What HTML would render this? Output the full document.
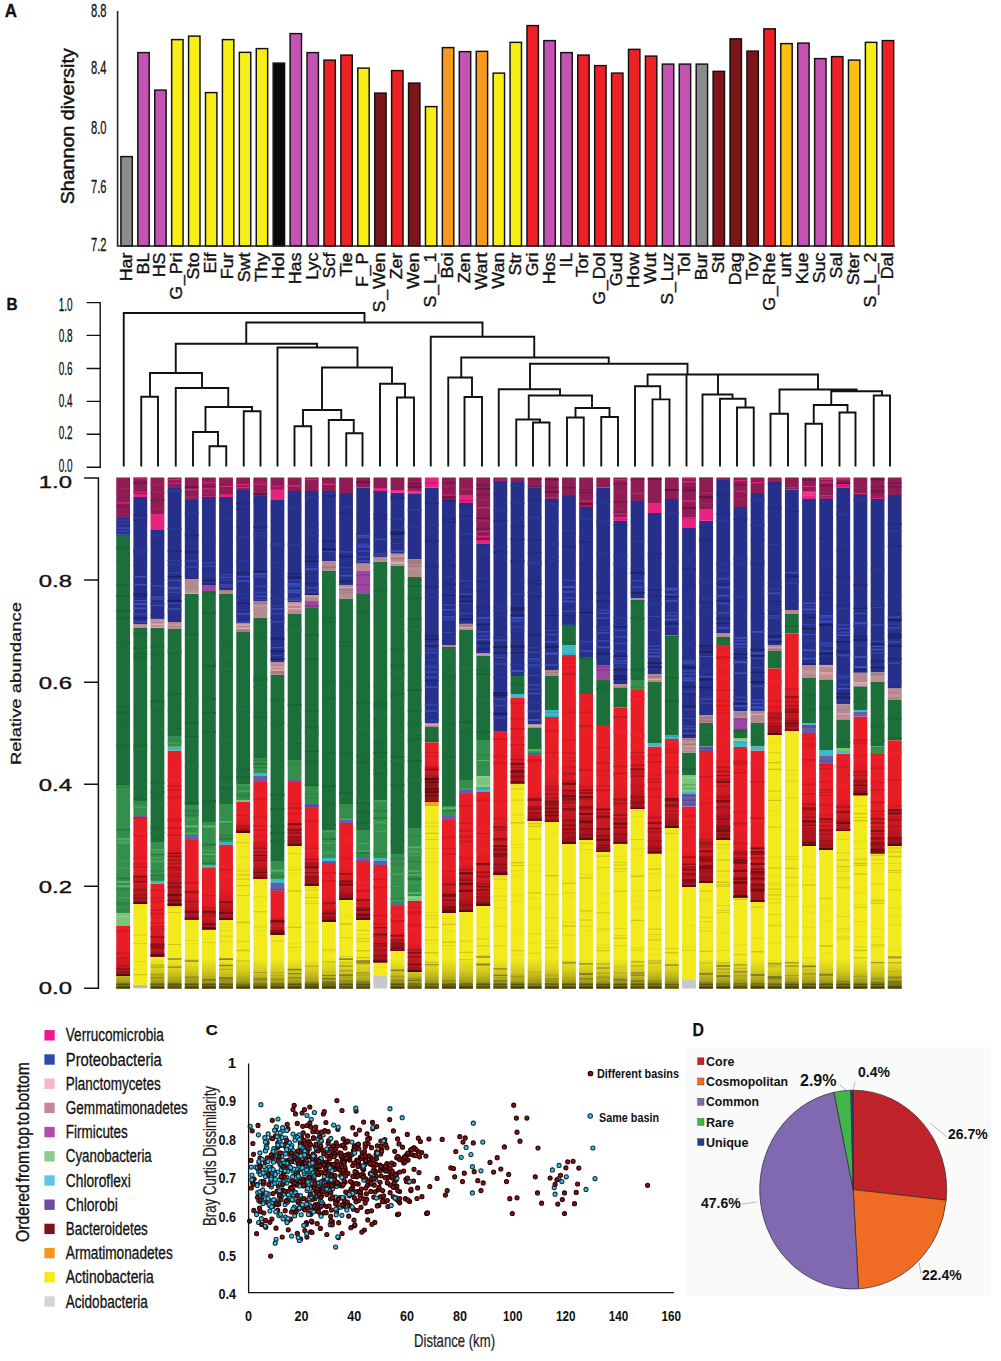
<!DOCTYPE html>
<html><head><meta charset="utf-8"><style>
html,body{margin:0;padding:0;background:#fff;width:1001px;height:1361px;overflow:hidden}
svg{display:block;font-family:"Liberation Sans", sans-serif}
</style></head><body>
<svg width="1001" height="1361" viewBox="0 0 1001 1361">
<rect width="1001" height="1361" fill="#fff"/>
<rect x="120.90" y="156.60" width="11.4" height="89.40" fill="#8c8c8c" stroke="#111" stroke-width="1.45"/>
<rect x="137.82" y="52.60" width="11.4" height="193.40" fill="#c453b4" stroke="#111" stroke-width="1.45"/>
<rect x="154.74" y="90.10" width="11.4" height="155.90" fill="#c453b4" stroke="#111" stroke-width="1.45"/>
<rect x="171.66" y="39.60" width="11.4" height="206.40" fill="#f7ee15" stroke="#111" stroke-width="1.45"/>
<rect x="188.58" y="36.10" width="11.4" height="209.90" fill="#f7ee15" stroke="#111" stroke-width="1.45"/>
<rect x="205.50" y="92.60" width="11.4" height="153.40" fill="#f7ee15" stroke="#111" stroke-width="1.45"/>
<rect x="222.42" y="39.60" width="11.4" height="206.40" fill="#f7ee15" stroke="#111" stroke-width="1.45"/>
<rect x="239.34" y="52.35" width="11.4" height="193.65" fill="#f7ee15" stroke="#111" stroke-width="1.45"/>
<rect x="256.26" y="48.60" width="11.4" height="197.40" fill="#f7ee15" stroke="#111" stroke-width="1.45"/>
<rect x="273.18" y="63.10" width="11.4" height="182.90" fill="#0a0a0a" stroke="#111" stroke-width="1.45"/>
<rect x="290.10" y="33.60" width="11.4" height="212.40" fill="#c453b4" stroke="#111" stroke-width="1.45"/>
<rect x="307.02" y="52.60" width="11.4" height="193.40" fill="#c453b4" stroke="#111" stroke-width="1.45"/>
<rect x="323.94" y="60.10" width="11.4" height="185.90" fill="#ee2226" stroke="#111" stroke-width="1.45"/>
<rect x="340.86" y="55.10" width="11.4" height="190.90" fill="#ee2226" stroke="#111" stroke-width="1.45"/>
<rect x="357.78" y="68.10" width="11.4" height="177.90" fill="#f7ee15" stroke="#111" stroke-width="1.45"/>
<rect x="374.70" y="93.10" width="11.4" height="152.90" fill="#7d1519" stroke="#111" stroke-width="1.45"/>
<rect x="391.62" y="70.60" width="11.4" height="175.40" fill="#ee2226" stroke="#111" stroke-width="1.45"/>
<rect x="408.54" y="83.10" width="11.4" height="162.90" fill="#7d1519" stroke="#111" stroke-width="1.45"/>
<rect x="425.46" y="106.60" width="11.4" height="139.40" fill="#f7ee15" stroke="#111" stroke-width="1.45"/>
<rect x="442.38" y="47.60" width="11.4" height="198.40" fill="#f7991e" stroke="#111" stroke-width="1.45"/>
<rect x="459.30" y="51.60" width="11.4" height="194.40" fill="#c453b4" stroke="#111" stroke-width="1.45"/>
<rect x="476.22" y="51.35" width="11.4" height="194.65" fill="#f7991e" stroke="#111" stroke-width="1.45"/>
<rect x="493.14" y="73.10" width="11.4" height="172.90" fill="#f7ee15" stroke="#111" stroke-width="1.45"/>
<rect x="510.06" y="42.35" width="11.4" height="203.65" fill="#f7ee15" stroke="#111" stroke-width="1.45"/>
<rect x="526.98" y="25.60" width="11.4" height="220.40" fill="#ee2226" stroke="#111" stroke-width="1.45"/>
<rect x="543.90" y="40.60" width="11.4" height="205.40" fill="#c453b4" stroke="#111" stroke-width="1.45"/>
<rect x="560.82" y="52.60" width="11.4" height="193.40" fill="#c453b4" stroke="#111" stroke-width="1.45"/>
<rect x="577.74" y="55.10" width="11.4" height="190.90" fill="#ee2226" stroke="#111" stroke-width="1.45"/>
<rect x="594.66" y="65.60" width="11.4" height="180.40" fill="#ee2226" stroke="#111" stroke-width="1.45"/>
<rect x="611.58" y="73.10" width="11.4" height="172.90" fill="#ee2226" stroke="#111" stroke-width="1.45"/>
<rect x="628.50" y="49.35" width="11.4" height="196.65" fill="#ee2226" stroke="#111" stroke-width="1.45"/>
<rect x="645.42" y="56.10" width="11.4" height="189.90" fill="#ee2226" stroke="#111" stroke-width="1.45"/>
<rect x="662.34" y="64.10" width="11.4" height="181.90" fill="#c453b4" stroke="#111" stroke-width="1.45"/>
<rect x="679.26" y="64.10" width="11.4" height="181.90" fill="#c453b4" stroke="#111" stroke-width="1.45"/>
<rect x="696.18" y="64.10" width="11.4" height="181.90" fill="#8c8c8c" stroke="#111" stroke-width="1.45"/>
<rect x="713.10" y="71.35" width="11.4" height="174.65" fill="#7d1519" stroke="#111" stroke-width="1.45"/>
<rect x="730.02" y="38.85" width="11.4" height="207.15" fill="#7d1519" stroke="#111" stroke-width="1.45"/>
<rect x="746.94" y="51.10" width="11.4" height="194.90" fill="#7d1519" stroke="#111" stroke-width="1.45"/>
<rect x="763.86" y="28.85" width="11.4" height="217.15" fill="#ee2226" stroke="#111" stroke-width="1.45"/>
<rect x="780.78" y="43.60" width="11.4" height="202.40" fill="#fdbf12" stroke="#111" stroke-width="1.45"/>
<rect x="797.70" y="43.10" width="11.4" height="202.90" fill="#c453b4" stroke="#111" stroke-width="1.45"/>
<rect x="814.62" y="58.60" width="11.4" height="187.40" fill="#c453b4" stroke="#111" stroke-width="1.45"/>
<rect x="831.54" y="56.60" width="11.4" height="189.40" fill="#ee2226" stroke="#111" stroke-width="1.45"/>
<rect x="848.46" y="60.10" width="11.4" height="185.90" fill="#fdbf12" stroke="#111" stroke-width="1.45"/>
<rect x="865.38" y="42.35" width="11.4" height="203.65" fill="#f7ee15" stroke="#111" stroke-width="1.45"/>
<rect x="882.30" y="40.60" width="11.4" height="205.40" fill="#ee2226" stroke="#111" stroke-width="1.45"/>
<path d="M117.6 11 V246 H895" fill="none" stroke="#222" stroke-width="1.6"/>
<text x="106.5" y="16.9" text-anchor="end" font-size="18.5" textLength="15.5" lengthAdjust="spacingAndGlyphs" fill="#111" stroke="#111" stroke-width="0.3">8.8</text>
<text x="106.5" y="73.5" text-anchor="end" font-size="18.5" textLength="15.5" lengthAdjust="spacingAndGlyphs" fill="#111" stroke="#111" stroke-width="0.3">8.4</text>
<text x="106.5" y="134.3" text-anchor="end" font-size="18.5" textLength="15.5" lengthAdjust="spacingAndGlyphs" fill="#111" stroke="#111" stroke-width="0.3">8.0</text>
<text x="106.5" y="193.2" text-anchor="end" font-size="18.5" textLength="15.5" lengthAdjust="spacingAndGlyphs" fill="#111" stroke="#111" stroke-width="0.3">7.6</text>
<text x="106.5" y="251.0" text-anchor="end" font-size="18.5" textLength="15.5" lengthAdjust="spacingAndGlyphs" fill="#111" stroke="#111" stroke-width="0.3">7.2</text>
<text transform="translate(74.4,204.3) rotate(-90)" font-size="18.5" textLength="156" lengthAdjust="spacingAndGlyphs" fill="#111" stroke="#111" stroke-width="0.45">Shannon  diversity</text>
<text x="4.8" y="16.8" font-size="18" font-weight="bold" stroke="#111" stroke-width="0.3" textLength="12.2" lengthAdjust="spacingAndGlyphs" fill="#111">A</text>
<text transform="translate(131.60,252.5) rotate(-90) scale(1.12,1)" text-anchor="end" font-size="16" fill="#111" stroke="#111" stroke-width="0.35">Har</text>
<text transform="translate(148.52,252.5) rotate(-90) scale(1.12,1)" text-anchor="end" font-size="16" fill="#111" stroke="#111" stroke-width="0.35">BL</text>
<text transform="translate(165.44,252.5) rotate(-90) scale(1.12,1)" text-anchor="end" font-size="16" fill="#111" stroke="#111" stroke-width="0.35">HS</text>
<text transform="translate(182.36,252.5) rotate(-90) scale(1.12,1)" text-anchor="end" font-size="16" fill="#111" stroke="#111" stroke-width="0.35">G<tspan dx="0.7">_</tspan><tspan dx="0.7">Pri</tspan></text>
<text transform="translate(199.28,252.5) rotate(-90) scale(1.12,1)" text-anchor="end" font-size="16" fill="#111" stroke="#111" stroke-width="0.35">Sto</text>
<text transform="translate(216.20,252.5) rotate(-90) scale(1.12,1)" text-anchor="end" font-size="16" fill="#111" stroke="#111" stroke-width="0.35">Eif</text>
<text transform="translate(233.12,252.5) rotate(-90) scale(1.12,1)" text-anchor="end" font-size="16" fill="#111" stroke="#111" stroke-width="0.35">Fur</text>
<text transform="translate(250.04,252.5) rotate(-90) scale(1.12,1)" text-anchor="end" font-size="16" fill="#111" stroke="#111" stroke-width="0.35">Swt</text>
<text transform="translate(266.96,252.5) rotate(-90) scale(1.12,1)" text-anchor="end" font-size="16" fill="#111" stroke="#111" stroke-width="0.35">Thy</text>
<text transform="translate(283.88,252.5) rotate(-90) scale(1.12,1)" text-anchor="end" font-size="16" fill="#111" stroke="#111" stroke-width="0.35">Hol</text>
<text transform="translate(300.80,252.5) rotate(-90) scale(1.12,1)" text-anchor="end" font-size="16" fill="#111" stroke="#111" stroke-width="0.35">Has</text>
<text transform="translate(317.72,252.5) rotate(-90) scale(1.12,1)" text-anchor="end" font-size="16" fill="#111" stroke="#111" stroke-width="0.35">Lyc</text>
<text transform="translate(334.64,252.5) rotate(-90) scale(1.12,1)" text-anchor="end" font-size="16" fill="#111" stroke="#111" stroke-width="0.35">Scf</text>
<text transform="translate(351.56,252.5) rotate(-90) scale(1.12,1)" text-anchor="end" font-size="16" fill="#111" stroke="#111" stroke-width="0.35">Tie</text>
<text transform="translate(368.48,252.5) rotate(-90) scale(1.12,1)" text-anchor="end" font-size="16" fill="#111" stroke="#111" stroke-width="0.35">F<tspan dx="0.7">_</tspan><tspan dx="0.7">P</tspan></text>
<text transform="translate(385.40,252.5) rotate(-90) scale(1.12,1)" text-anchor="end" font-size="16" fill="#111" stroke="#111" stroke-width="0.35">S<tspan dx="0.7">_</tspan><tspan dx="0.7">Wen</tspan></text>
<text transform="translate(402.32,252.5) rotate(-90) scale(1.12,1)" text-anchor="end" font-size="16" fill="#111" stroke="#111" stroke-width="0.35">Zer</text>
<text transform="translate(419.24,252.5) rotate(-90) scale(1.12,1)" text-anchor="end" font-size="16" fill="#111" stroke="#111" stroke-width="0.35">Wen</text>
<text transform="translate(436.16,252.5) rotate(-90) scale(1.12,1)" text-anchor="end" font-size="16" fill="#111" stroke="#111" stroke-width="0.35">S<tspan dx="0.7">_</tspan><tspan dx="0.7">L<tspan dx="0.7">_</tspan><tspan dx="0.7">1</tspan></tspan></text>
<text transform="translate(453.08,252.5) rotate(-90) scale(1.12,1)" text-anchor="end" font-size="16" fill="#111" stroke="#111" stroke-width="0.35">Boi</text>
<text transform="translate(470.00,252.5) rotate(-90) scale(1.12,1)" text-anchor="end" font-size="16" fill="#111" stroke="#111" stroke-width="0.35">Zen</text>
<text transform="translate(486.92,252.5) rotate(-90) scale(1.12,1)" text-anchor="end" font-size="16" fill="#111" stroke="#111" stroke-width="0.35">Wart</text>
<text transform="translate(503.84,252.5) rotate(-90) scale(1.12,1)" text-anchor="end" font-size="16" fill="#111" stroke="#111" stroke-width="0.35">Wan</text>
<text transform="translate(520.76,252.5) rotate(-90) scale(1.12,1)" text-anchor="end" font-size="16" fill="#111" stroke="#111" stroke-width="0.35">Str</text>
<text transform="translate(537.68,252.5) rotate(-90) scale(1.12,1)" text-anchor="end" font-size="16" fill="#111" stroke="#111" stroke-width="0.35">Gri</text>
<text transform="translate(554.60,252.5) rotate(-90) scale(1.12,1)" text-anchor="end" font-size="16" fill="#111" stroke="#111" stroke-width="0.35">Hos</text>
<text transform="translate(571.52,252.5) rotate(-90) scale(1.12,1)" text-anchor="end" font-size="16" fill="#111" stroke="#111" stroke-width="0.35">IL</text>
<text transform="translate(588.44,252.5) rotate(-90) scale(1.12,1)" text-anchor="end" font-size="16" fill="#111" stroke="#111" stroke-width="0.35">Tor</text>
<text transform="translate(605.36,252.5) rotate(-90) scale(1.12,1)" text-anchor="end" font-size="16" fill="#111" stroke="#111" stroke-width="0.35">G<tspan dx="0.7">_</tspan><tspan dx="0.7">Dol</tspan></text>
<text transform="translate(622.28,252.5) rotate(-90) scale(1.12,1)" text-anchor="end" font-size="16" fill="#111" stroke="#111" stroke-width="0.35">Gud</text>
<text transform="translate(639.20,252.5) rotate(-90) scale(1.12,1)" text-anchor="end" font-size="16" fill="#111" stroke="#111" stroke-width="0.35">How</text>
<text transform="translate(656.12,252.5) rotate(-90) scale(1.12,1)" text-anchor="end" font-size="16" fill="#111" stroke="#111" stroke-width="0.35">Wut</text>
<text transform="translate(673.04,252.5) rotate(-90) scale(1.12,1)" text-anchor="end" font-size="16" fill="#111" stroke="#111" stroke-width="0.35">S<tspan dx="0.7">_</tspan><tspan dx="0.7">Luz</tspan></text>
<text transform="translate(689.96,252.5) rotate(-90) scale(1.12,1)" text-anchor="end" font-size="16" fill="#111" stroke="#111" stroke-width="0.35">Tol</text>
<text transform="translate(706.88,252.5) rotate(-90) scale(1.12,1)" text-anchor="end" font-size="16" fill="#111" stroke="#111" stroke-width="0.35">Bur</text>
<text transform="translate(723.80,252.5) rotate(-90) scale(1.12,1)" text-anchor="end" font-size="16" fill="#111" stroke="#111" stroke-width="0.35">Stl</text>
<text transform="translate(740.72,252.5) rotate(-90) scale(1.12,1)" text-anchor="end" font-size="16" fill="#111" stroke="#111" stroke-width="0.35">Dag</text>
<text transform="translate(757.64,252.5) rotate(-90) scale(1.12,1)" text-anchor="end" font-size="16" fill="#111" stroke="#111" stroke-width="0.35">Toy</text>
<text transform="translate(774.56,252.5) rotate(-90) scale(1.12,1)" text-anchor="end" font-size="16" fill="#111" stroke="#111" stroke-width="0.35">G<tspan dx="0.7">_</tspan><tspan dx="0.7">Rhe</tspan></text>
<text transform="translate(791.48,252.5) rotate(-90) scale(1.12,1)" text-anchor="end" font-size="16" fill="#111" stroke="#111" stroke-width="0.35">unt</text>
<text transform="translate(808.40,252.5) rotate(-90) scale(1.12,1)" text-anchor="end" font-size="16" fill="#111" stroke="#111" stroke-width="0.35">Kue</text>
<text transform="translate(825.32,252.5) rotate(-90) scale(1.12,1)" text-anchor="end" font-size="16" fill="#111" stroke="#111" stroke-width="0.35">Suc</text>
<text transform="translate(842.24,252.5) rotate(-90) scale(1.12,1)" text-anchor="end" font-size="16" fill="#111" stroke="#111" stroke-width="0.35">Sal</text>
<text transform="translate(859.16,252.5) rotate(-90) scale(1.12,1)" text-anchor="end" font-size="16" fill="#111" stroke="#111" stroke-width="0.35">Ster</text>
<text transform="translate(876.08,252.5) rotate(-90) scale(1.12,1)" text-anchor="end" font-size="16" fill="#111" stroke="#111" stroke-width="0.35">S<tspan dx="0.7">_</tspan><tspan dx="0.7">L<tspan dx="0.7">_</tspan><tspan dx="0.7">2</tspan></tspan></text>
<text transform="translate(893.00,252.5) rotate(-90) scale(1.12,1)" text-anchor="end" font-size="16" fill="#111" stroke="#111" stroke-width="0.35">Dal</text>
<text x="6.6" y="309.6" font-size="15.8" font-weight="bold" stroke="#111" stroke-width="0.3" textLength="11.1" lengthAdjust="spacingAndGlyphs" fill="#111">B</text>
<path d="M86.6 302.6 H100.2 V467.3 H86.6 M86.6 335.4 H100.2 M86.6 368.5 H100.2 M86.6 401.4 H100.2 M86.6 434.2 H100.2" fill="none" stroke="#111" stroke-width="1.4"/>
<text x="72.6" y="310.6" text-anchor="end" font-size="18" textLength="13.8" lengthAdjust="spacingAndGlyphs" fill="#111" stroke="#111" stroke-width="0.3">1.0</text>
<text x="72.6" y="342.40000000000003" text-anchor="end" font-size="18" textLength="13.8" lengthAdjust="spacingAndGlyphs" fill="#111" stroke="#111" stroke-width="0.3">0.8</text>
<text x="72.6" y="374.8" text-anchor="end" font-size="18" textLength="13.8" lengthAdjust="spacingAndGlyphs" fill="#111" stroke="#111" stroke-width="0.3">0.6</text>
<text x="72.6" y="407.3" text-anchor="end" font-size="18" textLength="13.8" lengthAdjust="spacingAndGlyphs" fill="#111" stroke="#111" stroke-width="0.3">0.4</text>
<text x="72.6" y="439.40000000000003" text-anchor="end" font-size="18" textLength="13.8" lengthAdjust="spacingAndGlyphs" fill="#111" stroke="#111" stroke-width="0.3">0.2</text>
<text x="72.6" y="471.5" text-anchor="end" font-size="18" textLength="13.8" lengthAdjust="spacingAndGlyphs" fill="#111" stroke="#111" stroke-width="0.3">0.0</text>
<path d="M123.75 466.5 V313 H364.5 V322.5 M246.25 343.75 V322.5 H482.5 V336.75 M175.75 373 V343.75 H317 V347.5 M150 396.75 V373 H202 V388 M141.25 466.5 V396.75 H158 V466.5 M175.75 466.5 V388 H228.25 V407 M205.5 432 V407 H252 V411.25 M193 466.5 V432 H218 V446.25 M209.5 466.5 V446.25 H226.25 V466.5 M243.75 466.5 V411.25 H260.5 V466.5 M277.5 466.5 V347.5 H357.5 V367.5 M322 410 V367.5 H392 V383.75 M303 426.25 V410 H341.25 V420 M294.5 466.5 V426.25 H311.25 V466.5 M328.75 466.5 V420 H353.75 V433.25 M346.25 466.5 V433.25 H362.5 V466.5 M380 466.5 V383.75 H405 V397.5 M397 466.5 V397.5 H414 V466.5 M430.75 466.5 V336.75 H534.25 V357.5 M461.25 377.5 V357.5 H608.75 V363.75 M448.25 466.5 V377.5 H472 V397 M464.5 466.5 V397 H482 V466.5 M530 389.25 V363.75 H687.5 V374.5 M498.75 466.5 V389.25 H560 V395.5 M528.75 419.5 V395.5 H592 V408 M516.25 466.5 V419.5 H540 V422.5 M533 466.5 V422.5 H549.5 V466.5 M575.5 417.5 V408 H609.5 V417 M567 466.5 V417.5 H583.75 V466.5 M601.25 466.5 V417 H618 V466.5 M686.5 374.5 V466.5 M647.6 386.2 V374.5 H818 V389.5 M718 374.5 V394.5 M635 466.5 V386.2 H660.2 V399.4 M652.5 466.5 V399.4 H669.5 V466.5 M702.5 466.5 V394.5 H732.5 V398.75 M720 466.5 V398.75 H745.5 V407.5 M737 466.5 V407.5 H753.75 V466.5 M779.5 413.75 V389.5 H856.6 V391.25 M770.5 466.5 V413.75 H788 V466.5 M831.25 405 V391.25 H882 V395.5 M813.75 423.75 V405 H847.5 V412.5 M805.5 466.5 V423.75 H822 V466.5 M839.5 466.5 V412.5 H855.5 V466.5 M873.75 466.5 V395.5 H890 V466.5" fill="none" stroke="#111" stroke-width="1.9" stroke-linejoin="miter"/>
<path d="M116.25 477.50h13.80v40.50h-13.80zM133.40 477.50h13.80v16.50h-13.80zM150.54 477.50h13.80v36.50h-13.80zM167.69 477.50h13.80v10.50h-13.80zM184.83 477.50h13.80v22.50h-13.80zM201.98 477.50h13.80v19.50h-13.80zM219.13 477.50h13.80v16.50h-13.80zM236.27 477.50h13.80v12.50h-13.80zM253.42 477.50h13.80v18.50h-13.80zM270.56 477.50h13.80v12.50h-13.80zM287.71 477.50h13.80v13.50h-13.80zM304.86 477.50h13.80v13.50h-13.80zM322.00 477.50h13.80v13.50h-13.80zM339.15 477.50h13.80v15.50h-13.80zM356.29 477.50h13.80v10.00h-13.80zM373.44 477.50h13.80v10.50h-13.80zM390.59 477.50h13.80v12.50h-13.80zM407.73 477.50h13.80v13.50h-13.80zM442.02 477.50h13.80v21.50h-13.80zM459.17 477.50h13.80v17.50h-13.80zM476.32 477.50h13.80v62.50h-13.80zM493.46 477.50h13.80v4.50h-13.80zM510.61 477.50h13.80v4.50h-13.80zM527.75 477.50h13.80v10.00h-13.80zM544.90 477.50h13.80v21.50h-13.80zM562.05 477.50h13.80v17.50h-13.80zM579.19 477.50h13.80v29.50h-13.80zM596.34 477.50h13.80v10.00h-13.80zM613.48 477.50h13.80v39.50h-13.80zM630.63 477.50h13.80v23.50h-13.80zM647.78 477.50h13.80v25.50h-13.80zM664.92 477.50h13.80v21.50h-13.80zM682.07 477.50h13.80v39.50h-13.80zM699.21 477.50h13.80v31.50h-13.80zM716.36 477.50h13.80v2.50h-13.80zM733.51 477.50h13.80v29.50h-13.80zM750.65 477.50h13.80v15.50h-13.80zM767.80 477.50h13.80v4.50h-13.80zM784.94 477.50h13.80v12.00h-13.80zM802.09 477.50h13.80v13.50h-13.80zM819.24 477.50h13.80v21.50h-13.80zM836.38 477.50h13.80v10.00h-13.80zM853.53 477.50h13.80v17.50h-13.80zM870.67 477.50h13.80v21.50h-13.80zM887.82 477.50h13.80v17.50h-13.80z" fill="#8e1d55"/>
<path d="M116.25 518.00h13.80v17.00h-13.80zM133.40 497.00h13.80v127.00h-13.80zM150.54 530.00h13.80v89.00h-13.80zM167.69 488.00h13.80v134.00h-13.80zM184.83 500.00h13.80v79.00h-13.80zM201.98 497.00h13.80v88.00h-13.80zM219.13 497.00h13.80v93.00h-13.80zM236.27 490.00h13.80v133.00h-13.80zM253.42 496.00h13.80v105.00h-13.80zM270.56 500.00h13.80v162.00h-13.80zM287.71 491.00h13.80v111.00h-13.80zM304.86 491.00h13.80v104.00h-13.80zM322.00 491.00h13.80v70.50h-13.80zM339.15 493.00h13.80v92.00h-13.80zM356.29 487.50h13.80v76.00h-13.80zM373.44 491.00h13.80v66.60h-13.80zM390.59 493.00h13.80v60.70h-13.80zM407.73 494.00h13.80v65.60h-13.80zM424.88 487.50h13.80v235.50h-13.80zM442.02 499.00h13.80v146.00h-13.80zM459.17 503.00h13.80v121.00h-13.80zM476.32 544.00h13.80v109.00h-13.80zM493.46 482.00h13.80v249.00h-13.80zM510.61 482.00h13.80v194.00h-13.80zM527.75 487.50h13.80v236.50h-13.80zM544.90 499.00h13.80v171.00h-13.80zM562.05 495.00h13.80v131.00h-13.80zM579.19 507.00h13.80v150.00h-13.80zM596.34 487.50h13.80v177.50h-13.80zM613.48 521.00h13.80v163.00h-13.80zM630.63 501.00h13.80v97.50h-13.80zM647.78 513.00h13.80v161.00h-13.80zM664.92 499.00h13.80v136.50h-13.80zM682.07 528.00h13.80v210.00h-13.80zM699.21 521.00h13.80v194.00h-13.80zM716.36 480.00h13.80v153.50h-13.80zM733.51 507.00h13.80v204.00h-13.80zM750.65 493.00h13.80v218.00h-13.80zM767.80 482.00h13.80v163.00h-13.80zM784.94 489.50h13.80v120.50h-13.80zM802.09 499.00h13.80v166.00h-13.80zM819.24 499.00h13.80v166.00h-13.80zM836.38 487.50h13.80v216.80h-13.80zM853.53 495.00h13.80v177.50h-13.80zM870.67 499.00h13.80v173.50h-13.80zM887.82 495.00h13.80v193.00h-13.80z" fill="#262f8a"/>
<path d="M116.25 535.00h13.80v250.00h-13.80zM133.40 628.00h13.80v173.00h-13.80zM150.54 628.00h13.80v214.00h-13.80zM167.69 629.00h13.80v107.00h-13.80zM184.83 594.00h13.80v211.00h-13.80zM201.98 591.00h13.80v231.00h-13.80zM219.13 594.00h13.80v210.00h-13.80zM236.27 632.00h13.80v152.00h-13.80zM253.42 618.00h13.80v140.00h-13.80zM270.56 675.00h13.80v186.00h-13.80zM287.71 614.00h13.80v146.00h-13.80zM304.86 608.00h13.80v178.00h-13.80zM322.00 570.50h13.80v259.50h-13.80zM339.15 598.50h13.80v205.50h-13.80zM356.29 594.00h13.80v236.00h-13.80zM373.44 561.50h13.80v238.50h-13.80zM390.59 565.40h13.80v288.60h-13.80zM407.73 577.00h13.80v251.00h-13.80zM424.88 727.00h13.80v15.60h-13.80zM442.02 647.00h13.80v159.00h-13.80zM459.17 630.00h13.80v150.00h-13.80zM476.32 656.00h13.80v84.00h-13.80zM510.61 676.00h13.80v18.00h-13.80zM527.75 728.00h13.80v21.00h-13.80zM544.90 676.00h13.80v34.00h-13.80zM562.05 626.00h13.80v19.00h-13.80zM579.19 657.00h13.80v37.00h-13.80zM596.34 680.00h13.80v45.00h-13.80zM613.48 688.00h13.80v19.50h-13.80zM630.63 600.00h13.80v80.00h-13.80zM647.78 682.00h13.80v61.00h-13.80zM664.92 635.50h13.80v99.50h-13.80zM682.07 752.60h13.80v22.40h-13.80zM699.21 723.00h13.80v23.50h-13.80zM716.36 637.00h13.80v8.00h-13.80zM733.51 729.00h13.80v9.00h-13.80zM750.65 723.00h13.80v23.50h-13.80zM767.80 651.00h13.80v17.60h-13.80zM784.94 614.00h13.80v19.50h-13.80zM802.09 678.00h13.80v45.00h-13.80zM819.24 680.00h13.80v70.00h-13.80zM836.38 720.00h13.80v28.00h-13.80zM853.53 686.30h13.80v23.70h-13.80zM870.67 682.00h13.80v64.50h-13.80zM887.82 700.00h13.80v40.60h-13.80z" fill="#1c6f3a"/>
<path d="M116.25 785.00h13.80v128.00h-13.80zM133.40 801.00h13.80v14.00h-13.80zM150.54 842.00h13.80v39.00h-13.80zM167.69 736.00h13.80v11.00h-13.80zM184.83 805.00h13.80v31.00h-13.80zM201.98 822.00h13.80v43.00h-13.80zM219.13 804.00h13.80v38.00h-13.80zM236.27 784.00h13.80v16.00h-13.80zM253.42 758.00h13.80v15.00h-13.80zM270.56 861.00h13.80v18.00h-13.80zM287.71 760.00h13.80v20.00h-13.80zM304.86 786.00h13.80v18.00h-13.80zM322.00 830.00h13.80v28.00h-13.80zM339.15 804.00h13.80v16.00h-13.80zM356.29 830.00h13.80v28.00h-13.80zM373.44 800.00h13.80v58.00h-13.80zM390.59 854.00h13.80v49.00h-13.80zM407.73 828.00h13.80v68.00h-13.80zM442.02 806.00h13.80v10.00h-13.80zM459.17 780.00h13.80v10.00h-13.80zM476.32 740.00h13.80v36.00h-13.80zM527.75 749.00h13.80v4.00h-13.80zM630.63 680.00h13.80v10.00h-13.80zM870.67 746.50h13.80v7.50h-13.80z" fill="#358f4c"/>
<path d="M116.25 913.00h13.80v13.00h-13.80zM236.27 800.00h13.80v2.00h-13.80zM407.73 896.00h13.80v5.00h-13.80zM476.32 776.00h13.80v11.00h-13.80zM682.07 775.00h13.80v17.00h-13.80zM733.51 738.00h13.80v3.00h-13.80zM836.38 748.00h13.80v3.00h-13.80z" fill="#7cc47c"/>
<path d="M116.25 926.00h13.80v50.00h-13.80zM133.40 817.00h13.80v87.00h-13.80zM150.54 883.50h13.80v73.30h-13.80zM167.69 750.50h13.80v155.50h-13.80zM184.83 840.00h13.80v79.80h-13.80zM201.98 868.00h13.80v61.50h-13.80zM219.13 844.50h13.80v75.50h-13.80zM236.27 802.00h13.80v31.00h-13.80zM253.42 782.00h13.80v97.00h-13.80zM270.56 890.60h13.80v44.40h-13.80zM287.71 782.00h13.80v64.00h-13.80zM304.86 808.00h13.80v78.00h-13.80zM322.00 864.00h13.80v58.00h-13.80zM339.15 823.00h13.80v77.00h-13.80zM356.29 862.00h13.80v58.00h-13.80zM373.44 865.00h13.80v97.60h-13.80zM390.59 906.00h13.80v45.00h-13.80zM407.73 901.00h13.80v71.00h-13.80zM424.88 742.60h13.80v37.40h-13.80zM442.02 820.00h13.80v93.00h-13.80zM459.17 794.00h13.80v118.00h-13.80zM476.32 792.00h13.80v114.00h-13.80zM493.46 731.00h13.80v144.00h-13.80zM510.61 698.00h13.80v85.50h-13.80zM527.75 756.00h13.80v65.00h-13.80zM544.90 717.00h13.80v105.00h-13.80zM562.05 655.00h13.80v189.00h-13.80zM579.19 694.00h13.80v146.00h-13.80zM596.34 725.00h13.80v127.00h-13.80zM613.48 707.50h13.80v136.50h-13.80zM630.63 690.00h13.80v119.00h-13.80zM647.78 746.50h13.80v107.10h-13.80zM664.92 739.00h13.80v89.00h-13.80zM682.07 806.50h13.80v80.50h-13.80zM699.21 752.00h13.80v131.00h-13.80zM716.36 645.00h13.80v195.00h-13.80zM733.51 747.00h13.80v151.00h-13.80zM750.65 750.40h13.80v151.60h-13.80zM767.80 668.60h13.80v66.40h-13.80zM784.94 633.50h13.80v97.50h-13.80zM802.09 733.00h13.80v113.00h-13.80zM819.24 764.00h13.80v86.00h-13.80zM836.38 753.70h13.80v77.30h-13.80zM853.53 716.60h13.80v78.70h-13.80zM870.67 754.00h13.80v99.60h-13.80zM887.82 740.60h13.80v105.40h-13.80z" fill="#e91d25"/>
<path d="M116.25 976.00h13.80v12.50h-13.80zM133.40 904.00h13.80v81.00h-13.80zM150.54 956.80h13.80v31.70h-13.80zM167.69 906.00h13.80v82.50h-13.80zM184.83 919.80h13.80v68.70h-13.80zM201.98 929.50h13.80v59.00h-13.80zM219.13 920.00h13.80v68.50h-13.80zM236.27 833.00h13.80v155.50h-13.80zM253.42 879.00h13.80v109.50h-13.80zM270.56 935.00h13.80v53.50h-13.80zM287.71 846.00h13.80v142.50h-13.80zM304.86 886.00h13.80v102.50h-13.80zM322.00 922.00h13.80v66.50h-13.80zM339.15 900.00h13.80v88.50h-13.80zM356.29 920.00h13.80v68.50h-13.80zM373.44 962.60h13.80v13.40h-13.80zM390.59 951.00h13.80v37.50h-13.80zM407.73 972.00h13.80v16.50h-13.80zM424.88 806.00h13.80v182.50h-13.80zM442.02 913.00h13.80v75.50h-13.80zM459.17 912.00h13.80v76.50h-13.80zM476.32 906.00h13.80v82.50h-13.80zM493.46 875.00h13.80v113.50h-13.80zM510.61 783.50h13.80v205.00h-13.80zM527.75 821.00h13.80v167.50h-13.80zM544.90 822.00h13.80v166.50h-13.80zM562.05 844.00h13.80v144.50h-13.80zM579.19 840.00h13.80v148.50h-13.80zM596.34 852.00h13.80v136.50h-13.80zM613.48 844.00h13.80v144.50h-13.80zM630.63 809.00h13.80v179.50h-13.80zM647.78 853.60h13.80v134.90h-13.80zM664.92 828.00h13.80v160.50h-13.80zM682.07 887.00h13.80v93.00h-13.80zM699.21 883.00h13.80v105.50h-13.80zM716.36 840.00h13.80v148.50h-13.80zM733.51 898.00h13.80v90.50h-13.80zM750.65 902.00h13.80v86.50h-13.80zM767.80 735.00h13.80v253.50h-13.80zM784.94 731.00h13.80v257.50h-13.80zM802.09 846.00h13.80v142.50h-13.80zM819.24 850.00h13.80v138.50h-13.80zM836.38 831.00h13.80v157.50h-13.80zM853.53 795.30h13.80v193.20h-13.80zM870.67 853.60h13.80v134.90h-13.80zM887.82 846.00h13.80v142.50h-13.80z" fill="#f3ea1e"/>
<path d="M133.40 494.00h13.80v3.00h-13.80zM150.54 514.00h13.80v16.00h-13.80zM219.13 494.00h13.80v3.00h-13.80zM270.56 490.00h13.80v10.00h-13.80zM373.44 488.00h13.80v3.00h-13.80zM390.59 490.00h13.80v3.00h-13.80zM407.73 491.00h13.80v3.00h-13.80zM424.88 477.50h13.80v10.00h-13.80zM459.17 495.00h13.80v8.00h-13.80zM476.32 540.00h13.80v4.00h-13.80zM613.48 517.00h13.80v4.00h-13.80zM647.78 503.00h13.80v10.00h-13.80zM682.07 517.00h13.80v11.00h-13.80zM699.21 509.00h13.80v12.00h-13.80zM802.09 491.00h13.80v8.00h-13.80z" fill="#e8237f"/>
<path d="M133.40 624.00h13.80v4.00h-13.80zM150.54 619.00h13.80v9.00h-13.80zM167.69 622.00h13.80v7.00h-13.80zM184.83 579.00h13.80v15.00h-13.80zM219.13 590.00h13.80v4.00h-13.80zM236.27 623.00h13.80v9.00h-13.80zM253.42 601.00h13.80v17.00h-13.80zM270.56 662.00h13.80v13.00h-13.80zM287.71 602.00h13.80v12.00h-13.80zM304.86 595.00h13.80v6.00h-13.80zM322.00 561.50h13.80v9.00h-13.80zM339.15 585.00h13.80v13.50h-13.80zM356.29 563.50h13.80v7.00h-13.80zM373.44 557.60h13.80v3.90h-13.80zM390.59 553.70h13.80v11.70h-13.80zM407.73 559.60h13.80v17.40h-13.80zM424.88 723.00h13.80v4.00h-13.80zM442.02 645.00h13.80v2.00h-13.80zM459.17 624.00h13.80v6.00h-13.80zM476.32 653.00h13.80v3.00h-13.80zM527.75 724.00h13.80v4.00h-13.80zM544.90 670.00h13.80v6.00h-13.80zM613.48 684.00h13.80v4.00h-13.80zM630.63 598.50h13.80v1.50h-13.80zM647.78 674.00h13.80v8.00h-13.80zM682.07 738.00h13.80v14.60h-13.80zM699.21 715.00h13.80v8.00h-13.80zM716.36 633.50h13.80v3.50h-13.80zM733.51 711.00h13.80v7.00h-13.80zM750.65 711.00h13.80v12.00h-13.80zM767.80 645.00h13.80v6.00h-13.80zM784.94 610.00h13.80v4.00h-13.80zM802.09 665.00h13.80v13.00h-13.80zM819.24 665.00h13.80v15.00h-13.80zM836.38 704.30h13.80v15.70h-13.80zM853.53 672.50h13.80v13.80h-13.80zM870.67 672.50h13.80v9.50h-13.80zM887.82 688.00h13.80v12.00h-13.80z" fill="#b28a8e"/>
<path d="M133.40 815.00h13.80v2.00h-13.80zM184.83 836.00h13.80v4.00h-13.80zM253.42 776.00h13.80v6.00h-13.80zM270.56 883.00h13.80v7.60h-13.80zM287.71 780.00h13.80v2.00h-13.80zM304.86 804.00h13.80v4.00h-13.80zM322.00 861.00h13.80v3.00h-13.80zM339.15 820.00h13.80v3.00h-13.80zM356.29 858.00h13.80v4.00h-13.80zM373.44 861.00h13.80v4.00h-13.80zM390.59 903.00h13.80v3.00h-13.80zM442.02 816.00h13.80v4.00h-13.80zM459.17 790.00h13.80v4.00h-13.80zM527.75 753.00h13.80v3.00h-13.80zM682.07 794.00h13.80v12.50h-13.80zM699.21 746.50h13.80v5.50h-13.80zM802.09 725.00h13.80v8.00h-13.80zM819.24 756.00h13.80v8.00h-13.80zM853.53 712.00h13.80v4.60h-13.80z" fill="#6b5aa8"/>
<path d="M133.40 985.00h13.80v3.50h-13.80zM373.44 976.00h13.80v12.50h-13.80zM682.07 980.00h13.80v8.50h-13.80z" fill="#c8c8c8"/>
<path d="M150.54 881.00h13.80v2.50h-13.80zM167.69 747.00h13.80v3.50h-13.80zM201.98 865.00h13.80v3.00h-13.80zM219.13 842.00h13.80v2.50h-13.80zM253.42 773.00h13.80v3.00h-13.80zM270.56 879.00h13.80v4.00h-13.80zM322.00 858.00h13.80v3.00h-13.80zM373.44 858.00h13.80v3.00h-13.80zM476.32 787.00h13.80v5.00h-13.80zM510.61 694.00h13.80v4.00h-13.80zM544.90 710.00h13.80v7.00h-13.80zM562.05 645.00h13.80v10.00h-13.80zM647.78 743.00h13.80v3.50h-13.80zM664.92 735.00h13.80v4.00h-13.80zM682.07 792.00h13.80v2.00h-13.80zM733.51 741.00h13.80v6.00h-13.80zM750.65 746.50h13.80v3.90h-13.80zM802.09 723.00h13.80v2.00h-13.80zM819.24 750.00h13.80v6.00h-13.80zM836.38 751.00h13.80v2.70h-13.80zM853.53 710.00h13.80v2.00h-13.80z" fill="#3fb8c8"/>
<path d="M201.98 585.00h13.80v6.00h-13.80zM304.86 601.00h13.80v7.00h-13.80zM356.29 570.50h13.80v23.50h-13.80zM596.34 665.00h13.80v15.00h-13.80zM733.51 718.00h13.80v11.00h-13.80z" fill="#9b47a0"/>
<path d="M424.88 780.00h13.80v22.00h-13.80z" fill="#8d1518"/>
<path d="M424.88 802.00h13.80v4.00h-13.80z" fill="#f5a020"/>
<path d="M116.25 487.70h13.80v0.93h-13.80zM150.54 483.79h13.80v1.69h-13.80zM150.54 491.74h13.80v1.18h-13.80zM150.54 508.12h13.80v1.12h-13.80zM201.98 490.63h13.80v0.83h-13.80zM201.98 493.10h13.80v1.21h-13.80zM219.13 478.13h13.80v1.21h-13.80zM253.42 481.06h13.80v1.61h-13.80zM407.73 489.22h13.80v1.72h-13.80zM442.02 485.52h13.80v1.05h-13.80zM459.17 488.14h13.80v2.04h-13.80zM476.32 499.29h13.80v1.13h-13.80zM476.32 519.65h13.80v1.92h-13.80zM493.46 479.18h13.80v1.99h-13.80zM544.90 492.89h13.80v0.96h-13.80zM579.19 505.85h13.80v1.15h-13.80zM613.48 491.77h13.80v0.83h-13.80zM613.48 508.39h13.80v1.45h-13.80zM664.92 485.58h13.80v0.96h-13.80zM699.21 492.07h13.80v1.89h-13.80zM699.21 503.09h13.80v0.82h-13.80zM733.51 498.43h13.80v1.11h-13.80zM767.80 479.58h13.80v1.16h-13.80zM870.67 495.97h13.80v1.33h-13.80z" fill="#a8205e"/>
<path d="M116.25 502.20h13.80v1.42h-13.80zM133.40 477.59h13.80v1.13h-13.80zM133.40 491.38h13.80v1.34h-13.80zM167.69 479.06h13.80v1.31h-13.80zM167.69 482.64h13.80v1.23h-13.80zM184.83 489.00h13.80v1.34h-13.80zM184.83 496.64h13.80v0.90h-13.80zM201.98 482.33h13.80v0.81h-13.80zM201.98 488.23h13.80v1.35h-13.80zM201.98 495.88h13.80v0.92h-13.80zM219.13 485.88h13.80v1.17h-13.80zM236.27 483.89h13.80v1.29h-13.80zM236.27 486.82h13.80v1.45h-13.80zM253.42 483.81h13.80v0.98h-13.80zM270.56 485.81h13.80v0.98h-13.80zM270.56 489.15h13.80v0.85h-13.80zM287.71 485.32h13.80v1.31h-13.80zM304.86 478.90h13.80v1.27h-13.80zM322.00 483.62h13.80v1.41h-13.80zM442.02 494.51h13.80v1.04h-13.80zM476.32 507.07h13.80v1.26h-13.80zM476.32 531.04h13.80v1.03h-13.80zM476.32 535.73h13.80v1.45h-13.80zM544.90 497.20h13.80v1.12h-13.80zM579.19 500.45h13.80v1.07h-13.80zM613.48 479.26h13.80v1.20h-13.80zM613.48 513.37h13.80v0.88h-13.80zM630.63 492.77h13.80v1.03h-13.80zM682.07 477.63h13.80v1.23h-13.80zM682.07 481.11h13.80v1.27h-13.80zM682.07 500.26h13.80v1.43h-13.80zM733.51 480.06h13.80v0.98h-13.80zM733.51 490.87h13.80v0.96h-13.80zM750.65 482.08h13.80v1.11h-13.80zM784.94 486.97h13.80v0.88h-13.80zM802.09 486.09h13.80v0.87h-13.80zM819.24 478.56h13.80v1.48h-13.80zM819.24 481.47h13.80v1.28h-13.80zM819.24 494.98h13.80v1.20h-13.80zM819.24 497.13h13.80v1.21h-13.80zM836.38 478.15h13.80v1.29h-13.80zM836.38 484.02h13.80v1.39h-13.80zM836.38 486.10h13.80v1.40h-13.80zM853.53 493.03h13.80v1.04h-13.80zM870.67 497.88h13.80v1.12h-13.80z" fill="#e0237c"/>
<path d="M116.25 505.62h13.80v1.89h-13.80zM133.40 481.80h13.80v2.12h-13.80zM150.54 499.49h13.80v1.77h-13.80zM201.98 486.02h13.80v1.05h-13.80zM442.02 482.02h13.80v1.70h-13.80zM476.32 484.13h13.80v1.90h-13.80zM476.32 493.99h13.80v1.71h-13.80zM476.32 527.67h13.80v2.08h-13.80zM476.32 538.78h13.80v1.22h-13.80zM493.46 481.07h13.80v0.89h-13.80zM527.75 478.05h13.80v1.61h-13.80zM544.90 486.40h13.80v1.82h-13.80zM579.19 489.30h13.80v1.38h-13.80zM579.19 492.04h13.80v1.45h-13.80zM613.48 482.95h13.80v1.91h-13.80zM613.48 501.43h13.80v1.50h-13.80zM613.48 511.50h13.80v1.27h-13.80zM630.63 478.85h13.80v1.34h-13.80zM682.07 487.37h13.80v1.11h-13.80zM699.21 477.76h13.80v1.15h-13.80zM870.67 486.12h13.80v1.22h-13.80zM870.67 489.68h13.80v1.12h-13.80zM887.82 482.29h13.80v2.04h-13.80z" fill="#7e1848"/>
<path d="M116.25 519.42h13.80v1.24h-13.80zM116.25 522.74h13.80v0.95h-13.80zM116.25 527.12h13.80v1.99h-13.80zM116.25 530.19h13.80v2.17h-13.80zM133.40 613.31h13.80v1.83h-13.80zM150.54 598.58h13.80v1.37h-13.80zM150.54 617.80h13.80v0.92h-13.80zM184.83 560.26h13.80v1.75h-13.80zM184.83 565.80h13.80v1.92h-13.80zM201.98 562.07h13.80v1.62h-13.80zM201.98 575.43h13.80v1.14h-13.80zM219.13 574.06h13.80v1.11h-13.80zM219.13 579.57h13.80v1.06h-13.80zM253.42 575.93h13.80v1.76h-13.80zM253.42 585.73h13.80v1.41h-13.80zM253.42 591.82h13.80v1.75h-13.80zM253.42 598.97h13.80v1.21h-13.80zM270.56 605.51h13.80v0.84h-13.80zM270.56 612.94h13.80v1.42h-13.80zM270.56 621.08h13.80v1.69h-13.80zM270.56 654.98h13.80v0.93h-13.80zM287.71 585.46h13.80v1.69h-13.80zM287.71 597.85h13.80v1.98h-13.80zM304.86 586.72h13.80v2.03h-13.80zM304.86 591.42h13.80v1.27h-13.80zM339.15 550.96h13.80v1.84h-13.80zM339.15 567.03h13.80v0.86h-13.80zM356.29 543.59h13.80v1.71h-13.80zM356.29 550.34h13.80v1.55h-13.80zM356.29 555.98h13.80v2.07h-13.80zM356.29 562.64h13.80v0.86h-13.80zM373.44 552.97h13.80v1.03h-13.80zM390.59 536.77h13.80v0.85h-13.80zM390.59 543.13h13.80v0.82h-13.80zM424.88 642.91h13.80v0.99h-13.80zM424.88 648.59h13.80v1.29h-13.80zM424.88 651.49h13.80v1.98h-13.80zM424.88 659.81h13.80v0.95h-13.80zM424.88 670.92h13.80v2.10h-13.80zM424.88 676.37h13.80v2.20h-13.80zM424.88 703.38h13.80v2.02h-13.80zM424.88 709.78h13.80v2.16h-13.80zM424.88 720.27h13.80v0.96h-13.80zM442.02 616.00h13.80v2.18h-13.80zM442.02 618.81h13.80v1.65h-13.80zM442.02 631.81h13.80v1.18h-13.80zM459.17 580.29h13.80v1.29h-13.80zM459.17 592.91h13.80v1.85h-13.80zM459.17 603.10h13.80v0.85h-13.80zM459.17 612.80h13.80v1.16h-13.80zM476.32 620.76h13.80v1.00h-13.80zM476.32 635.36h13.80v1.65h-13.80zM493.46 654.76h13.80v1.09h-13.80zM493.46 698.15h13.80v1.93h-13.80zM493.46 704.66h13.80v1.75h-13.80zM510.61 619.89h13.80v2.15h-13.80zM510.61 626.26h13.80v1.21h-13.80zM527.75 647.21h13.80v1.16h-13.80zM527.75 651.59h13.80v1.75h-13.80zM527.75 658.01h13.80v2.05h-13.80zM527.75 660.69h13.80v1.02h-13.80zM527.75 663.91h13.80v1.55h-13.80zM527.75 666.32h13.80v1.05h-13.80zM527.75 674.71h13.80v1.19h-13.80zM527.75 710.38h13.80v1.78h-13.80zM544.90 664.04h13.80v1.95h-13.80zM562.05 610.21h13.80v1.47h-13.80zM562.05 624.18h13.80v1.82h-13.80zM579.19 640.71h13.80v1.90h-13.80zM579.19 650.00h13.80v2.16h-13.80zM596.34 609.61h13.80v1.38h-13.80zM596.34 629.48h13.80v0.95h-13.80zM596.34 640.12h13.80v1.26h-13.80zM613.48 629.64h13.80v1.54h-13.80zM613.48 650.55h13.80v1.50h-13.80zM613.48 657.19h13.80v1.30h-13.80zM613.48 660.10h13.80v2.20h-13.80zM613.48 665.85h13.80v1.01h-13.80zM630.63 586.22h13.80v2.06h-13.80zM647.78 615.85h13.80v1.07h-13.80zM664.92 589.87h13.80v1.07h-13.80zM664.92 612.10h13.80v1.51h-13.80zM682.07 659.99h13.80v2.18h-13.80zM682.07 661.97h13.80v2.16h-13.80zM682.07 669.88h13.80v1.94h-13.80zM682.07 676.93h13.80v2.04h-13.80zM682.07 709.10h13.80v0.95h-13.80zM682.07 718.03h13.80v0.90h-13.80zM682.07 725.48h13.80v1.89h-13.80zM699.21 702.55h13.80v1.15h-13.80zM716.36 577.51h13.80v2.16h-13.80zM716.36 612.06h13.80v2.10h-13.80zM733.51 639.77h13.80v1.62h-13.80zM733.51 696.40h13.80v1.52h-13.80zM733.51 700.71h13.80v1.52h-13.80zM750.65 667.35h13.80v0.94h-13.80zM750.65 685.20h13.80v1.87h-13.80zM750.65 709.66h13.80v1.21h-13.80zM767.80 588.80h13.80v1.05h-13.80zM767.80 615.05h13.80v1.49h-13.80zM767.80 617.27h13.80v1.48h-13.80zM784.94 582.70h13.80v1.05h-13.80zM802.09 612.20h13.80v1.60h-13.80zM802.09 623.82h13.80v1.45h-13.80zM802.09 640.64h13.80v1.09h-13.80zM819.24 617.00h13.80v1.72h-13.80zM819.24 642.36h13.80v1.65h-13.80zM819.24 644.60h13.80v1.80h-13.80zM836.38 623.93h13.80v1.89h-13.80zM836.38 654.32h13.80v2.19h-13.80zM836.38 675.52h13.80v1.41h-13.80zM836.38 683.67h13.80v1.65h-13.80zM853.53 642.80h13.80v0.84h-13.80zM853.53 645.36h13.80v0.83h-13.80zM870.67 606.89h13.80v0.88h-13.80zM870.67 640.69h13.80v1.19h-13.80zM870.67 652.22h13.80v1.56h-13.80zM887.82 616.22h13.80v2.07h-13.80zM887.82 623.62h13.80v0.93h-13.80zM887.82 626.98h13.80v1.66h-13.80zM887.82 662.26h13.80v1.84h-13.80z" fill="#3444aa"/>
<path d="M116.25 534.09h13.80v0.91h-13.80zM133.40 576.10h13.80v1.35h-13.80zM133.40 584.03h13.80v1.25h-13.80zM133.40 600.10h13.80v1.25h-13.80zM133.40 603.08h13.80v1.92h-13.80zM133.40 607.49h13.80v1.82h-13.80zM133.40 621.36h13.80v1.11h-13.80zM150.54 585.56h13.80v1.00h-13.80zM150.54 596.62h13.80v1.33h-13.80zM150.54 604.70h13.80v1.37h-13.80zM167.69 572.50h13.80v0.82h-13.80zM167.69 579.75h13.80v1.45h-13.80zM167.69 586.86h13.80v1.83h-13.80zM167.69 589.20h13.80v0.90h-13.80zM167.69 591.76h13.80v0.99h-13.80zM167.69 602.80h13.80v0.89h-13.80zM167.69 608.22h13.80v1.65h-13.80zM201.98 565.69h13.80v1.10h-13.80zM219.13 576.86h13.80v1.24h-13.80zM219.13 584.21h13.80v1.33h-13.80zM219.13 586.13h13.80v1.48h-13.80zM236.27 576.11h13.80v1.16h-13.80zM236.27 580.20h13.80v1.52h-13.80zM236.27 613.06h13.80v1.61h-13.80zM236.27 621.59h13.80v1.14h-13.80zM253.42 573.37h13.80v1.90h-13.80zM253.42 595.77h13.80v1.35h-13.80zM270.56 608.18h13.80v1.66h-13.80zM270.56 646.91h13.80v1.29h-13.80zM287.71 579.70h13.80v0.90h-13.80zM287.71 582.98h13.80v2.17h-13.80zM287.71 589.48h13.80v1.74h-13.80zM287.71 591.57h13.80v1.78h-13.80zM287.71 599.76h13.80v1.16h-13.80zM304.86 568.23h13.80v1.99h-13.80zM322.00 551.29h13.80v1.07h-13.80zM339.15 574.73h13.80v1.83h-13.80zM356.29 534.91h13.80v1.74h-13.80zM356.29 537.27h13.80v1.07h-13.80zM356.29 545.53h13.80v2.08h-13.80zM356.29 560.27h13.80v1.37h-13.80zM373.44 538.77h13.80v0.90h-13.80zM373.44 554.87h13.80v0.87h-13.80zM390.59 550.13h13.80v1.82h-13.80zM424.88 666.27h13.80v1.24h-13.80zM424.88 686.45h13.80v1.59h-13.80zM442.02 604.40h13.80v1.19h-13.80zM442.02 609.01h13.80v1.49h-13.80zM459.17 622.99h13.80v0.92h-13.80zM476.32 617.22h13.80v1.90h-13.80zM476.32 631.21h13.80v1.28h-13.80zM476.32 638.77h13.80v1.37h-13.80zM493.46 639.48h13.80v1.23h-13.80zM493.46 656.97h13.80v0.93h-13.80zM493.46 663.40h13.80v1.17h-13.80zM493.46 717.22h13.80v0.98h-13.80zM510.61 617.01h13.80v2.15h-13.80zM510.61 670.10h13.80v2.00h-13.80zM527.75 684.46h13.80v1.13h-13.80zM527.75 688.74h13.80v0.83h-13.80zM527.75 692.81h13.80v1.39h-13.80zM527.75 718.92h13.80v2.03h-13.80zM544.90 629.96h13.80v0.85h-13.80zM544.90 634.10h13.80v1.15h-13.80zM544.90 640.92h13.80v1.66h-13.80zM544.90 652.59h13.80v2.10h-13.80zM562.05 579.75h13.80v1.06h-13.80zM562.05 585.89h13.80v2.07h-13.80zM562.05 591.35h13.80v1.44h-13.80zM562.05 597.30h13.80v1.26h-13.80zM562.05 600.43h13.80v1.95h-13.80zM596.34 612.38h13.80v1.60h-13.80zM596.34 617.47h13.80v1.19h-13.80zM596.34 632.29h13.80v1.17h-13.80zM596.34 646.48h13.80v2.01h-13.80zM613.48 636.23h13.80v1.16h-13.80zM613.48 642.83h13.80v0.85h-13.80zM613.48 662.65h13.80v1.08h-13.80zM630.63 580.05h13.80v1.27h-13.80zM647.78 629.82h13.80v0.80h-13.80zM647.78 645.54h13.80v0.93h-13.80zM647.78 648.76h13.80v1.50h-13.80zM647.78 651.89h13.80v1.30h-13.80zM647.78 655.34h13.80v2.07h-13.80zM664.92 587.76h13.80v1.99h-13.80zM664.92 593.85h13.80v1.47h-13.80zM664.92 600.03h13.80v1.75h-13.80zM664.92 615.18h13.80v1.27h-13.80zM664.92 618.59h13.80v2.02h-13.80zM664.92 626.39h13.80v0.88h-13.80zM682.07 673.44h13.80v1.36h-13.80zM682.07 679.15h13.80v1.99h-13.80zM682.07 690.70h13.80v0.83h-13.80zM682.07 728.37h13.80v1.15h-13.80zM682.07 732.72h13.80v1.28h-13.80zM699.21 655.96h13.80v1.15h-13.80zM699.21 676.01h13.80v1.39h-13.80zM699.21 698.44h13.80v1.36h-13.80zM716.36 586.71h13.80v1.44h-13.80zM716.36 594.63h13.80v1.80h-13.80zM716.36 603.10h13.80v1.22h-13.80zM716.36 627.13h13.80v1.65h-13.80zM733.51 636.99h13.80v1.76h-13.80zM733.51 643.62h13.80v1.49h-13.80zM733.51 646.44h13.80v1.03h-13.80zM733.51 661.12h13.80v2.03h-13.80zM733.51 672.41h13.80v1.50h-13.80zM733.51 704.91h13.80v2.16h-13.80zM750.65 631.07h13.80v1.76h-13.80zM750.65 652.57h13.80v1.84h-13.80zM750.65 657.63h13.80v1.10h-13.80zM750.65 699.34h13.80v1.18h-13.80zM750.65 702.43h13.80v1.91h-13.80zM750.65 706.33h13.80v2.20h-13.80zM767.80 592.43h13.80v1.75h-13.80zM767.80 639.15h13.80v1.06h-13.80zM784.94 571.99h13.80v1.20h-13.80zM802.09 602.62h13.80v1.57h-13.80zM802.09 606.25h13.80v0.84h-13.80zM802.09 608.56h13.80v2.01h-13.80zM802.09 634.08h13.80v0.82h-13.80zM802.09 649.29h13.80v1.94h-13.80zM802.09 657.80h13.80v1.71h-13.80zM819.24 614.95h13.80v1.85h-13.80zM819.24 620.42h13.80v2.06h-13.80zM819.24 650.41h13.80v1.09h-13.80zM836.38 628.08h13.80v1.25h-13.80zM836.38 631.63h13.80v1.10h-13.80zM836.38 634.37h13.80v1.75h-13.80zM836.38 677.66h13.80v0.84h-13.80zM836.38 688.12h13.80v1.26h-13.80zM853.53 612.70h13.80v1.36h-13.80zM853.53 622.16h13.80v1.99h-13.80zM853.53 656.08h13.80v1.90h-13.80zM853.53 665.92h13.80v2.06h-13.80zM870.67 624.39h13.80v1.22h-13.80zM870.67 645.54h13.80v1.37h-13.80zM870.67 648.74h13.80v1.56h-13.80zM887.82 641.14h13.80v1.33h-13.80z" fill="#3e4eb8"/>
<path d="M116.25 535.24h13.80v1.14h-13.80zM116.25 584.33h13.80v1.48h-13.80zM116.25 595.15h13.80v1.81h-13.80zM116.25 609.78h13.80v2.16h-13.80zM116.25 617.65h13.80v1.62h-13.80zM116.25 711.40h13.80v1.91h-13.80zM133.40 653.77h13.80v1.31h-13.80zM133.40 744.73h13.80v1.51h-13.80zM133.40 798.84h13.80v0.93h-13.80zM150.54 646.09h13.80v1.18h-13.80zM150.54 653.44h13.80v1.10h-13.80zM150.54 700.43h13.80v1.72h-13.80zM184.83 722.29h13.80v1.29h-13.80zM184.83 735.82h13.80v1.26h-13.80zM184.83 801.93h13.80v2.04h-13.80zM201.98 592.48h13.80v1.25h-13.80zM201.98 612.07h13.80v1.74h-13.80zM201.98 664.87h13.80v2.08h-13.80zM201.98 712.03h13.80v1.87h-13.80zM201.98 801.39h13.80v1.12h-13.80zM219.13 776.57h13.80v1.41h-13.80zM219.13 786.95h13.80v1.57h-13.80zM236.27 768.48h13.80v1.84h-13.80zM236.27 776.00h13.80v1.98h-13.80zM253.42 678.94h13.80v1.76h-13.80zM253.42 716.62h13.80v1.16h-13.80zM270.56 698.87h13.80v1.50h-13.80zM270.56 808.09h13.80v1.77h-13.80zM270.56 831.92h13.80v2.08h-13.80zM287.71 704.02h13.80v1.65h-13.80zM304.86 658.51h13.80v0.94h-13.80zM304.86 750.39h13.80v1.60h-13.80zM304.86 761.24h13.80v0.83h-13.80zM304.86 784.43h13.80v1.57h-13.80zM322.00 620.71h13.80v1.14h-13.80zM322.00 785.03h13.80v2.12h-13.80zM322.00 803.14h13.80v1.13h-13.80zM339.15 640.97h13.80v1.31h-13.80zM339.15 644.85h13.80v1.36h-13.80zM339.15 791.99h13.80v1.86h-13.80zM339.15 803.04h13.80v0.96h-13.80zM356.29 611.54h13.80v0.92h-13.80zM356.29 701.75h13.80v1.80h-13.80zM356.29 761.56h13.80v1.75h-13.80zM356.29 803.06h13.80v0.98h-13.80zM356.29 811.85h13.80v1.50h-13.80zM356.29 822.72h13.80v1.48h-13.80zM373.44 705.20h13.80v1.40h-13.80zM373.44 743.15h13.80v1.19h-13.80zM373.44 751.59h13.80v2.09h-13.80zM390.59 664.49h13.80v1.94h-13.80zM390.59 756.21h13.80v1.40h-13.80zM407.73 579.61h13.80v1.21h-13.80zM407.73 585.26h13.80v1.49h-13.80zM407.73 597.55h13.80v1.66h-13.80zM407.73 618.19h13.80v1.67h-13.80zM407.73 689.04h13.80v2.07h-13.80zM407.73 710.26h13.80v1.56h-13.80zM407.73 738.56h13.80v1.65h-13.80zM407.73 760.08h13.80v1.91h-13.80zM424.88 739.74h13.80v1.50h-13.80zM442.02 693.88h13.80v1.10h-13.80zM459.17 721.12h13.80v2.01h-13.80zM476.32 673.19h13.80v1.73h-13.80zM510.61 683.99h13.80v1.38h-13.80zM579.19 657.41h13.80v2.04h-13.80zM596.34 684.95h13.80v1.04h-13.80zM630.63 668.57h13.80v2.15h-13.80zM664.92 676.96h13.80v1.45h-13.80zM664.92 700.21h13.80v2.10h-13.80zM682.07 768.10h13.80v2.03h-13.80zM733.51 730.51h13.80v1.47h-13.80zM784.94 625.37h13.80v1.46h-13.80zM819.24 707.14h13.80v1.45h-13.80zM887.82 737.26h13.80v2.15h-13.80z" fill="#196634"/>
<path d="M116.25 547.34h13.80v2.19h-13.80zM116.25 560.00h13.80v0.90h-13.80zM116.25 641.95h13.80v1.50h-13.80zM116.25 706.86h13.80v0.90h-13.80zM116.25 721.27h13.80v0.96h-13.80zM116.25 744.63h13.80v2.07h-13.80zM116.25 783.94h13.80v1.06h-13.80zM133.40 633.02h13.80v1.71h-13.80zM133.40 647.12h13.80v1.67h-13.80zM133.40 656.71h13.80v1.39h-13.80zM150.54 782.53h13.80v1.13h-13.80zM150.54 791.07h13.80v1.87h-13.80zM150.54 797.77h13.80v0.95h-13.80zM150.54 827.43h13.80v1.75h-13.80zM167.69 651.38h13.80v1.91h-13.80zM167.69 693.35h13.80v1.51h-13.80zM167.69 727.49h13.80v1.58h-13.80zM184.83 633.65h13.80v1.47h-13.80zM201.98 697.90h13.80v2.09h-13.80zM201.98 731.03h13.80v1.89h-13.80zM201.98 799.53h13.80v2.12h-13.80zM219.13 643.22h13.80v0.84h-13.80zM219.13 646.44h13.80v0.83h-13.80zM219.13 766.43h13.80v0.86h-13.80zM253.42 637.27h13.80v1.01h-13.80zM253.42 676.91h13.80v1.23h-13.80zM270.56 722.62h13.80v1.02h-13.80zM270.56 793.82h13.80v2.16h-13.80zM270.56 825.46h13.80v1.83h-13.80zM270.56 839.96h13.80v2.19h-13.80zM287.71 743.09h13.80v1.31h-13.80zM304.86 634.26h13.80v1.86h-13.80zM304.86 710.58h13.80v1.19h-13.80zM304.86 726.56h13.80v1.18h-13.80zM322.00 616.99h13.80v1.73h-13.80zM322.00 680.74h13.80v1.27h-13.80zM322.00 697.75h13.80v1.34h-13.80zM322.00 752.15h13.80v1.13h-13.80zM322.00 824.25h13.80v1.70h-13.80zM339.15 684.66h13.80v1.29h-13.80zM339.15 702.98h13.80v0.81h-13.80zM339.15 751.52h13.80v1.77h-13.80zM356.29 755.57h13.80v1.65h-13.80zM373.44 590.63h13.80v1.01h-13.80zM373.44 686.02h13.80v1.10h-13.80zM373.44 702.35h13.80v1.09h-13.80zM373.44 718.96h13.80v1.30h-13.80zM373.44 773.01h13.80v1.55h-13.80zM390.59 648.52h13.80v1.71h-13.80zM390.59 693.31h13.80v1.61h-13.80zM390.59 784.12h13.80v1.39h-13.80zM390.59 840.50h13.80v0.91h-13.80zM407.73 722.87h13.80v1.69h-13.80zM407.73 734.95h13.80v1.30h-13.80zM442.02 674.99h13.80v1.85h-13.80zM442.02 678.09h13.80v1.19h-13.80zM442.02 723.11h13.80v1.14h-13.80zM442.02 755.99h13.80v1.74h-13.80zM459.17 709.93h13.80v0.97h-13.80zM459.17 730.39h13.80v2.17h-13.80zM476.32 668.91h13.80v1.73h-13.80zM476.32 711.46h13.80v1.50h-13.80zM476.32 731.03h13.80v1.78h-13.80zM562.05 641.69h13.80v1.59h-13.80zM579.19 669.99h13.80v1.00h-13.80zM579.19 678.97h13.80v0.96h-13.80zM596.34 687.82h13.80v1.82h-13.80zM630.63 600.84h13.80v0.99h-13.80zM630.63 617.32h13.80v1.96h-13.80zM647.78 740.42h13.80v1.06h-13.80zM664.92 636.18h13.80v1.37h-13.80zM750.65 741.81h13.80v1.18h-13.80zM802.09 694.37h13.80v2.02h-13.80zM802.09 708.96h13.80v1.63h-13.80zM819.24 681.97h13.80v0.97h-13.80zM836.38 741.38h13.80v2.07h-13.80zM853.53 700.69h13.80v1.90h-13.80zM870.67 682.77h13.80v0.90h-13.80zM870.67 725.41h13.80v1.99h-13.80zM887.82 718.17h13.80v1.92h-13.80z" fill="#1a6a36"/>
<path d="M116.25 786.58h13.80v1.00h-13.80zM116.25 828.70h13.80v2.09h-13.80zM116.25 877.41h13.80v1.91h-13.80zM150.54 854.13h13.80v1.18h-13.80zM150.54 870.47h13.80v1.04h-13.80zM150.54 874.43h13.80v1.97h-13.80zM150.54 878.18h13.80v1.37h-13.80zM184.83 809.45h13.80v1.94h-13.80zM184.83 814.72h13.80v1.36h-13.80zM201.98 843.55h13.80v2.20h-13.80zM201.98 862.44h13.80v1.75h-13.80zM219.13 837.64h13.80v2.08h-13.80zM236.27 795.66h13.80v1.14h-13.80zM253.42 762.89h13.80v2.14h-13.80zM253.42 766.91h13.80v1.09h-13.80zM322.00 837.96h13.80v1.92h-13.80zM356.29 852.11h13.80v1.62h-13.80zM373.44 810.37h13.80v1.21h-13.80zM373.44 816.91h13.80v1.88h-13.80zM407.73 861.19h13.80v1.18h-13.80zM407.73 878.12h13.80v1.69h-13.80z" fill="#2a7a40"/>
<path d="M116.25 838.25h13.80v1.39h-13.80zM116.25 842.62h13.80v0.82h-13.80zM116.25 880.90h13.80v1.92h-13.80zM116.25 885.16h13.80v2.16h-13.80zM150.54 849.18h13.80v1.03h-13.80zM150.54 860.70h13.80v0.97h-13.80zM167.69 746.15h13.80v0.85h-13.80zM184.83 825.24h13.80v2.18h-13.80zM184.83 832.78h13.80v0.85h-13.80zM201.98 825.52h13.80v2.07h-13.80zM201.98 853.65h13.80v1.42h-13.80zM219.13 820.93h13.80v1.64h-13.80zM270.56 869.63h13.80v1.99h-13.80zM339.15 818.65h13.80v1.17h-13.80zM407.73 846.58h13.80v1.65h-13.80zM407.73 870.39h13.80v1.46h-13.80zM407.73 874.29h13.80v1.10h-13.80zM407.73 892.37h13.80v1.61h-13.80zM442.02 807.33h13.80v1.81h-13.80zM476.32 759.91h13.80v1.20h-13.80zM527.75 749.24h13.80v1.99h-13.80z" fill="#5ab466"/>
<path d="M116.25 840.40h13.80v1.89h-13.80zM116.25 860.75h13.80v1.11h-13.80zM116.25 867.42h13.80v1.24h-13.80zM116.25 897.19h13.80v0.96h-13.80zM133.40 806.32h13.80v1.63h-13.80zM150.54 851.61h13.80v1.06h-13.80zM150.54 856.98h13.80v1.75h-13.80zM167.69 742.53h13.80v1.34h-13.80zM184.83 818.49h13.80v1.67h-13.80zM201.98 849.79h13.80v1.60h-13.80zM201.98 858.30h13.80v1.04h-13.80zM236.27 784.48h13.80v0.95h-13.80zM236.27 790.48h13.80v1.40h-13.80zM322.00 830.65h13.80v1.63h-13.80zM322.00 842.15h13.80v1.80h-13.80zM322.00 851.72h13.80v2.13h-13.80zM356.29 842.95h13.80v1.34h-13.80zM356.29 849.91h13.80v2.13h-13.80zM373.44 800.10h13.80v1.32h-13.80zM373.44 821.37h13.80v2.03h-13.80zM373.44 831.06h13.80v0.91h-13.80zM390.59 873.25h13.80v2.08h-13.80zM390.59 885.69h13.80v1.15h-13.80zM390.59 899.84h13.80v1.20h-13.80zM407.73 849.97h13.80v1.71h-13.80zM407.73 852.11h13.80v1.17h-13.80zM407.73 854.74h13.80v1.43h-13.80zM407.73 882.17h13.80v1.45h-13.80zM459.17 788.31h13.80v1.56h-13.80z" fill="#45a058"/>
<path d="M116.25 888.32h13.80v1.76h-13.80zM116.25 901.67h13.80v2.10h-13.80zM116.25 903.83h13.80v1.75h-13.80zM116.25 909.47h13.80v1.64h-13.80zM133.40 802.26h13.80v1.05h-13.80zM167.69 740.28h13.80v0.96h-13.80zM184.83 811.38h13.80v1.79h-13.80zM219.13 834.35h13.80v2.06h-13.80zM236.27 793.61h13.80v1.93h-13.80zM253.42 759.34h13.80v2.10h-13.80zM270.56 875.29h13.80v2.00h-13.80zM287.71 763.71h13.80v1.11h-13.80zM304.86 793.17h13.80v1.42h-13.80zM304.86 797.63h13.80v0.89h-13.80zM339.15 805.98h13.80v1.07h-13.80zM356.29 855.39h13.80v1.50h-13.80zM373.44 853.22h13.80v1.17h-13.80zM390.59 858.17h13.80v1.93h-13.80zM390.59 863.21h13.80v1.56h-13.80zM390.59 897.88h13.80v1.25h-13.80zM407.73 835.02h13.80v1.14h-13.80zM442.02 809.79h13.80v2.03h-13.80zM476.32 754.15h13.80v1.25h-13.80zM630.63 686.87h13.80v1.22h-13.80z" fill="#2f8446"/>
<path d="M116.25 916.26h13.80v1.07h-13.80zM407.73 896.84h13.80v1.58h-13.80zM476.32 776.27h13.80v1.59h-13.80zM476.32 785.30h13.80v1.19h-13.80zM682.07 776.77h13.80v1.79h-13.80zM733.51 739.48h13.80v1.52h-13.80z" fill="#90d090"/>
<path d="M116.25 930.24h13.80v1.19h-13.80zM116.25 952.57h13.80v1.67h-13.80zM133.40 817.28h13.80v1.09h-13.80zM133.40 865.95h13.80v1.82h-13.80zM150.54 909.29h13.80v1.35h-13.80zM150.54 925.98h13.80v1.18h-13.80zM167.69 785.33h13.80v1.69h-13.80zM167.69 789.16h13.80v1.61h-13.80zM167.69 827.02h13.80v2.10h-13.80zM167.69 834.17h13.80v1.89h-13.80zM184.83 881.73h13.80v2.08h-13.80zM201.98 895.17h13.80v1.20h-13.80zM219.13 869.54h13.80v0.88h-13.80zM236.27 815.13h13.80v0.85h-13.80zM253.42 798.31h13.80v1.05h-13.80zM253.42 824.99h13.80v1.45h-13.80zM287.71 803.01h13.80v1.35h-13.80zM287.71 807.21h13.80v1.81h-13.80zM287.71 813.03h13.80v0.96h-13.80zM322.00 880.23h13.80v1.19h-13.80zM356.29 889.66h13.80v2.06h-13.80zM373.44 879.07h13.80v0.94h-13.80zM373.44 914.69h13.80v1.50h-13.80zM390.59 920.28h13.80v1.57h-13.80zM407.73 906.70h13.80v1.15h-13.80zM407.73 912.82h13.80v1.35h-13.80zM424.88 751.89h13.80v0.91h-13.80zM442.02 853.36h13.80v1.51h-13.80zM459.17 804.75h13.80v1.74h-13.80zM459.17 822.68h13.80v1.44h-13.80zM459.17 829.61h13.80v2.07h-13.80zM459.17 835.72h13.80v2.14h-13.80zM459.17 840.85h13.80v1.29h-13.80zM459.17 858.98h13.80v1.12h-13.80zM476.32 799.53h13.80v1.29h-13.80zM476.32 832.88h13.80v1.24h-13.80zM493.46 738.13h13.80v1.82h-13.80zM493.46 762.59h13.80v1.28h-13.80zM510.61 718.12h13.80v1.01h-13.80zM510.61 728.06h13.80v1.64h-13.80zM510.61 743.93h13.80v1.46h-13.80zM527.75 760.86h13.80v1.23h-13.80zM544.90 751.75h13.80v0.90h-13.80zM562.05 658.28h13.80v1.07h-13.80zM562.05 673.33h13.80v2.03h-13.80zM579.19 711.69h13.80v1.00h-13.80zM579.19 725.23h13.80v2.01h-13.80zM579.19 769.07h13.80v1.96h-13.80zM596.34 746.98h13.80v1.00h-13.80zM596.34 762.33h13.80v1.35h-13.80zM596.34 769.80h13.80v1.55h-13.80zM596.34 785.31h13.80v0.94h-13.80zM596.34 789.19h13.80v2.14h-13.80zM613.48 715.88h13.80v1.96h-13.80zM613.48 765.38h13.80v1.77h-13.80zM613.48 772.53h13.80v2.14h-13.80zM630.63 751.92h13.80v1.25h-13.80zM647.78 761.05h13.80v1.75h-13.80zM647.78 781.21h13.80v1.83h-13.80zM647.78 796.37h13.80v0.91h-13.80zM664.92 771.92h13.80v1.57h-13.80zM682.07 815.60h13.80v0.96h-13.80zM682.07 827.04h13.80v0.83h-13.80zM699.21 776.10h13.80v1.44h-13.80zM699.21 802.66h13.80v0.93h-13.80zM716.36 656.26h13.80v1.77h-13.80zM716.36 700.58h13.80v0.98h-13.80zM716.36 712.79h13.80v0.98h-13.80zM733.51 760.52h13.80v1.98h-13.80zM733.51 763.25h13.80v1.48h-13.80zM733.51 771.92h13.80v1.43h-13.80zM733.51 822.60h13.80v2.20h-13.80zM750.65 781.05h13.80v1.82h-13.80zM750.65 817.08h13.80v1.99h-13.80zM767.80 706.41h13.80v1.28h-13.80zM784.94 688.31h13.80v1.34h-13.80zM802.09 745.88h13.80v0.90h-13.80zM802.09 758.90h13.80v1.54h-13.80zM802.09 793.05h13.80v1.39h-13.80zM819.24 768.01h13.80v1.29h-13.80zM819.24 781.17h13.80v1.14h-13.80zM819.24 788.91h13.80v1.53h-13.80zM819.24 791.73h13.80v0.96h-13.80zM836.38 765.89h13.80v1.33h-13.80zM853.53 739.42h13.80v2.09h-13.80zM870.67 754.19h13.80v0.85h-13.80zM870.67 767.39h13.80v1.47h-13.80zM870.67 801.46h13.80v1.96h-13.80zM870.67 810.03h13.80v2.15h-13.80zM887.82 779.01h13.80v1.42h-13.80z" fill="#c81a20"/>
<path d="M116.25 957.47h13.80v1.18h-13.80zM133.40 888.43h13.80v2.86h-13.80zM167.69 862.39h13.80v2.16h-13.80zM167.69 875.27h13.80v1.93h-13.80zM184.83 900.54h13.80v2.07h-13.80zM201.98 907.48h13.80v1.21h-13.80zM219.13 907.60h13.80v2.54h-13.80zM253.42 850.82h13.80v2.75h-13.80zM253.42 856.79h13.80v2.11h-13.80zM253.42 873.79h13.80v2.70h-13.80zM270.56 923.54h13.80v1.08h-13.80zM304.86 858.53h13.80v1.77h-13.80zM304.86 878.43h13.80v2.80h-13.80zM304.86 882.67h13.80v2.37h-13.80zM322.00 916.14h13.80v2.39h-13.80zM339.15 895.05h13.80v1.89h-13.80zM373.44 949.20h13.80v1.46h-13.80zM373.44 954.86h13.80v2.31h-13.80zM407.73 948.67h13.80v2.55h-13.80zM424.88 777.84h13.80v2.14h-13.80zM459.17 868.53h13.80v2.38h-13.80zM459.17 876.39h13.80v2.71h-13.80zM459.17 903.73h13.80v2.64h-13.80zM476.32 882.46h13.80v2.79h-13.80zM476.32 892.93h13.80v1.16h-13.80zM510.61 759.03h13.80v1.16h-13.80zM510.61 766.86h13.80v1.15h-13.80zM544.90 788.57h13.80v2.29h-13.80zM544.90 797.11h13.80v1.76h-13.80zM562.05 772.55h13.80v2.28h-13.80zM562.05 832.55h13.80v1.35h-13.80zM579.19 798.83h13.80v1.31h-13.80zM579.19 818.10h13.80v1.25h-13.80zM579.19 833.86h13.80v1.44h-13.80zM613.48 802.22h13.80v2.16h-13.80zM613.48 818.25h13.80v1.92h-13.80zM613.48 833.32h13.80v1.58h-13.80zM630.63 764.15h13.80v2.04h-13.80zM630.63 795.60h13.80v2.41h-13.80zM647.78 816.74h13.80v1.55h-13.80zM647.78 830.88h13.80v1.93h-13.80zM647.78 847.21h13.80v2.39h-13.80zM664.92 800.58h13.80v2.57h-13.80zM664.92 806.53h13.80v1.44h-13.80zM664.92 821.45h13.80v1.04h-13.80zM699.21 845.48h13.80v2.03h-13.80zM716.36 778.50h13.80v2.39h-13.80zM716.36 795.46h13.80v2.86h-13.80zM716.36 806.08h13.80v2.74h-13.80zM716.36 833.65h13.80v1.80h-13.80zM733.51 853.46h13.80v2.16h-13.80zM750.65 856.99h13.80v2.47h-13.80zM750.65 891.32h13.80v1.20h-13.80zM767.80 712.28h13.80v2.75h-13.80zM767.80 714.15h13.80v1.48h-13.80zM767.80 728.40h13.80v1.43h-13.80zM767.80 730.81h13.80v1.31h-13.80zM784.94 701.06h13.80v1.56h-13.80zM784.94 704.69h13.80v1.85h-13.80zM784.94 719.67h13.80v1.25h-13.80zM802.09 803.11h13.80v2.16h-13.80zM802.09 813.39h13.80v1.44h-13.80zM802.09 822.14h13.80v1.17h-13.80zM819.24 820.73h13.80v2.12h-13.80zM819.24 833.37h13.80v1.62h-13.80zM819.24 840.35h13.80v1.91h-13.80zM836.38 805.41h13.80v2.67h-13.80zM836.38 820.03h13.80v1.48h-13.80zM853.53 770.95h13.80v1.84h-13.80zM853.53 790.47h13.80v2.38h-13.80zM853.53 792.56h13.80v2.74h-13.80zM870.67 833.14h13.80v1.07h-13.80zM870.67 844.18h13.80v2.69h-13.80zM887.82 839.20h13.80v1.99h-13.80zM887.82 841.87h13.80v2.54h-13.80z" fill="#c41820"/>
<path d="M116.25 965.45h13.80v1.08h-13.80zM116.25 967.95h13.80v1.77h-13.80zM167.69 859.43h13.80v1.50h-13.80zM167.69 866.65h13.80v1.87h-13.80zM167.69 881.70h13.80v2.47h-13.80zM167.69 885.83h13.80v2.38h-13.80zM184.83 890.85h13.80v2.28h-13.80zM201.98 912.63h13.80v1.45h-13.80zM236.27 829.34h13.80v2.46h-13.80zM253.42 847.51h13.80v1.43h-13.80zM270.56 921.68h13.80v1.34h-13.80zM287.71 831.89h13.80v2.15h-13.80zM287.71 836.34h13.80v2.28h-13.80zM287.71 839.40h13.80v1.90h-13.80zM304.86 862.27h13.80v1.75h-13.80zM304.86 864.28h13.80v1.37h-13.80zM304.86 876.27h13.80v2.13h-13.80zM322.00 902.26h13.80v2.02h-13.80zM322.00 918.78h13.80v2.70h-13.80zM356.29 906.91h13.80v1.74h-13.80zM356.29 917.09h13.80v1.55h-13.80zM373.44 945.58h13.80v1.13h-13.80zM373.44 959.27h13.80v1.66h-13.80zM390.59 939.27h13.80v1.92h-13.80zM390.59 944.54h13.80v2.58h-13.80zM442.02 883.39h13.80v2.03h-13.80zM442.02 899.37h13.80v1.60h-13.80zM476.32 871.31h13.80v2.28h-13.80zM476.32 875.50h13.80v2.07h-13.80zM476.32 888.88h13.80v1.78h-13.80zM476.32 901.99h13.80v2.50h-13.80zM493.46 826.01h13.80v2.15h-13.80zM493.46 829.60h13.80v1.18h-13.80zM493.46 855.87h13.80v1.51h-13.80zM510.61 775.36h13.80v2.45h-13.80zM527.75 806.15h13.80v1.61h-13.80zM527.75 807.96h13.80v2.17h-13.80zM562.05 792.39h13.80v1.39h-13.80zM562.05 801.67h13.80v1.88h-13.80zM562.05 819.56h13.80v2.04h-13.80zM596.34 812.57h13.80v1.48h-13.80zM596.34 834.69h13.80v2.31h-13.80zM596.34 845.07h13.80v1.13h-13.80zM596.34 846.96h13.80v2.03h-13.80zM613.48 798.60h13.80v1.93h-13.80zM613.48 814.25h13.80v1.86h-13.80zM613.48 826.56h13.80v1.46h-13.80zM630.63 801.88h13.80v1.88h-13.80zM682.07 866.40h13.80v2.12h-13.80zM682.07 872.81h13.80v2.71h-13.80zM682.07 881.79h13.80v1.38h-13.80zM682.07 886.19h13.80v0.81h-13.80zM699.21 841.42h13.80v2.40h-13.80zM699.21 855.70h13.80v2.62h-13.80zM716.36 766.60h13.80v1.06h-13.80zM716.36 770.87h13.80v1.56h-13.80zM716.36 801.70h13.80v1.18h-13.80zM716.36 815.99h13.80v1.26h-13.80zM716.36 825.05h13.80v1.62h-13.80zM716.36 826.90h13.80v2.05h-13.80zM716.36 837.63h13.80v1.05h-13.80zM733.51 851.30h13.80v2.79h-13.80zM750.65 873.76h13.80v1.93h-13.80zM767.80 716.61h13.80v2.78h-13.80zM767.80 725.48h13.80v2.04h-13.80zM784.94 724.91h13.80v1.25h-13.80zM802.09 816.53h13.80v1.59h-13.80zM819.24 829.03h13.80v2.41h-13.80zM853.53 779.63h13.80v1.87h-13.80zM853.53 781.70h13.80v1.65h-13.80zM870.67 817.77h13.80v2.45h-13.80zM870.67 841.71h13.80v2.79h-13.80zM887.82 836.95h13.80v2.26h-13.80z" fill="#b0161e"/>
<path d="M116.25 971.50h13.80v1.06h-13.80zM150.54 946.83h13.80v1.45h-13.80zM167.69 852.71h13.80v1.20h-13.80zM167.69 893.99h13.80v2.29h-13.80zM167.69 899.53h13.80v1.69h-13.80zM167.69 903.13h13.80v1.56h-13.80zM201.98 910.62h13.80v2.21h-13.80zM201.98 923.13h13.80v1.83h-13.80zM201.98 927.39h13.80v2.11h-13.80zM219.13 911.71h13.80v1.94h-13.80zM236.27 831.36h13.80v1.45h-13.80zM253.42 854.83h13.80v1.18h-13.80zM270.56 919.78h13.80v2.57h-13.80zM270.56 931.84h13.80v2.18h-13.80zM287.71 823.22h13.80v1.96h-13.80zM304.86 866.19h13.80v2.42h-13.80zM339.15 873.16h13.80v1.34h-13.80zM339.15 880.46h13.80v1.70h-13.80zM339.15 883.23h13.80v2.60h-13.80zM356.29 908.85h13.80v2.14h-13.80zM356.29 913.62h13.80v2.65h-13.80zM373.44 933.64h13.80v1.97h-13.80zM373.44 943.22h13.80v1.12h-13.80zM407.73 952.01h13.80v1.39h-13.80zM407.73 956.50h13.80v1.07h-13.80zM407.73 963.86h13.80v1.09h-13.80zM442.02 893.78h13.80v2.45h-13.80zM442.02 895.64h13.80v1.06h-13.80zM442.02 906.53h13.80v1.76h-13.80zM442.02 909.08h13.80v1.74h-13.80zM459.17 871.98h13.80v2.83h-13.80zM459.17 882.62h13.80v2.53h-13.80zM459.17 889.44h13.80v2.53h-13.80zM476.32 863.11h13.80v2.22h-13.80zM476.32 885.89h13.80v1.43h-13.80zM493.46 845.37h13.80v1.98h-13.80zM493.46 853.19h13.80v2.32h-13.80zM493.46 873.91h13.80v1.09h-13.80zM510.61 762.96h13.80v1.93h-13.80zM510.61 770.37h13.80v1.75h-13.80zM510.61 772.24h13.80v1.07h-13.80zM544.90 814.77h13.80v1.41h-13.80zM544.90 820.71h13.80v1.15h-13.80zM562.05 782.22h13.80v2.77h-13.80zM562.05 794.70h13.80v2.75h-13.80zM562.05 828.66h13.80v1.12h-13.80zM562.05 841.56h13.80v2.16h-13.80zM579.19 796.03h13.80v2.20h-13.80zM579.19 812.91h13.80v2.06h-13.80zM579.19 820.58h13.80v2.60h-13.80zM596.34 808.61h13.80v1.85h-13.80zM596.34 815.50h13.80v2.37h-13.80zM596.34 838.44h13.80v2.50h-13.80zM613.48 822.60h13.80v2.19h-13.80zM647.78 822.21h13.80v1.58h-13.80zM664.92 798.11h13.80v2.82h-13.80zM682.07 868.88h13.80v1.63h-13.80zM699.21 850.38h13.80v1.89h-13.80zM699.21 858.61h13.80v1.65h-13.80zM699.21 860.69h13.80v1.11h-13.80zM699.21 866.82h13.80v2.58h-13.80zM716.36 780.94h13.80v2.07h-13.80zM716.36 799.81h13.80v2.20h-13.80zM716.36 829.49h13.80v2.19h-13.80zM733.51 859.16h13.80v2.49h-13.80zM733.51 862.10h13.80v1.63h-13.80zM733.51 869.72h13.80v2.40h-13.80zM733.51 881.35h13.80v2.76h-13.80zM733.51 894.96h13.80v2.72h-13.80zM750.65 847.46h13.80v1.70h-13.80zM750.65 851.11h13.80v1.88h-13.80zM750.65 862.81h13.80v2.29h-13.80zM750.65 871.02h13.80v2.55h-13.80zM750.65 877.31h13.80v2.76h-13.80zM750.65 888.54h13.80v2.80h-13.80zM784.94 696.27h13.80v1.45h-13.80zM784.94 708.77h13.80v1.09h-13.80zM802.09 819.91h13.80v2.86h-13.80zM802.09 841.72h13.80v1.41h-13.80zM802.09 844.74h13.80v1.26h-13.80zM819.24 818.28h13.80v1.53h-13.80zM836.38 811.23h13.80v1.64h-13.80zM836.38 822.09h13.80v1.93h-13.80zM853.53 784.60h13.80v1.45h-13.80zM870.67 830.06h13.80v1.72h-13.80zM870.67 848.60h13.80v2.85h-13.80zM887.82 809.13h13.80v2.01h-13.80zM887.82 812.31h13.80v2.14h-13.80z" fill="#801014"/>
<path d="M116.25 974.00h13.80v2.00h-13.80zM133.40 902.00h13.80v2.00h-13.80zM150.54 954.80h13.80v2.00h-13.80zM167.69 904.00h13.80v2.00h-13.80zM184.83 917.80h13.80v2.00h-13.80zM201.98 927.50h13.80v2.00h-13.80zM219.13 918.00h13.80v2.00h-13.80zM236.27 831.00h13.80v2.00h-13.80zM253.42 877.00h13.80v2.00h-13.80zM270.56 933.00h13.80v2.00h-13.80zM287.71 844.00h13.80v2.00h-13.80zM304.86 884.00h13.80v2.00h-13.80zM322.00 920.00h13.80v2.00h-13.80zM339.15 898.00h13.80v2.00h-13.80zM356.29 918.00h13.80v2.00h-13.80zM373.44 960.60h13.80v2.00h-13.80zM390.59 949.00h13.80v2.00h-13.80zM407.73 970.00h13.80v2.00h-13.80zM424.88 778.00h13.80v2.00h-13.80zM442.02 911.00h13.80v2.00h-13.80zM459.17 910.00h13.80v2.00h-13.80zM476.32 904.00h13.80v2.00h-13.80zM493.46 873.00h13.80v2.00h-13.80zM510.61 781.50h13.80v2.00h-13.80zM527.75 819.00h13.80v2.00h-13.80zM544.90 820.00h13.80v2.00h-13.80zM562.05 842.00h13.80v2.00h-13.80zM579.19 838.00h13.80v2.00h-13.80zM596.34 850.00h13.80v2.00h-13.80zM613.48 842.00h13.80v2.00h-13.80zM630.63 807.00h13.80v2.00h-13.80zM647.78 851.60h13.80v2.00h-13.80zM664.92 826.00h13.80v2.00h-13.80zM682.07 885.00h13.80v2.00h-13.80zM699.21 881.00h13.80v2.00h-13.80zM716.36 838.00h13.80v2.00h-13.80zM733.51 896.00h13.80v2.00h-13.80zM750.65 900.00h13.80v2.00h-13.80zM767.80 733.00h13.80v2.00h-13.80zM784.94 729.00h13.80v2.00h-13.80zM802.09 844.00h13.80v2.00h-13.80zM819.24 848.00h13.80v2.00h-13.80zM836.38 829.00h13.80v2.00h-13.80zM853.53 793.30h13.80v2.00h-13.80zM870.67 851.60h13.80v2.00h-13.80zM887.82 844.00h13.80v2.00h-13.80z" fill="#5a0a0e"/>
<path d="M116.25 983.50h13.80v1.40h-13.80zM150.54 983.50h13.80v1.40h-13.80zM167.69 983.50h13.80v1.40h-13.80zM184.83 983.50h13.80v1.40h-13.80zM201.98 983.50h13.80v1.40h-13.80zM219.13 983.50h13.80v1.40h-13.80zM236.27 983.50h13.80v1.40h-13.80zM253.42 983.50h13.80v1.40h-13.80zM270.56 983.50h13.80v1.40h-13.80zM287.71 983.50h13.80v1.40h-13.80zM304.86 983.50h13.80v1.40h-13.80zM322.00 983.50h13.80v1.40h-13.80zM339.15 983.50h13.80v1.40h-13.80zM356.29 983.50h13.80v1.40h-13.80zM390.59 983.50h13.80v1.40h-13.80zM407.73 983.50h13.80v1.40h-13.80zM424.88 983.50h13.80v1.40h-13.80zM442.02 983.50h13.80v1.40h-13.80zM459.17 983.50h13.80v1.40h-13.80zM476.32 983.50h13.80v1.40h-13.80zM493.46 983.50h13.80v1.40h-13.80zM510.61 983.50h13.80v1.40h-13.80zM527.75 983.50h13.80v1.40h-13.80zM544.90 983.50h13.80v1.40h-13.80zM562.05 983.50h13.80v1.40h-13.80zM579.19 983.50h13.80v1.40h-13.80zM596.34 983.50h13.80v1.40h-13.80zM613.48 983.50h13.80v1.40h-13.80zM630.63 983.50h13.80v1.40h-13.80zM647.78 983.50h13.80v1.40h-13.80zM664.92 983.50h13.80v1.40h-13.80zM699.21 983.50h13.80v1.40h-13.80zM716.36 983.50h13.80v1.40h-13.80zM733.51 983.50h13.80v1.40h-13.80zM750.65 983.50h13.80v1.40h-13.80zM767.80 983.50h13.80v1.40h-13.80zM784.94 983.50h13.80v1.40h-13.80zM802.09 983.50h13.80v1.40h-13.80zM819.24 983.50h13.80v1.40h-13.80zM836.38 983.50h13.80v1.40h-13.80zM853.53 983.50h13.80v1.40h-13.80zM870.67 983.50h13.80v1.40h-13.80zM887.82 983.50h13.80v1.40h-13.80z" fill="#5c5610"/>
<path d="M116.25 986.50h13.80v2.00h-13.80zM150.54 986.50h13.80v2.00h-13.80zM167.69 986.50h13.80v2.00h-13.80zM184.83 986.50h13.80v2.00h-13.80zM201.98 986.50h13.80v2.00h-13.80zM219.13 986.50h13.80v2.00h-13.80zM236.27 986.50h13.80v2.00h-13.80zM253.42 986.50h13.80v2.00h-13.80zM270.56 986.50h13.80v2.00h-13.80zM287.71 986.50h13.80v2.00h-13.80zM304.86 986.50h13.80v2.00h-13.80zM322.00 986.50h13.80v2.00h-13.80zM339.15 986.50h13.80v2.00h-13.80zM356.29 986.50h13.80v2.00h-13.80zM390.59 986.50h13.80v2.00h-13.80zM407.73 986.50h13.80v2.00h-13.80zM424.88 986.50h13.80v2.00h-13.80zM442.02 986.50h13.80v2.00h-13.80zM459.17 986.50h13.80v2.00h-13.80zM476.32 986.50h13.80v2.00h-13.80zM493.46 986.50h13.80v2.00h-13.80zM510.61 986.50h13.80v2.00h-13.80zM527.75 986.50h13.80v2.00h-13.80zM544.90 986.50h13.80v2.00h-13.80zM562.05 986.50h13.80v2.00h-13.80zM579.19 986.50h13.80v2.00h-13.80zM596.34 986.50h13.80v2.00h-13.80zM613.48 986.50h13.80v2.00h-13.80zM630.63 986.50h13.80v2.00h-13.80zM647.78 986.50h13.80v2.00h-13.80zM664.92 986.50h13.80v2.00h-13.80zM699.21 986.50h13.80v2.00h-13.80zM716.36 986.50h13.80v2.00h-13.80zM733.51 986.50h13.80v2.00h-13.80zM750.65 986.50h13.80v2.00h-13.80zM767.80 986.50h13.80v2.00h-13.80zM784.94 986.50h13.80v2.00h-13.80zM802.09 986.50h13.80v2.00h-13.80zM819.24 986.50h13.80v2.00h-13.80zM836.38 986.50h13.80v2.00h-13.80zM853.53 986.50h13.80v2.00h-13.80zM870.67 986.50h13.80v2.00h-13.80zM887.82 986.50h13.80v2.00h-13.80z" fill="#34300a"/>
<path d="M133.40 507.63h13.80v0.86h-13.80zM133.40 517.37h13.80v1.09h-13.80zM150.54 535.23h13.80v1.50h-13.80zM167.69 489.94h13.80v2.09h-13.80zM167.69 559.94h13.80v1.66h-13.80zM167.69 563.41h13.80v2.06h-13.80zM184.83 512.61h13.80v1.56h-13.80zM201.98 537.44h13.80v1.07h-13.80zM236.27 536.45h13.80v1.66h-13.80zM236.27 559.72h13.80v1.81h-13.80zM253.42 532.30h13.80v1.69h-13.80zM253.42 534.96h13.80v1.76h-13.80zM270.56 508.17h13.80v0.89h-13.80zM270.56 543.12h13.80v1.98h-13.80zM270.56 545.29h13.80v1.41h-13.80zM270.56 561.91h13.80v1.36h-13.80zM287.71 506.85h13.80v1.12h-13.80zM287.71 543.59h13.80v1.88h-13.80zM304.86 496.03h13.80v1.77h-13.80zM304.86 522.96h13.80v0.90h-13.80zM304.86 529.04h13.80v1.48h-13.80zM304.86 535.29h13.80v1.03h-13.80zM322.00 492.38h13.80v1.30h-13.80zM322.00 509.83h13.80v0.89h-13.80zM322.00 514.13h13.80v0.85h-13.80zM339.15 506.28h13.80v1.99h-13.80zM390.59 518.59h13.80v1.58h-13.80zM390.59 528.88h13.80v1.67h-13.80zM407.73 508.88h13.80v2.16h-13.80zM407.73 526.79h13.80v0.90h-13.80zM424.88 591.73h13.80v0.86h-13.80zM442.02 575.93h13.80v1.89h-13.80zM459.17 517.79h13.80v0.94h-13.80zM459.17 533.27h13.80v1.62h-13.80zM476.32 551.29h13.80v1.51h-13.80zM476.32 576.94h13.80v1.52h-13.80zM493.46 509.45h13.80v1.31h-13.80zM493.46 606.18h13.80v1.07h-13.80zM493.46 610.62h13.80v1.50h-13.80zM493.46 614.85h13.80v0.83h-13.80zM510.61 485.35h13.80v1.50h-13.80zM510.61 593.23h13.80v2.11h-13.80zM527.75 495.54h13.80v0.93h-13.80zM527.75 516.38h13.80v2.00h-13.80zM527.75 560.78h13.80v2.04h-13.80zM544.90 502.95h13.80v1.97h-13.80zM544.90 521.25h13.80v1.18h-13.80zM544.90 543.05h13.80v1.74h-13.80zM544.90 556.46h13.80v1.56h-13.80zM562.05 495.21h13.80v1.35h-13.80zM562.05 529.57h13.80v2.07h-13.80zM562.05 549.56h13.80v1.37h-13.80zM579.19 517.83h13.80v1.76h-13.80zM579.19 535.46h13.80v0.97h-13.80zM579.19 551.55h13.80v1.03h-13.80zM596.34 520.57h13.80v0.93h-13.80zM596.34 523.15h13.80v1.45h-13.80zM596.34 552.47h13.80v1.26h-13.80zM613.48 617.13h13.80v2.18h-13.80zM630.63 540.91h13.80v1.01h-13.80zM647.78 587.25h13.80v1.06h-13.80zM647.78 604.84h13.80v1.08h-13.80zM664.92 512.32h13.80v2.05h-13.80zM682.07 615.60h13.80v2.05h-13.80zM716.36 520.37h13.80v1.11h-13.80zM716.36 564.15h13.80v1.42h-13.80zM716.36 569.87h13.80v1.33h-13.80zM733.51 563.75h13.80v1.58h-13.80zM733.51 596.31h13.80v1.08h-13.80zM767.80 543.83h13.80v1.12h-13.80zM802.09 558.45h13.80v1.10h-13.80zM836.38 607.82h13.80v1.13h-13.80zM887.82 530.22h13.80v1.56h-13.80z" fill="#2c3898"/>
<path d="M133.40 514.34h13.80v1.79h-13.80zM133.40 519.59h13.80v1.31h-13.80zM167.69 550.36h13.80v1.92h-13.80zM184.83 534.34h13.80v1.95h-13.80zM184.83 538.46h13.80v0.89h-13.80zM236.27 502.04h13.80v2.14h-13.80zM236.27 508.17h13.80v1.96h-13.80zM236.27 527.11h13.80v1.41h-13.80zM253.42 500.30h13.80v0.92h-13.80zM253.42 526.22h13.80v1.67h-13.80zM322.00 495.03h13.80v1.64h-13.80zM339.15 511.64h13.80v1.65h-13.80zM373.44 513.87h13.80v1.74h-13.80zM373.44 517.45h13.80v1.97h-13.80zM390.59 496.70h13.80v1.96h-13.80zM424.88 502.63h13.80v1.41h-13.80zM424.88 539.73h13.80v2.17h-13.80zM424.88 565.45h13.80v1.88h-13.80zM424.88 585.77h13.80v1.89h-13.80zM442.02 500.11h13.80v1.76h-13.80zM442.02 517.99h13.80v1.56h-13.80zM442.02 520.91h13.80v2.04h-13.80zM442.02 564.50h13.80v2.07h-13.80zM442.02 583.61h13.80v1.60h-13.80zM459.17 504.61h13.80v1.66h-13.80zM459.17 515.46h13.80v1.32h-13.80zM459.17 536.83h13.80v0.85h-13.80zM459.17 572.52h13.80v1.00h-13.80zM476.32 580.77h13.80v1.36h-13.80zM476.32 590.82h13.80v0.90h-13.80zM476.32 606.56h13.80v1.98h-13.80zM493.46 520.16h13.80v1.91h-13.80zM493.46 551.31h13.80v1.63h-13.80zM510.61 525.54h13.80v1.18h-13.80zM510.61 538.26h13.80v2.17h-13.80zM510.61 560.37h13.80v2.15h-13.80zM527.75 499.88h13.80v1.13h-13.80zM527.75 539.84h13.80v1.26h-13.80zM527.75 551.68h13.80v1.51h-13.80zM527.75 579.72h13.80v1.87h-13.80zM527.75 583.16h13.80v1.91h-13.80zM527.75 595.54h13.80v1.66h-13.80zM544.90 500.79h13.80v1.32h-13.80zM562.05 546.83h13.80v0.95h-13.80zM579.19 540.82h13.80v1.84h-13.80zM579.19 562.91h13.80v1.21h-13.80zM596.34 592.07h13.80v1.56h-13.80zM613.48 524.00h13.80v1.72h-13.80zM647.78 552.65h13.80v1.94h-13.80zM647.78 556.99h13.80v0.83h-13.80zM647.78 589.10h13.80v1.43h-13.80zM647.78 595.35h13.80v1.37h-13.80zM682.07 568.03h13.80v1.92h-13.80zM682.07 585.29h13.80v0.96h-13.80zM699.21 526.70h13.80v1.58h-13.80zM699.21 537.89h13.80v2.03h-13.80zM699.21 541.38h13.80v1.07h-13.80zM699.21 550.21h13.80v0.83h-13.80zM699.21 601.50h13.80v1.96h-13.80zM716.36 493.77h13.80v1.32h-13.80zM716.36 513.17h13.80v1.65h-13.80zM733.51 518.70h13.80v1.33h-13.80zM750.65 538.91h13.80v1.12h-13.80zM750.65 562.75h13.80v1.68h-13.80zM750.65 613.19h13.80v1.08h-13.80zM767.80 483.13h13.80v1.15h-13.80zM767.80 506.68h13.80v1.73h-13.80zM784.94 510.73h13.80v1.76h-13.80zM819.24 537.80h13.80v1.05h-13.80zM819.24 572.41h13.80v1.08h-13.80zM819.24 592.27h13.80v0.81h-13.80zM819.24 597.29h13.80v2.06h-13.80zM836.38 505.74h13.80v1.38h-13.80zM836.38 549.50h13.80v1.26h-13.80zM836.38 575.81h13.80v1.76h-13.80zM836.38 604.73h13.80v1.22h-13.80zM853.53 584.12h13.80v1.65h-13.80zM887.82 523.25h13.80v1.95h-13.80zM887.82 545.59h13.80v1.39h-13.80zM887.82 613.33h13.80v0.95h-13.80z" fill="#232a80"/>
<path d="M133.40 548.93h13.80v2.03h-13.80zM133.40 550.75h13.80v1.16h-13.80zM133.40 552.83h13.80v1.56h-13.80zM133.40 564.26h13.80v1.49h-13.80zM150.54 579.78h13.80v0.84h-13.80zM150.54 602.89h13.80v1.84h-13.80zM150.54 614.87h13.80v1.21h-13.80zM167.69 527.81h13.80v2.19h-13.80zM167.69 583.19h13.80v1.30h-13.80zM167.69 594.19h13.80v1.61h-13.80zM167.69 611.06h13.80v1.19h-13.80zM184.83 571.96h13.80v1.75h-13.80zM184.83 575.49h13.80v0.95h-13.80zM219.13 498.56h13.80v0.96h-13.80zM219.13 506.38h13.80v1.57h-13.80zM219.13 517.46h13.80v1.75h-13.80zM219.13 543.09h13.80v0.93h-13.80zM236.27 496.38h13.80v0.81h-13.80zM236.27 561.73h13.80v1.39h-13.80zM236.27 593.15h13.80v1.86h-13.80zM236.27 596.78h13.80v2.05h-13.80zM236.27 608.99h13.80v1.45h-13.80zM236.27 615.13h13.80v1.65h-13.80zM253.42 556.15h13.80v0.93h-13.80zM270.56 590.98h13.80v1.61h-13.80zM270.56 597.31h13.80v2.09h-13.80zM270.56 616.67h13.80v1.83h-13.80zM270.56 631.65h13.80v0.85h-13.80zM304.86 541.37h13.80v0.83h-13.80zM304.86 554.31h13.80v0.88h-13.80zM339.15 559.76h13.80v1.85h-13.80zM339.15 570.94h13.80v1.27h-13.80zM339.15 583.65h13.80v1.29h-13.80zM356.29 532.90h13.80v2.03h-13.80zM373.44 491.20h13.80v1.57h-13.80zM424.88 524.47h13.80v1.63h-13.80zM424.88 531.12h13.80v0.82h-13.80zM424.88 579.82h13.80v0.80h-13.80zM424.88 582.66h13.80v1.33h-13.80zM424.88 595.97h13.80v1.66h-13.80zM424.88 664.23h13.80v2.09h-13.80zM424.88 668.46h13.80v1.82h-13.80zM424.88 714.17h13.80v1.22h-13.80zM424.88 718.42h13.80v1.91h-13.80zM442.02 555.56h13.80v1.39h-13.80zM442.02 573.41h13.80v1.18h-13.80zM442.02 590.81h13.80v1.80h-13.80zM442.02 613.34h13.80v1.21h-13.80zM459.17 585.20h13.80v2.18h-13.80zM459.17 605.19h13.80v1.84h-13.80zM476.32 611.90h13.80v1.68h-13.80zM476.32 650.83h13.80v1.74h-13.80zM493.46 492.98h13.80v1.01h-13.80zM493.46 546.17h13.80v1.32h-13.80zM493.46 636.27h13.80v1.91h-13.80zM493.46 676.27h13.80v2.08h-13.80zM493.46 700.21h13.80v2.18h-13.80zM510.61 502.52h13.80v1.56h-13.80zM510.61 580.96h13.80v0.84h-13.80zM510.61 622.77h13.80v1.67h-13.80zM510.61 630.60h13.80v1.61h-13.80zM510.61 663.87h13.80v2.10h-13.80zM527.75 563.00h13.80v2.02h-13.80zM527.75 591.70h13.80v1.99h-13.80zM527.75 702.57h13.80v1.45h-13.80zM544.90 559.98h13.80v1.89h-13.80zM544.90 597.09h13.80v1.18h-13.80zM562.05 525.09h13.80v1.63h-13.80zM562.05 560.07h13.80v1.12h-13.80zM579.19 586.42h13.80v0.96h-13.80zM579.19 601.63h13.80v1.85h-13.80zM579.19 616.82h13.80v1.13h-13.80zM579.19 643.84h13.80v1.44h-13.80zM596.34 494.18h13.80v0.98h-13.80zM596.34 501.63h13.80v1.99h-13.80zM596.34 574.97h13.80v1.88h-13.80zM596.34 625.85h13.80v2.13h-13.80zM596.34 648.37h13.80v1.05h-13.80zM596.34 655.39h13.80v1.78h-13.80zM596.34 657.90h13.80v1.37h-13.80zM613.48 554.46h13.80v1.80h-13.80zM613.48 562.44h13.80v1.99h-13.80zM613.48 566.14h13.80v0.93h-13.80zM613.48 573.78h13.80v1.14h-13.80zM613.48 621.02h13.80v1.14h-13.80zM613.48 624.36h13.80v1.28h-13.80zM613.48 633.82h13.80v0.99h-13.80zM613.48 640.26h13.80v0.86h-13.80zM613.48 671.96h13.80v0.87h-13.80zM630.63 568.04h13.80v0.93h-13.80zM630.63 589.49h13.80v1.58h-13.80zM647.78 540.82h13.80v0.82h-13.80zM647.78 602.55h13.80v1.50h-13.80zM664.92 560.31h13.80v1.05h-13.80zM682.07 557.04h13.80v2.15h-13.80zM682.07 561.03h13.80v1.86h-13.80zM682.07 593.28h13.80v1.21h-13.80zM682.07 595.35h13.80v0.87h-13.80zM682.07 597.72h13.80v1.75h-13.80zM682.07 642.39h13.80v2.19h-13.80zM699.21 581.13h13.80v2.03h-13.80zM699.21 598.40h13.80v2.17h-13.80zM699.21 612.62h13.80v1.72h-13.80zM699.21 662.37h13.80v0.80h-13.80zM699.21 669.43h13.80v1.77h-13.80zM699.21 671.58h13.80v1.57h-13.80zM699.21 696.34h13.80v1.91h-13.80zM716.36 562.23h13.80v1.95h-13.80zM733.51 557.08h13.80v2.13h-13.80zM733.51 689.90h13.80v1.03h-13.80zM733.51 707.21h13.80v1.43h-13.80zM750.65 499.34h13.80v1.61h-13.80zM750.65 524.17h13.80v2.00h-13.80zM750.65 534.61h13.80v0.90h-13.80zM750.65 560.45h13.80v1.53h-13.80zM750.65 617.25h13.80v1.38h-13.80zM750.65 678.19h13.80v1.16h-13.80zM767.80 515.04h13.80v1.21h-13.80zM767.80 582.31h13.80v1.41h-13.80zM767.80 586.24h13.80v1.43h-13.80zM767.80 608.92h13.80v1.47h-13.80zM767.80 628.27h13.80v1.41h-13.80zM767.80 631.68h13.80v1.30h-13.80zM784.94 579.92h13.80v1.74h-13.80zM784.94 599.20h13.80v2.02h-13.80zM802.09 586.46h13.80v1.06h-13.80zM802.09 653.51h13.80v1.44h-13.80zM819.24 561.44h13.80v1.77h-13.80zM819.24 611.00h13.80v1.26h-13.80zM836.38 494.28h13.80v1.06h-13.80zM836.38 513.28h13.80v2.16h-13.80zM836.38 527.78h13.80v1.05h-13.80zM853.53 499.50h13.80v1.49h-13.80zM853.53 563.85h13.80v1.27h-13.80zM853.53 625.09h13.80v1.94h-13.80zM870.67 545.75h13.80v0.90h-13.80zM870.67 568.45h13.80v1.56h-13.80zM870.67 604.09h13.80v1.33h-13.80zM887.82 595.29h13.80v1.28h-13.80zM887.82 629.45h13.80v1.69h-13.80zM887.82 680.90h13.80v1.55h-13.80z" fill="#2a3494"/>
<path d="M133.40 593.29h13.80v1.77h-13.80zM133.40 595.85h13.80v1.00h-13.80zM133.40 617.37h13.80v1.59h-13.80zM184.83 551.52h13.80v1.07h-13.80zM270.56 637.46h13.80v2.11h-13.80zM270.56 658.13h13.80v1.96h-13.80zM287.71 572.88h13.80v1.55h-13.80zM304.86 583.46h13.80v1.07h-13.80zM304.86 593.77h13.80v1.23h-13.80zM322.00 540.59h13.80v1.42h-13.80zM339.15 555.42h13.80v2.16h-13.80zM339.15 580.58h13.80v1.61h-13.80zM390.59 531.48h13.80v2.00h-13.80zM424.88 635.15h13.80v1.31h-13.80zM424.88 645.07h13.80v1.71h-13.80zM424.88 679.72h13.80v1.26h-13.80zM459.17 596.13h13.80v1.62h-13.80zM476.32 624.03h13.80v1.25h-13.80zM476.32 642.04h13.80v1.78h-13.80zM476.32 648.55h13.80v0.87h-13.80zM510.61 614.44h13.80v2.00h-13.80zM510.61 652.01h13.80v1.20h-13.80zM544.90 614.94h13.80v1.38h-13.80zM596.34 600.61h13.80v1.19h-13.80zM596.34 652.64h13.80v2.00h-13.80zM613.48 655.23h13.80v1.76h-13.80zM613.48 668.64h13.80v2.12h-13.80zM613.48 675.15h13.80v2.11h-13.80zM630.63 571.79h13.80v1.86h-13.80zM647.78 665.93h13.80v1.98h-13.80zM664.92 595.94h13.80v1.48h-13.80zM664.92 622.58h13.80v1.94h-13.80zM682.07 685.94h13.80v1.92h-13.80zM682.07 694.06h13.80v0.89h-13.80zM682.07 705.76h13.80v1.67h-13.80zM682.07 734.89h13.80v0.84h-13.80zM699.21 645.00h13.80v1.90h-13.80zM699.21 648.55h13.80v0.95h-13.80zM699.21 686.82h13.80v1.78h-13.80zM716.36 583.50h13.80v1.12h-13.80zM716.36 600.19h13.80v1.07h-13.80zM733.51 656.97h13.80v1.49h-13.80zM733.51 702.80h13.80v1.93h-13.80zM750.65 648.81h13.80v1.87h-13.80zM767.80 601.14h13.80v0.98h-13.80zM767.80 635.22h13.80v2.06h-13.80zM784.94 575.44h13.80v1.88h-13.80zM802.09 614.47h13.80v0.81h-13.80zM802.09 616.79h13.80v1.21h-13.80zM802.09 663.54h13.80v1.46h-13.80zM819.24 658.52h13.80v1.02h-13.80zM819.24 662.42h13.80v1.33h-13.80zM836.38 641.08h13.80v1.79h-13.80zM836.38 650.72h13.80v1.81h-13.80zM836.38 693.06h13.80v1.52h-13.80zM853.53 607.76h13.80v1.14h-13.80zM853.53 638.58h13.80v2.20h-13.80zM853.53 671.49h13.80v1.01h-13.80zM870.67 660.87h13.80v1.08h-13.80zM887.82 633.74h13.80v2.06h-13.80zM887.82 658.03h13.80v1.38h-13.80z" fill="#1e246c"/>
<path d="M133.40 625.30h13.80v1.93h-13.80zM150.54 619.81h13.80v1.71h-13.80zM167.69 623.98h13.80v1.94h-13.80zM167.69 627.58h13.80v1.02h-13.80zM184.83 590.46h13.80v1.19h-13.80zM253.42 605.04h13.80v2.12h-13.80zM253.42 617.15h13.80v0.85h-13.80zM270.56 662.51h13.80v1.85h-13.80zM287.71 602.03h13.80v2.03h-13.80zM390.59 555.07h13.80v1.98h-13.80zM407.73 568.26h13.80v1.10h-13.80zM613.48 684.73h13.80v1.56h-13.80zM682.07 741.61h13.80v1.59h-13.80zM682.07 748.71h13.80v2.14h-13.80zM802.09 670.51h13.80v2.16h-13.80zM802.09 672.52h13.80v1.37h-13.80zM819.24 674.48h13.80v1.97h-13.80zM819.24 677.18h13.80v2.19h-13.80zM836.38 716.54h13.80v2.06h-13.80zM870.67 675.56h13.80v0.99h-13.80zM870.67 677.57h13.80v1.97h-13.80zM870.67 680.39h13.80v1.61h-13.80zM887.82 689.85h13.80v1.26h-13.80zM887.82 694.29h13.80v1.67h-13.80zM887.82 696.12h13.80v0.93h-13.80z" fill="#c49498"/>
<path d="M133.40 747.66h13.80v2.08h-13.80zM150.54 667.29h13.80v1.53h-13.80zM150.54 703.74h13.80v1.29h-13.80zM150.54 706.17h13.80v1.69h-13.80zM150.54 746.94h13.80v0.90h-13.80zM150.54 831.57h13.80v2.02h-13.80zM167.69 649.32h13.80v1.32h-13.80zM167.69 709.54h13.80v0.84h-13.80zM184.83 597.50h13.80v0.89h-13.80zM184.83 599.34h13.80v1.23h-13.80zM184.83 697.91h13.80v1.73h-13.80zM184.83 755.35h13.80v0.90h-13.80zM184.83 765.12h13.80v2.08h-13.80zM201.98 661.45h13.80v1.80h-13.80zM219.13 598.22h13.80v1.93h-13.80zM219.13 656.22h13.80v1.90h-13.80zM219.13 667.84h13.80v2.07h-13.80zM219.13 731.39h13.80v0.97h-13.80zM219.13 738.92h13.80v1.61h-13.80zM219.13 783.32h13.80v2.12h-13.80zM236.27 708.36h13.80v2.20h-13.80zM253.42 686.23h13.80v1.69h-13.80zM287.71 628.67h13.80v2.12h-13.80zM287.71 725.03h13.80v1.41h-13.80zM304.86 621.23h13.80v0.94h-13.80zM304.86 730.73h13.80v1.59h-13.80zM304.86 733.16h13.80v1.83h-13.80zM322.00 572.50h13.80v2.01h-13.80zM322.00 580.61h13.80v1.94h-13.80zM322.00 713.12h13.80v1.18h-13.80zM322.00 719.38h13.80v0.84h-13.80zM322.00 793.21h13.80v1.47h-13.80zM339.15 730.15h13.80v1.25h-13.80zM339.15 794.90h13.80v1.61h-13.80zM356.29 619.54h13.80v0.93h-13.80zM356.29 716.61h13.80v1.53h-13.80zM356.29 727.92h13.80v1.48h-13.80zM356.29 787.71h13.80v1.22h-13.80zM356.29 799.38h13.80v1.37h-13.80zM373.44 563.25h13.80v1.03h-13.80zM373.44 569.88h13.80v1.15h-13.80zM373.44 759.24h13.80v1.02h-13.80zM373.44 768.69h13.80v1.88h-13.80zM390.59 576.65h13.80v1.24h-13.80zM390.59 672.91h13.80v2.10h-13.80zM390.59 696.11h13.80v0.96h-13.80zM390.59 760.00h13.80v1.92h-13.80zM390.59 804.52h13.80v1.41h-13.80zM390.59 818.50h13.80v1.46h-13.80zM407.73 628.23h13.80v2.19h-13.80zM407.73 641.66h13.80v1.23h-13.80zM407.73 645.75h13.80v1.10h-13.80zM407.73 649.90h13.80v0.85h-13.80zM407.73 680.10h13.80v0.98h-13.80zM407.73 756.08h13.80v1.53h-13.80zM407.73 779.25h13.80v2.02h-13.80zM407.73 795.27h13.80v1.43h-13.80zM442.02 654.66h13.80v1.95h-13.80zM459.17 667.02h13.80v2.12h-13.80zM459.17 726.14h13.80v0.99h-13.80zM476.32 698.92h13.80v2.06h-13.80zM613.48 689.59h13.80v1.05h-13.80zM630.63 673.31h13.80v2.05h-13.80zM647.78 683.08h13.80v1.87h-13.80zM647.78 692.63h13.80v1.04h-13.80zM647.78 723.16h13.80v1.02h-13.80zM664.92 672.50h13.80v1.33h-13.80zM699.21 731.58h13.80v1.52h-13.80zM819.24 722.55h13.80v1.24h-13.80zM870.67 739.29h13.80v2.15h-13.80z" fill="#20743e"/>
<path d="M133.40 832.58h13.80v1.71h-13.80zM150.54 891.87h13.80v1.60h-13.80zM150.54 905.31h13.80v1.37h-13.80zM167.69 763.63h13.80v0.93h-13.80zM167.69 772.48h13.80v1.36h-13.80zM167.69 779.10h13.80v1.70h-13.80zM167.69 802.52h13.80v1.41h-13.80zM219.13 865.74h13.80v2.19h-13.80zM219.13 875.07h13.80v1.96h-13.80zM253.42 793.39h13.80v1.87h-13.80zM253.42 819.14h13.80v0.88h-13.80zM270.56 892.09h13.80v1.14h-13.80zM339.15 836.59h13.80v1.74h-13.80zM339.15 839.06h13.80v1.79h-13.80zM339.15 842.41h13.80v1.59h-13.80zM356.29 882.30h13.80v1.64h-13.80zM373.44 870.93h13.80v2.02h-13.80zM390.59 911.23h13.80v2.04h-13.80zM390.59 917.85h13.80v1.84h-13.80zM390.59 925.97h13.80v0.83h-13.80zM390.59 932.30h13.80v1.24h-13.80zM407.73 928.73h13.80v1.48h-13.80zM407.73 942.40h13.80v1.22h-13.80zM442.02 820.53h13.80v1.17h-13.80zM442.02 827.30h13.80v1.67h-13.80zM459.17 798.02h13.80v1.02h-13.80zM476.32 827.67h13.80v1.52h-13.80zM476.32 848.83h13.80v2.15h-13.80zM510.61 699.48h13.80v1.65h-13.80zM527.75 775.26h13.80v1.21h-13.80zM544.90 726.31h13.80v1.75h-13.80zM544.90 740.84h13.80v1.07h-13.80zM544.90 758.47h13.80v1.62h-13.80zM544.90 770.58h13.80v2.02h-13.80zM562.05 696.36h13.80v0.86h-13.80zM562.05 700.71h13.80v1.40h-13.80zM579.19 704.53h13.80v1.53h-13.80zM579.19 734.09h13.80v1.16h-13.80zM596.34 728.17h13.80v1.05h-13.80zM613.48 731.17h13.80v1.67h-13.80zM613.48 774.74h13.80v2.16h-13.80zM630.63 693.20h13.80v1.56h-13.80zM630.63 698.08h13.80v1.85h-13.80zM630.63 734.36h13.80v2.14h-13.80zM630.63 744.39h13.80v1.99h-13.80zM664.92 740.99h13.80v1.89h-13.80zM664.92 745.07h13.80v1.73h-13.80zM664.92 754.80h13.80v0.85h-13.80zM664.92 760.25h13.80v1.10h-13.80zM664.92 788.86h13.80v0.81h-13.80zM682.07 818.36h13.80v1.41h-13.80zM682.07 850.10h13.80v1.73h-13.80zM699.21 792.35h13.80v1.24h-13.80zM699.21 794.93h13.80v1.20h-13.80zM716.36 645.58h13.80v2.03h-13.80zM716.36 652.66h13.80v2.15h-13.80zM716.36 664.38h13.80v1.70h-13.80zM716.36 678.17h13.80v1.23h-13.80zM716.36 740.24h13.80v0.86h-13.80zM716.36 763.29h13.80v1.30h-13.80zM733.51 828.22h13.80v1.96h-13.80zM750.65 762.33h13.80v1.35h-13.80zM750.65 820.94h13.80v1.23h-13.80zM750.65 843.67h13.80v1.69h-13.80zM767.80 679.38h13.80v1.62h-13.80zM767.80 682.42h13.80v1.66h-13.80zM767.80 688.82h13.80v1.00h-13.80zM784.94 670.63h13.80v1.71h-13.80zM802.09 772.11h13.80v1.13h-13.80zM802.09 775.12h13.80v2.00h-13.80zM802.09 779.24h13.80v1.33h-13.80zM819.24 778.23h13.80v1.09h-13.80zM836.38 783.54h13.80v1.95h-13.80zM870.67 777.64h13.80v1.58h-13.80zM870.67 798.53h13.80v1.74h-13.80zM887.82 742.52h13.80v0.99h-13.80zM887.82 752.35h13.80v1.53h-13.80z" fill="#f42028"/>
<path d="M133.40 834.93h13.80v1.27h-13.80zM133.40 857.79h13.80v1.08h-13.80zM133.40 862.93h13.80v2.02h-13.80zM133.40 878.31h13.80v2.67h-13.80zM133.40 894.12h13.80v1.79h-13.80zM133.40 896.96h13.80v2.08h-13.80zM150.54 889.35h13.80v1.41h-13.80zM150.54 897.20h13.80v1.16h-13.80zM150.54 900.83h13.80v1.27h-13.80zM150.54 912.75h13.80v1.96h-13.80zM150.54 922.36h13.80v0.84h-13.80zM150.54 928.62h13.80v1.52h-13.80zM167.69 796.52h13.80v1.95h-13.80zM167.69 818.52h13.80v1.71h-13.80zM167.69 820.58h13.80v1.25h-13.80zM167.69 868.95h13.80v2.17h-13.80zM167.69 873.04h13.80v1.10h-13.80zM201.98 914.77h13.80v2.32h-13.80zM219.13 904.22h13.80v2.29h-13.80zM236.27 824.53h13.80v2.05h-13.80zM236.27 826.87h13.80v2.41h-13.80zM253.42 816.54h13.80v1.58h-13.80zM253.42 829.26h13.80v1.54h-13.80zM253.42 835.76h13.80v1.04h-13.80zM253.42 842.08h13.80v1.36h-13.80zM253.42 844.16h13.80v2.72h-13.80zM253.42 868.72h13.80v2.69h-13.80zM253.42 878.15h13.80v0.85h-13.80zM270.56 927.02h13.80v1.25h-13.80zM287.71 827.26h13.80v2.54h-13.80zM287.71 841.56h13.80v2.65h-13.80zM304.86 819.85h13.80v2.02h-13.80zM304.86 847.44h13.80v1.65h-13.80zM322.00 871.98h13.80v2.07h-13.80zM322.00 909.66h13.80v2.81h-13.80zM339.15 855.62h13.80v1.00h-13.80zM339.15 857.97h13.80v1.24h-13.80zM339.15 893.19h13.80v1.95h-13.80zM356.29 902.67h13.80v1.58h-13.80zM373.44 887.01h13.80v1.27h-13.80zM373.44 922.47h13.80v2.03h-13.80zM373.44 935.82h13.80v1.81h-13.80zM390.59 949.15h13.80v1.45h-13.80zM407.73 901.47h13.80v1.63h-13.80zM407.73 910.93h13.80v1.28h-13.80zM407.73 924.27h13.80v1.81h-13.80zM407.73 968.08h13.80v1.25h-13.80zM424.88 756.37h13.80v0.83h-13.80zM424.88 766.28h13.80v2.67h-13.80zM442.02 836.53h13.80v1.73h-13.80zM442.02 847.88h13.80v1.29h-13.80zM442.02 870.96h13.80v0.97h-13.80zM459.17 800.97h13.80v0.86h-13.80zM459.17 856.53h13.80v1.80h-13.80zM459.17 866.57h13.80v1.14h-13.80zM459.17 885.07h13.80v1.91h-13.80zM459.17 900.06h13.80v2.74h-13.80zM476.32 896.17h13.80v2.27h-13.80zM493.46 755.51h13.80v1.66h-13.80zM493.46 800.80h13.80v0.97h-13.80zM493.46 818.02h13.80v1.24h-13.80zM493.46 850.68h13.80v1.29h-13.80zM493.46 867.61h13.80v1.35h-13.80zM510.61 702.28h13.80v1.35h-13.80zM510.61 736.81h13.80v1.38h-13.80zM527.75 758.93h13.80v2.19h-13.80zM527.75 815.49h13.80v2.64h-13.80zM544.90 729.60h13.80v2.12h-13.80zM544.90 785.39h13.80v2.08h-13.80zM544.90 818.79h13.80v2.32h-13.80zM562.05 662.50h13.80v1.03h-13.80zM562.05 666.90h13.80v1.16h-13.80zM562.05 711.47h13.80v1.19h-13.80zM562.05 739.61h13.80v1.34h-13.80zM562.05 752.12h13.80v1.89h-13.80zM562.05 757.74h13.80v0.91h-13.80zM562.05 760.46h13.80v1.15h-13.80zM562.05 766.52h13.80v1.86h-13.80zM562.05 780.06h13.80v2.54h-13.80zM562.05 805.69h13.80v1.61h-13.80zM562.05 836.61h13.80v2.51h-13.80zM562.05 838.77h13.80v2.83h-13.80zM579.19 785.55h13.80v2.73h-13.80zM579.19 808.95h13.80v1.22h-13.80zM579.19 836.63h13.80v1.10h-13.80zM596.34 774.65h13.80v0.91h-13.80zM596.34 817.99h13.80v1.15h-13.80zM596.34 832.02h13.80v1.31h-13.80zM613.48 839.65h13.80v1.20h-13.80zM613.48 843.07h13.80v0.93h-13.80zM630.63 755.77h13.80v2.15h-13.80zM630.63 758.53h13.80v1.25h-13.80zM630.63 771.50h13.80v2.43h-13.80zM630.63 784.53h13.80v2.01h-13.80zM630.63 799.55h13.80v2.60h-13.80zM630.63 805.86h13.80v1.97h-13.80zM647.78 754.36h13.80v1.88h-13.80zM647.78 774.06h13.80v1.22h-13.80zM647.78 778.40h13.80v2.07h-13.80zM647.78 788.23h13.80v2.12h-13.80zM647.78 839.90h13.80v1.80h-13.80zM664.92 747.79h13.80v1.29h-13.80zM664.92 750.02h13.80v1.06h-13.80zM664.92 751.87h13.80v1.20h-13.80zM664.92 766.65h13.80v1.34h-13.80zM664.92 770.07h13.80v1.79h-13.80zM664.92 810.01h13.80v1.76h-13.80zM664.92 813.92h13.80v1.53h-13.80zM682.07 821.45h13.80v0.88h-13.80zM699.21 838.66h13.80v2.67h-13.80zM699.21 868.73h13.80v2.30h-13.80zM699.21 871.09h13.80v1.61h-13.80zM699.21 876.47h13.80v2.30h-13.80zM716.36 658.11h13.80v0.90h-13.80zM716.36 689.58h13.80v1.50h-13.80zM716.36 704.80h13.80v2.07h-13.80zM716.36 760.74h13.80v1.33h-13.80zM716.36 784.90h13.80v1.96h-13.80zM716.36 813.98h13.80v2.69h-13.80zM733.51 811.81h13.80v0.87h-13.80zM733.51 842.43h13.80v1.80h-13.80zM733.51 891.03h13.80v1.06h-13.80zM733.51 897.06h13.80v0.94h-13.80zM750.65 879.57h13.80v1.19h-13.80zM750.65 885.72h13.80v2.54h-13.80zM767.80 700.17h13.80v1.67h-13.80zM767.80 718.74h13.80v1.60h-13.80zM767.80 722.44h13.80v1.79h-13.80zM784.94 728.68h13.80v1.57h-13.80zM802.09 738.27h13.80v1.24h-13.80zM802.09 743.80h13.80v1.30h-13.80zM802.09 783.60h13.80v1.83h-13.80zM802.09 788.98h13.80v0.87h-13.80zM802.09 809.78h13.80v2.61h-13.80zM802.09 827.04h13.80v2.48h-13.80zM802.09 829.66h13.80v2.30h-13.80zM802.09 832.39h13.80v2.24h-13.80zM819.24 764.10h13.80v1.84h-13.80zM819.24 794.40h13.80v1.94h-13.80zM819.24 803.89h13.80v1.89h-13.80zM819.24 814.02h13.80v1.18h-13.80zM819.24 825.06h13.80v1.89h-13.80zM819.24 844.05h13.80v2.24h-13.80zM836.38 828.78h13.80v1.53h-13.80zM853.53 742.41h13.80v1.46h-13.80zM853.53 754.91h13.80v1.13h-13.80zM853.53 774.29h13.80v1.65h-13.80zM853.53 787.60h13.80v1.14h-13.80zM870.67 781.90h13.80v1.05h-13.80zM870.67 789.17h13.80v1.81h-13.80zM870.67 813.95h13.80v1.67h-13.80zM870.67 826.81h13.80v1.31h-13.80zM870.67 852.26h13.80v1.34h-13.80zM887.82 805.44h13.80v1.38h-13.80zM887.82 816.34h13.80v2.25h-13.80zM887.82 825.61h13.80v1.51h-13.80z" fill="#d81820"/>
<path d="M133.40 875.73h13.80v2.13h-13.80zM133.40 881.09h13.80v1.34h-13.80zM150.54 936.24h13.80v1.60h-13.80zM150.54 943.47h13.80v2.68h-13.80zM150.54 953.49h13.80v1.86h-13.80zM167.69 855.46h13.80v1.79h-13.80zM184.83 910.77h13.80v2.27h-13.80zM184.83 917.15h13.80v2.65h-13.80zM219.13 901.03h13.80v2.10h-13.80zM253.42 859.83h13.80v1.07h-13.80zM253.42 871.73h13.80v1.35h-13.80zM270.56 929.78h13.80v2.43h-13.80zM287.71 829.17h13.80v2.18h-13.80zM304.86 871.97h13.80v1.06h-13.80zM322.00 912.54h13.80v2.02h-13.80zM356.29 899.14h13.80v2.20h-13.80zM373.44 926.89h13.80v1.24h-13.80zM390.59 934.67h13.80v2.18h-13.80zM390.59 942.19h13.80v2.59h-13.80zM390.59 946.71h13.80v2.56h-13.80zM424.88 768.85h13.80v1.63h-13.80zM459.17 879.29h13.80v1.61h-13.80zM493.46 838.00h13.80v2.53h-13.80zM493.46 848.34h13.80v2.50h-13.80zM493.46 863.67h13.80v1.09h-13.80zM493.46 871.48h13.80v2.32h-13.80zM510.61 782.38h13.80v1.12h-13.80zM527.75 798.33h13.80v2.58h-13.80zM527.75 812.44h13.80v1.35h-13.80zM527.75 818.26h13.80v1.56h-13.80zM527.75 820.10h13.80v0.90h-13.80zM544.90 793.69h13.80v1.07h-13.80zM544.90 800.55h13.80v2.38h-13.80zM544.90 803.44h13.80v2.00h-13.80zM544.90 807.23h13.80v2.38h-13.80zM544.90 810.82h13.80v2.33h-13.80zM562.05 789.77h13.80v1.84h-13.80zM562.05 798.09h13.80v2.63h-13.80zM562.05 807.99h13.80v2.56h-13.80zM562.05 824.43h13.80v1.44h-13.80zM579.19 789.26h13.80v1.54h-13.80zM579.19 791.80h13.80v1.91h-13.80zM579.19 806.26h13.80v2.55h-13.80zM579.19 828.18h13.80v1.32h-13.80zM596.34 827.95h13.80v2.21h-13.80zM596.34 850.26h13.80v1.74h-13.80zM630.63 768.29h13.80v2.26h-13.80zM630.63 775.53h13.80v1.32h-13.80zM647.78 827.77h13.80v1.79h-13.80zM664.92 804.02h13.80v2.42h-13.80zM682.07 856.47h13.80v1.46h-13.80zM682.07 863.41h13.80v1.58h-13.80zM682.07 879.12h13.80v2.68h-13.80zM699.21 843.65h13.80v1.07h-13.80zM699.21 864.98h13.80v2.00h-13.80zM716.36 774.94h13.80v1.39h-13.80zM716.36 818.54h13.80v1.17h-13.80zM733.51 857.18h13.80v1.21h-13.80zM733.51 877.13h13.80v2.86h-13.80zM750.65 853.28h13.80v1.60h-13.80zM750.65 868.22h13.80v2.05h-13.80zM750.65 883.58h13.80v2.32h-13.80zM784.94 710.72h13.80v2.32h-13.80zM784.94 721.74h13.80v2.66h-13.80zM802.09 807.24h13.80v2.74h-13.80zM802.09 824.44h13.80v1.54h-13.80zM870.67 822.11h13.80v1.47h-13.80zM870.67 837.41h13.80v2.11h-13.80zM887.82 819.44h13.80v1.31h-13.80z" fill="#9a121a"/>
<path d="M133.40 904.81h13.80v1.05h-13.80zM133.40 969.19h13.80v0.56h-13.80zM133.40 977.45h13.80v0.60h-13.80zM184.83 924.44h13.80v0.93h-13.80zM184.83 943.16h13.80v1.24h-13.80zM219.13 923.58h13.80v1.08h-13.80zM219.13 927.23h13.80v0.85h-13.80zM236.27 856.61h13.80v1.42h-13.80zM236.27 865.06h13.80v1.04h-13.80zM236.27 868.02h13.80v1.14h-13.80zM253.42 930.20h13.80v1.07h-13.80zM287.71 866.79h13.80v0.89h-13.80zM287.71 872.72h13.80v1.22h-13.80zM287.71 922.70h13.80v0.84h-13.80zM287.71 943.08h13.80v0.82h-13.80zM287.71 949.91h13.80v0.93h-13.80zM304.86 894.18h13.80v1.33h-13.80zM304.86 900.40h13.80v1.25h-13.80zM304.86 930.43h13.80v0.94h-13.80zM339.15 915.93h13.80v0.98h-13.80zM356.29 934.27h13.80v0.73h-13.80zM373.44 967.11h13.80v0.86h-13.80zM424.88 943.18h13.80v0.81h-13.80zM442.02 930.79h13.80v1.10h-13.80zM442.02 948.92h13.80v0.83h-13.80zM476.32 926.88h13.80v1.43h-13.80zM493.46 888.04h13.80v0.70h-13.80zM510.61 784.56h13.80v0.85h-13.80zM510.61 843.87h13.80v1.47h-13.80zM510.61 876.21h13.80v0.95h-13.80zM510.61 894.55h13.80v1.27h-13.80zM510.61 901.08h13.80v0.76h-13.80zM510.61 929.73h13.80v0.86h-13.80zM527.75 864.40h13.80v1.23h-13.80zM527.75 870.24h13.80v1.50h-13.80zM527.75 906.66h13.80v1.52h-13.80zM527.75 942.84h13.80v0.98h-13.80zM544.90 832.45h13.80v0.80h-13.80zM544.90 860.17h13.80v0.76h-13.80zM544.90 901.84h13.80v0.64h-13.80zM544.90 930.25h13.80v1.00h-13.80zM544.90 953.53h13.80v0.90h-13.80zM562.05 880.83h13.80v0.75h-13.80zM562.05 896.93h13.80v0.91h-13.80zM562.05 921.12h13.80v1.53h-13.80zM579.19 874.02h13.80v1.33h-13.80zM579.19 886.76h13.80v0.57h-13.80zM579.19 912.86h13.80v0.72h-13.80zM579.19 930.15h13.80v0.81h-13.80zM596.34 879.53h13.80v1.03h-13.80zM596.34 892.82h13.80v1.39h-13.80zM596.34 903.33h13.80v0.72h-13.80zM596.34 930.84h13.80v0.71h-13.80zM596.34 937.38h13.80v0.63h-13.80zM596.34 944.16h13.80v1.41h-13.80zM613.48 855.48h13.80v0.97h-13.80zM630.63 822.22h13.80v0.96h-13.80zM630.63 847.72h13.80v1.51h-13.80zM630.63 889.98h13.80v0.93h-13.80zM630.63 896.57h13.80v0.85h-13.80zM630.63 899.83h13.80v1.54h-13.80zM630.63 907.71h13.80v1.34h-13.80zM647.78 865.21h13.80v0.88h-13.80zM647.78 872.96h13.80v1.49h-13.80zM647.78 897.36h13.80v0.86h-13.80zM647.78 936.73h13.80v1.51h-13.80zM647.78 948.59h13.80v1.47h-13.80zM647.78 953.98h13.80v1.25h-13.80zM664.92 829.74h13.80v1.14h-13.80zM664.92 848.43h13.80v1.19h-13.80zM682.07 925.31h13.80v0.97h-13.80zM682.07 946.32h13.80v1.04h-13.80zM682.07 978.64h13.80v0.95h-13.80zM699.21 899.49h13.80v1.17h-13.80zM699.21 926.80h13.80v1.48h-13.80zM716.36 852.74h13.80v0.91h-13.80zM716.36 874.72h13.80v1.06h-13.80zM716.36 900.47h13.80v0.58h-13.80zM716.36 932.46h13.80v1.40h-13.80zM733.51 902.62h13.80v0.73h-13.80zM733.51 944.32h13.80v1.20h-13.80zM767.80 796.75h13.80v1.48h-13.80zM767.80 810.08h13.80v0.65h-13.80zM767.80 855.95h13.80v1.18h-13.80zM767.80 875.53h13.80v1.28h-13.80zM767.80 890.84h13.80v1.38h-13.80zM767.80 942.82h13.80v1.16h-13.80zM784.94 769.87h13.80v1.33h-13.80zM784.94 773.73h13.80v1.43h-13.80zM784.94 830.07h13.80v0.79h-13.80zM784.94 924.48h13.80v0.84h-13.80zM784.94 926.76h13.80v0.57h-13.80zM802.09 865.33h13.80v1.39h-13.80zM802.09 867.21h13.80v0.83h-13.80zM802.09 874.23h13.80v0.73h-13.80zM802.09 905.35h13.80v1.41h-13.80zM802.09 911.45h13.80v1.36h-13.80zM802.09 936.97h13.80v1.22h-13.80zM819.24 907.55h13.80v0.75h-13.80zM819.24 910.67h13.80v0.73h-13.80zM819.24 919.47h13.80v1.29h-13.80zM836.38 834.81h13.80v0.87h-13.80zM836.38 868.38h13.80v1.43h-13.80zM836.38 879.43h13.80v1.04h-13.80zM836.38 924.42h13.80v0.58h-13.80zM836.38 930.64h13.80v1.14h-13.80zM853.53 840.16h13.80v1.51h-13.80zM853.53 843.42h13.80v1.32h-13.80zM853.53 847.89h13.80v1.19h-13.80zM853.53 892.59h13.80v1.34h-13.80zM853.53 903.88h13.80v1.46h-13.80zM870.67 891.23h13.80v0.59h-13.80zM870.67 927.54h13.80v1.53h-13.80zM870.67 947.19h13.80v0.96h-13.80zM887.82 915.68h13.80v1.48h-13.80zM887.82 947.96h13.80v0.94h-13.80zM887.82 950.44h13.80v1.34h-13.80z" fill="#e8e020"/>
<path d="M133.40 934.51h13.80v1.14h-13.80zM133.40 943.02h13.80v1.03h-13.80zM184.83 940.04h13.80v0.59h-13.80zM201.98 942.05h13.80v0.93h-13.80zM219.13 930.02h13.80v0.75h-13.80zM219.13 941.06h13.80v0.64h-13.80zM236.27 870.24h13.80v1.18h-13.80zM253.42 896.40h13.80v0.79h-13.80zM270.56 940.42h13.80v1.23h-13.80zM287.71 852.96h13.80v0.93h-13.80zM287.71 947.12h13.80v0.84h-13.80zM304.86 887.09h13.80v0.81h-13.80zM304.86 889.32h13.80v1.28h-13.80zM304.86 902.67h13.80v1.35h-13.80zM304.86 922.26h13.80v1.11h-13.80zM304.86 941.51h13.80v1.06h-13.80zM322.00 948.94h13.80v1.48h-13.80zM322.00 951.44h13.80v0.92h-13.80zM339.15 937.00h13.80v1.25h-13.80zM356.29 940.55h13.80v1.26h-13.80zM424.88 826.08h13.80v0.99h-13.80zM424.88 847.69h13.80v1.15h-13.80zM424.88 861.81h13.80v0.61h-13.80zM424.88 912.11h13.80v0.61h-13.80zM424.88 915.31h13.80v0.94h-13.80zM424.88 918.41h13.80v0.93h-13.80zM424.88 939.42h13.80v1.35h-13.80zM442.02 917.90h13.80v0.90h-13.80zM442.02 945.20h13.80v1.15h-13.80zM476.32 938.24h13.80v1.32h-13.80zM493.46 878.66h13.80v1.42h-13.80zM493.46 895.76h13.80v1.03h-13.80zM493.46 900.02h13.80v0.56h-13.80zM493.46 907.80h13.80v0.81h-13.80zM493.46 945.36h13.80v1.04h-13.80zM510.61 799.57h13.80v1.17h-13.80zM510.61 814.44h13.80v0.86h-13.80zM510.61 847.47h13.80v0.60h-13.80zM510.61 870.50h13.80v0.84h-13.80zM510.61 953.99h13.80v0.59h-13.80zM527.75 838.28h13.80v1.51h-13.80zM527.75 898.44h13.80v0.65h-13.80zM544.90 893.99h13.80v1.19h-13.80zM544.90 917.20h13.80v1.31h-13.80zM544.90 939.95h13.80v1.18h-13.80zM544.90 942.93h13.80v0.71h-13.80zM562.05 934.46h13.80v0.93h-13.80zM579.19 842.75h13.80v1.15h-13.80zM596.34 928.43h13.80v1.29h-13.80zM596.34 947.41h13.80v1.17h-13.80zM613.48 864.37h13.80v1.26h-13.80zM613.48 871.09h13.80v0.73h-13.80zM613.48 928.17h13.80v0.79h-13.80zM613.48 945.07h13.80v1.18h-13.80zM630.63 809.65h13.80v1.03h-13.80zM630.63 816.52h13.80v0.74h-13.80zM630.63 947.54h13.80v0.76h-13.80zM630.63 949.59h13.80v1.12h-13.80zM664.92 876.46h13.80v0.60h-13.80zM699.21 890.59h13.80v1.42h-13.80zM699.21 916.86h13.80v1.12h-13.80zM699.21 921.26h13.80v0.87h-13.80zM699.21 930.51h13.80v0.92h-13.80zM716.36 843.91h13.80v1.29h-13.80zM716.36 847.58h13.80v0.88h-13.80zM716.36 905.03h13.80v0.70h-13.80zM716.36 949.89h13.80v0.94h-13.80zM750.65 902.79h13.80v0.59h-13.80zM750.65 906.35h13.80v1.31h-13.80zM750.65 937.82h13.80v0.56h-13.80zM767.80 741.63h13.80v0.58h-13.80zM767.80 751.94h13.80v1.20h-13.80zM767.80 790.57h13.80v1.46h-13.80zM767.80 826.30h13.80v1.44h-13.80zM767.80 882.43h13.80v0.90h-13.80zM767.80 884.62h13.80v0.94h-13.80zM767.80 924.70h13.80v1.52h-13.80zM784.94 797.21h13.80v0.86h-13.80zM784.94 858.87h13.80v1.03h-13.80zM784.94 884.78h13.80v0.97h-13.80zM784.94 895.99h13.80v1.20h-13.80zM802.09 926.63h13.80v0.75h-13.80zM819.24 897.76h13.80v1.46h-13.80zM819.24 952.66h13.80v0.61h-13.80zM836.38 838.76h13.80v1.07h-13.80zM836.38 859.48h13.80v1.41h-13.80zM836.38 870.68h13.80v0.96h-13.80zM836.38 916.04h13.80v0.84h-13.80zM836.38 928.34h13.80v0.96h-13.80zM836.38 938.76h13.80v0.85h-13.80zM853.53 805.59h13.80v0.58h-13.80zM853.53 858.59h13.80v1.45h-13.80zM853.53 920.95h13.80v0.70h-13.80zM853.53 935.99h13.80v0.57h-13.80zM870.67 859.10h13.80v0.81h-13.80zM870.67 862.92h13.80v1.26h-13.80zM870.67 936.02h13.80v0.60h-13.80zM887.82 849.43h13.80v0.80h-13.80zM887.82 889.19h13.80v1.32h-13.80zM887.82 907.79h13.80v0.75h-13.80zM887.82 924.39h13.80v0.76h-13.80z" fill="#dcd418"/>
<path d="M133.40 960.88h13.80v0.68h-13.80zM133.40 974.06h13.80v1.08h-13.80zM167.69 906.55h13.80v0.84h-13.80zM167.69 912.03h13.80v0.69h-13.80zM167.69 943.94h13.80v0.97h-13.80zM219.13 935.82h13.80v0.72h-13.80zM236.27 842.37h13.80v0.95h-13.80zM236.27 874.32h13.80v1.29h-13.80zM236.27 878.72h13.80v0.92h-13.80zM236.27 884.93h13.80v1.00h-13.80zM236.27 895.06h13.80v0.63h-13.80zM236.27 921.76h13.80v1.44h-13.80zM236.27 941.17h13.80v0.82h-13.80zM236.27 949.69h13.80v1.54h-13.80zM253.42 911.34h13.80v1.03h-13.80zM253.42 926.40h13.80v0.97h-13.80zM287.71 869.55h13.80v0.58h-13.80zM287.71 890.22h13.80v1.54h-13.80zM287.71 926.59h13.80v1.51h-13.80zM304.86 897.06h13.80v0.89h-13.80zM339.15 923.29h13.80v1.46h-13.80zM356.29 929.88h13.80v0.93h-13.80zM356.29 938.21h13.80v0.86h-13.80zM356.29 950.06h13.80v1.48h-13.80zM424.88 822.60h13.80v0.75h-13.80zM424.88 832.74h13.80v1.34h-13.80zM424.88 838.93h13.80v0.70h-13.80zM424.88 926.81h13.80v1.18h-13.80zM424.88 952.09h13.80v1.43h-13.80zM442.02 923.63h13.80v1.35h-13.80zM442.02 941.51h13.80v1.43h-13.80zM459.17 940.70h13.80v0.74h-13.80zM459.17 951.65h13.80v1.38h-13.80zM476.32 945.39h13.80v1.13h-13.80zM493.46 875.55h13.80v1.10h-13.80zM493.46 925.70h13.80v0.68h-13.80zM510.61 788.48h13.80v1.10h-13.80zM510.61 821.88h13.80v1.50h-13.80zM510.61 862.08h13.80v1.29h-13.80zM510.61 864.93h13.80v1.16h-13.80zM510.61 950.17h13.80v1.20h-13.80zM527.75 822.98h13.80v1.17h-13.80zM527.75 825.84h13.80v1.19h-13.80zM527.75 892.17h13.80v1.29h-13.80zM527.75 933.43h13.80v0.72h-13.80zM527.75 952.72h13.80v0.78h-13.80zM544.90 875.05h13.80v1.46h-13.80zM544.90 946.90h13.80v1.41h-13.80zM562.05 882.80h13.80v1.28h-13.80zM562.05 892.61h13.80v0.64h-13.80zM562.05 925.32h13.80v1.44h-13.80zM579.19 848.95h13.80v0.57h-13.80zM579.19 877.15h13.80v1.25h-13.80zM579.19 910.19h13.80v1.36h-13.80zM579.19 919.62h13.80v0.76h-13.80zM579.19 926.15h13.80v0.93h-13.80zM596.34 855.44h13.80v1.25h-13.80zM596.34 867.35h13.80v0.68h-13.80zM596.34 912.18h13.80v1.03h-13.80zM596.34 949.96h13.80v1.25h-13.80zM613.48 861.88h13.80v0.82h-13.80zM613.48 868.30h13.80v0.92h-13.80zM613.48 890.63h13.80v1.29h-13.80zM613.48 935.47h13.80v0.65h-13.80zM613.48 937.52h13.80v1.19h-13.80zM630.63 839.25h13.80v0.83h-13.80zM630.63 875.56h13.80v1.38h-13.80zM630.63 919.82h13.80v1.26h-13.80zM647.78 868.54h13.80v1.22h-13.80zM647.78 890.07h13.80v1.30h-13.80zM647.78 928.44h13.80v1.41h-13.80zM647.78 934.34h13.80v0.71h-13.80zM647.78 939.34h13.80v1.21h-13.80zM664.92 832.78h13.80v0.92h-13.80zM664.92 948.29h13.80v0.94h-13.80zM664.92 952.04h13.80v1.41h-13.80zM682.07 950.00h13.80v0.76h-13.80zM699.21 950.86h13.80v1.18h-13.80zM716.36 859.38h13.80v1.01h-13.80zM716.36 870.54h13.80v0.99h-13.80zM716.36 881.62h13.80v1.32h-13.80zM716.36 884.35h13.80v1.15h-13.80zM716.36 886.22h13.80v0.66h-13.80zM716.36 910.20h13.80v0.89h-13.80zM716.36 912.35h13.80v0.73h-13.80zM733.51 898.57h13.80v1.49h-13.80zM733.51 954.27h13.80v1.10h-13.80zM750.65 951.11h13.80v1.35h-13.80zM767.80 761.90h13.80v1.35h-13.80zM767.80 768.69h13.80v1.29h-13.80zM767.80 799.68h13.80v1.26h-13.80zM767.80 867.41h13.80v1.18h-13.80zM767.80 888.56h13.80v1.23h-13.80zM767.80 894.31h13.80v1.09h-13.80zM767.80 898.76h13.80v0.64h-13.80zM767.80 902.43h13.80v0.75h-13.80zM767.80 914.30h13.80v0.58h-13.80zM784.94 780.74h13.80v0.78h-13.80zM784.94 856.42h13.80v0.76h-13.80zM784.94 867.74h13.80v1.14h-13.80zM784.94 876.70h13.80v0.96h-13.80zM784.94 936.47h13.80v1.14h-13.80zM802.09 884.42h13.80v1.37h-13.80zM819.24 945.11h13.80v1.52h-13.80zM836.38 852.47h13.80v0.80h-13.80zM836.38 866.04h13.80v1.21h-13.80zM836.38 877.40h13.80v1.00h-13.80zM836.38 887.21h13.80v1.11h-13.80zM836.38 936.70h13.80v1.15h-13.80zM853.53 813.00h13.80v1.31h-13.80zM853.53 817.01h13.80v0.80h-13.80zM853.53 819.92h13.80v1.39h-13.80zM853.53 862.81h13.80v1.28h-13.80zM853.53 864.78h13.80v1.29h-13.80zM853.53 873.20h13.80v1.26h-13.80zM853.53 906.71h13.80v0.92h-13.80zM853.53 946.45h13.80v0.90h-13.80zM853.53 949.71h13.80v1.44h-13.80zM870.67 854.74h13.80v1.37h-13.80zM870.67 883.48h13.80v0.88h-13.80zM870.67 899.82h13.80v1.37h-13.80zM870.67 902.44h13.80v1.19h-13.80zM870.67 944.38h13.80v1.47h-13.80zM887.82 847.53h13.80v0.85h-13.80zM887.82 851.37h13.80v1.11h-13.80zM887.82 855.86h13.80v1.49h-13.80zM887.82 862.92h13.80v0.65h-13.80zM887.82 870.02h13.80v1.10h-13.80zM887.82 872.27h13.80v0.76h-13.80z" fill="#d0c818"/>
<path d="M133.40 985.95h13.80v1.09h-13.80z" fill="#b0b0b0"/>
<path d="M150.54 623.60h13.80v1.59h-13.80zM150.54 626.65h13.80v1.35h-13.80zM184.83 592.73h13.80v1.27h-13.80zM236.27 624.21h13.80v1.57h-13.80zM236.27 627.52h13.80v1.57h-13.80zM270.56 666.46h13.80v1.17h-13.80zM270.56 669.22h13.80v1.62h-13.80zM287.71 604.32h13.80v1.53h-13.80zM287.71 608.12h13.80v1.43h-13.80zM304.86 595.83h13.80v0.96h-13.80zM339.15 586.84h13.80v0.96h-13.80zM390.59 561.86h13.80v2.05h-13.80zM424.88 724.02h13.80v1.11h-13.80zM459.17 627.04h13.80v1.17h-13.80zM476.32 654.41h13.80v0.84h-13.80zM527.75 725.00h13.80v1.53h-13.80zM647.78 678.84h13.80v1.23h-13.80zM682.07 745.76h13.80v0.94h-13.80zM750.65 714.09h13.80v0.98h-13.80zM767.80 646.92h13.80v0.83h-13.80zM819.24 665.44h13.80v1.24h-13.80zM819.24 672.30h13.80v2.05h-13.80zM836.38 713.30h13.80v1.43h-13.80zM853.53 681.89h13.80v2.14h-13.80zM853.53 684.42h13.80v1.53h-13.80z" fill="#e2a6ae"/>
<path d="M150.54 964.52h13.80v1.75h-13.80zM150.54 966.74h13.80v1.32h-13.80zM150.54 973.59h13.80v2.03h-13.80zM167.69 985.00h13.80v0.92h-13.80zM167.69 987.10h13.80v1.22h-13.80zM184.83 979.48h13.80v0.88h-13.80zM219.13 968.80h13.80v1.10h-13.80zM253.42 983.58h13.80v2.15h-13.80zM270.56 978.78h13.80v1.36h-13.80zM304.86 965.57h13.80v1.31h-13.80zM339.15 976.44h13.80v1.05h-13.80zM339.15 980.27h13.80v1.69h-13.80zM356.29 957.07h13.80v1.13h-13.80zM356.29 971.88h13.80v2.17h-13.80zM356.29 974.66h13.80v1.07h-13.80zM390.59 975.74h13.80v1.53h-13.80zM407.73 977.85h13.80v1.39h-13.80zM407.73 983.82h13.80v1.56h-13.80zM407.73 986.12h13.80v1.93h-13.80zM442.02 979.91h13.80v1.73h-13.80zM459.17 984.25h13.80v1.82h-13.80zM510.61 975.46h13.80v2.03h-13.80zM527.75 971.65h13.80v0.88h-13.80zM544.90 978.14h13.80v2.18h-13.80zM544.90 980.71h13.80v1.03h-13.80zM596.34 963.37h13.80v1.36h-13.80zM596.34 976.38h13.80v1.82h-13.80zM596.34 982.57h13.80v1.31h-13.80zM630.63 965.26h13.80v1.23h-13.80zM630.63 985.90h13.80v1.80h-13.80zM647.78 980.16h13.80v1.62h-13.80zM716.36 962.16h13.80v1.43h-13.80zM716.36 971.77h13.80v1.17h-13.80zM733.51 967.83h13.80v1.02h-13.80zM733.51 987.06h13.80v1.44h-13.80zM750.65 984.05h13.80v2.13h-13.80zM767.80 983.28h13.80v1.30h-13.80zM784.94 974.91h13.80v1.08h-13.80zM802.09 972.87h13.80v2.03h-13.80zM819.24 985.67h13.80v1.69h-13.80zM836.38 985.30h13.80v1.48h-13.80zM853.53 975.74h13.80v0.97h-13.80zM870.67 978.22h13.80v1.15h-13.80zM887.82 962.10h13.80v1.51h-13.80z" fill="#c8c020"/>
<path d="M150.54 976.95h13.80v1.25h-13.80zM167.69 957.96h13.80v2.03h-13.80zM184.83 959.80h13.80v2.18h-13.80zM184.83 976.39h13.80v1.88h-13.80zM201.98 985.15h13.80v0.93h-13.80zM236.27 984.64h13.80v2.12h-13.80zM253.42 971.93h13.80v0.90h-13.80zM253.42 978.15h13.80v2.06h-13.80zM253.42 987.41h13.80v1.09h-13.80zM270.56 987.38h13.80v1.12h-13.80zM304.86 982.34h13.80v1.95h-13.80zM322.00 984.00h13.80v1.90h-13.80zM339.15 970.13h13.80v1.17h-13.80zM339.15 986.38h13.80v1.53h-13.80zM356.29 962.36h13.80v1.94h-13.80zM356.29 981.32h13.80v1.96h-13.80zM356.29 985.67h13.80v2.00h-13.80zM390.59 980.01h13.80v0.99h-13.80zM390.59 985.72h13.80v1.05h-13.80zM424.88 963.90h13.80v1.57h-13.80zM424.88 983.44h13.80v1.08h-13.80zM424.88 986.58h13.80v1.92h-13.80zM476.32 955.87h13.80v2.17h-13.80zM493.46 979.89h13.80v1.93h-13.80zM510.61 982.57h13.80v0.89h-13.80zM562.05 961.87h13.80v1.93h-13.80zM562.05 986.22h13.80v1.06h-13.80zM596.34 967.19h13.80v1.46h-13.80zM596.34 985.30h13.80v1.12h-13.80zM613.48 978.84h13.80v2.20h-13.80zM630.63 961.26h13.80v1.09h-13.80zM630.63 971.90h13.80v1.79h-13.80zM630.63 980.07h13.80v1.88h-13.80zM647.78 960.40h13.80v0.93h-13.80zM647.78 962.62h13.80v0.94h-13.80zM664.92 964.29h13.80v1.64h-13.80zM699.21 982.02h13.80v1.92h-13.80zM716.36 968.51h13.80v1.17h-13.80zM733.51 964.20h13.80v1.22h-13.80zM733.51 970.72h13.80v2.13h-13.80zM767.80 962.64h13.80v1.98h-13.80zM784.94 961.93h13.80v1.68h-13.80zM784.94 981.88h13.80v0.97h-13.80zM836.38 981.05h13.80v1.31h-13.80zM870.67 962.04h13.80v1.19h-13.80zM870.67 981.72h13.80v2.12h-13.80zM887.82 956.32h13.80v2.14h-13.80zM887.82 976.51h13.80v1.87h-13.80z" fill="#a8a030"/>
<path d="M150.54 984.09h13.80v0.90h-13.80zM167.69 966.55h13.80v1.22h-13.80zM184.83 987.22h13.80v1.28h-13.80zM201.98 979.10h13.80v1.76h-13.80zM219.13 958.19h13.80v1.93h-13.80zM219.13 964.71h13.80v1.56h-13.80zM219.13 977.20h13.80v1.99h-13.80zM219.13 980.44h13.80v0.88h-13.80zM287.71 968.73h13.80v1.71h-13.80zM287.71 972.95h13.80v1.19h-13.80zM287.71 977.27h13.80v1.03h-13.80zM304.86 984.99h13.80v1.25h-13.80zM304.86 987.62h13.80v0.88h-13.80zM322.00 974.89h13.80v1.11h-13.80zM322.00 977.94h13.80v1.65h-13.80zM322.00 981.46h13.80v1.93h-13.80zM339.15 958.37h13.80v1.68h-13.80zM339.15 965.52h13.80v1.01h-13.80zM339.15 974.27h13.80v1.85h-13.80zM356.29 960.37h13.80v2.04h-13.80zM390.59 969.62h13.80v1.60h-13.80zM390.59 982.65h13.80v1.15h-13.80zM407.73 979.78h13.80v1.18h-13.80zM442.02 984.66h13.80v1.99h-13.80zM476.32 963.49h13.80v2.11h-13.80zM493.46 968.32h13.80v1.09h-13.80zM493.46 974.83h13.80v1.27h-13.80zM544.90 983.41h13.80v1.49h-13.80zM579.19 963.24h13.80v1.20h-13.80zM579.19 972.96h13.80v2.16h-13.80zM579.19 978.20h13.80v1.19h-13.80zM630.63 974.44h13.80v1.43h-13.80zM647.78 982.78h13.80v1.94h-13.80zM699.21 973.04h13.80v1.60h-13.80zM716.36 965.07h13.80v1.66h-13.80zM716.36 975.06h13.80v1.89h-13.80zM750.65 974.12h13.80v1.82h-13.80zM767.80 975.94h13.80v1.94h-13.80zM767.80 977.99h13.80v1.24h-13.80zM784.94 965.53h13.80v1.01h-13.80zM784.94 985.58h13.80v1.17h-13.80zM802.09 965.39h13.80v1.95h-13.80zM819.24 973.64h13.80v2.01h-13.80zM887.82 980.74h13.80v2.07h-13.80zM887.82 985.85h13.80v1.48h-13.80z" fill="#8a8628"/>
<path d="M167.69 576.07h13.80v1.09h-13.80zM167.69 599.79h13.80v2.11h-13.80zM201.98 579.86h13.80v1.06h-13.80zM201.98 583.71h13.80v0.88h-13.80zM236.27 572.72h13.80v1.08h-13.80zM236.27 602.80h13.80v0.96h-13.80zM253.42 570.77h13.80v1.48h-13.80zM270.56 650.42h13.80v1.81h-13.80zM287.71 576.59h13.80v1.96h-13.80zM304.86 556.49h13.80v0.95h-13.80zM304.86 560.59h13.80v1.30h-13.80zM322.00 548.20h13.80v2.08h-13.80zM390.59 533.34h13.80v1.44h-13.80zM424.88 638.61h13.80v1.59h-13.80zM442.02 595.08h13.80v0.93h-13.80zM459.17 600.48h13.80v1.30h-13.80zM459.17 618.83h13.80v1.22h-13.80zM493.46 646.12h13.80v2.18h-13.80zM493.46 652.32h13.80v1.13h-13.80zM493.46 692.09h13.80v1.96h-13.80zM493.46 694.56h13.80v1.78h-13.80zM493.46 712.86h13.80v1.82h-13.80zM510.61 607.15h13.80v1.53h-13.80zM510.61 609.42h13.80v1.36h-13.80zM510.61 645.61h13.80v2.00h-13.80zM527.75 634.43h13.80v1.07h-13.80zM544.90 645.79h13.80v2.03h-13.80zM562.05 615.41h13.80v0.92h-13.80zM579.19 611.93h13.80v1.00h-13.80zM613.48 626.37h13.80v1.02h-13.80zM613.48 678.25h13.80v1.48h-13.80zM630.63 592.20h13.80v1.21h-13.80zM647.78 661.95h13.80v2.00h-13.80zM682.07 666.24h13.80v2.19h-13.80zM699.21 651.16h13.80v1.77h-13.80zM699.21 678.40h13.80v2.11h-13.80zM716.36 617.98h13.80v1.00h-13.80zM716.36 623.05h13.80v0.98h-13.80zM733.51 653.60h13.80v1.29h-13.80zM750.65 654.63h13.80v1.84h-13.80zM750.65 671.83h13.80v1.06h-13.80zM750.65 681.36h13.80v1.92h-13.80zM767.80 640.95h13.80v1.37h-13.80zM802.09 628.10h13.80v1.37h-13.80zM819.24 624.22h13.80v1.71h-13.80zM819.24 652.48h13.80v2.04h-13.80zM836.38 696.53h13.80v1.85h-13.80zM853.53 635.70h13.80v1.10h-13.80zM853.53 669.28h13.80v1.00h-13.80zM870.67 643.45h13.80v1.74h-13.80zM870.67 666.81h13.80v1.35h-13.80zM887.82 619.14h13.80v1.87h-13.80zM887.82 636.68h13.80v1.62h-13.80zM887.82 645.18h13.80v1.55h-13.80z" fill="#1a2062"/>
<path d="M184.83 486.29h13.80v1.35h-13.80zM253.42 493.16h13.80v1.72h-13.80zM356.29 481.18h13.80v2.03h-13.80zM407.73 483.34h13.80v0.87h-13.80zM407.73 486.15h13.80v1.60h-13.80zM442.02 496.61h13.80v1.45h-13.80zM476.32 488.07h13.80v1.52h-13.80zM476.32 517.55h13.80v1.55h-13.80zM527.75 486.34h13.80v1.16h-13.80zM544.90 478.74h13.80v1.60h-13.80zM544.90 491.09h13.80v1.58h-13.80zM562.05 487.32h13.80v0.88h-13.80zM579.19 503.05h13.80v1.61h-13.80zM647.78 478.09h13.80v1.71h-13.80zM664.92 488.90h13.80v2.01h-13.80zM682.07 489.69h13.80v1.57h-13.80zM682.07 506.89h13.80v2.12h-13.80zM699.21 496.30h13.80v2.07h-13.80zM733.51 484.49h13.80v0.81h-13.80zM802.09 479.36h13.80v1.25h-13.80zM819.24 484.90h13.80v1.12h-13.80zM836.38 482.19h13.80v1.72h-13.80zM870.67 478.55h13.80v1.69h-13.80zM870.67 491.60h13.80v0.91h-13.80zM887.82 486.59h13.80v0.83h-13.80z" fill="#6c1242"/>
<path d="M184.83 579.70h13.80v2.20h-13.80zM184.83 582.76h13.80v1.07h-13.80zM184.83 587.20h13.80v0.83h-13.80zM253.42 608.40h13.80v1.91h-13.80zM253.42 610.46h13.80v2.06h-13.80zM253.42 614.03h13.80v1.09h-13.80zM287.71 611.66h13.80v2.12h-13.80zM304.86 600.14h13.80v0.86h-13.80zM322.00 561.55h13.80v1.40h-13.80zM322.00 564.18h13.80v2.18h-13.80zM322.00 569.48h13.80v0.86h-13.80zM339.15 594.63h13.80v1.13h-13.80zM356.29 563.51h13.80v2.13h-13.80zM356.29 567.06h13.80v1.73h-13.80zM373.44 559.21h13.80v1.40h-13.80zM407.73 570.14h13.80v1.43h-13.80zM407.73 573.78h13.80v1.14h-13.80zM716.36 634.96h13.80v1.32h-13.80zM733.51 716.77h13.80v1.00h-13.80zM750.65 711.92h13.80v1.67h-13.80zM750.65 718.15h13.80v1.85h-13.80zM750.65 720.97h13.80v1.86h-13.80zM784.94 611.07h13.80v0.91h-13.80zM802.09 666.23h13.80v2.06h-13.80zM802.09 676.30h13.80v1.70h-13.80zM819.24 668.22h13.80v1.58h-13.80zM836.38 705.49h13.80v1.31h-13.80zM853.53 674.41h13.80v1.53h-13.80zM853.53 678.89h13.80v1.56h-13.80z" fill="#b88a90"/>
<path d="M201.98 866.96h13.80v1.04h-13.80zM219.13 843.49h13.80v1.01h-13.80zM476.32 787.33h13.80v1.99h-13.80zM544.90 711.74h13.80v1.38h-13.80zM544.90 715.85h13.80v0.93h-13.80zM562.05 653.32h13.80v1.11h-13.80zM664.92 735.25h13.80v2.12h-13.80zM733.51 742.23h13.80v0.81h-13.80z" fill="#30a8b8"/>
<path d="M219.13 494.18h13.80v1.00h-13.80zM424.88 482.39h13.80v1.00h-13.80zM459.17 499.73h13.80v1.71h-13.80zM613.48 518.39h13.80v1.43h-13.80zM682.07 517.69h13.80v0.96h-13.80z" fill="#c81870"/>
<path d="M219.13 590.13h13.80v1.22h-13.80zM236.27 630.11h13.80v1.61h-13.80zM253.42 601.77h13.80v1.89h-13.80zM270.56 671.37h13.80v2.04h-13.80zM322.00 566.17h13.80v2.12h-13.80zM339.15 589.35h13.80v1.39h-13.80zM339.15 592.39h13.80v0.91h-13.80zM390.59 558.02h13.80v1.09h-13.80zM407.73 559.81h13.80v2.08h-13.80zM407.73 562.02h13.80v1.74h-13.80zM407.73 565.39h13.80v1.33h-13.80zM459.17 625.09h13.80v1.77h-13.80zM544.90 671.87h13.80v0.86h-13.80zM613.48 686.68h13.80v0.93h-13.80zM647.78 675.84h13.80v1.99h-13.80zM682.07 738.93h13.80v1.03h-13.80zM682.07 743.66h13.80v1.59h-13.80zM699.21 716.88h13.80v1.82h-13.80zM699.21 719.76h13.80v2.14h-13.80zM733.51 712.46h13.80v1.39h-13.80zM733.51 714.46h13.80v0.94h-13.80zM767.80 648.93h13.80v1.28h-13.80zM836.38 709.49h13.80v0.84h-13.80zM870.67 673.46h13.80v1.79h-13.80z" fill="#a27a80"/>
<path d="M219.13 987.45h13.80v1.05h-13.80zM236.27 960.13h13.80v1.51h-13.80zM236.27 982.72h13.80v2.01h-13.80zM270.56 972.09h13.80v1.03h-13.80zM270.56 974.89h13.80v0.92h-13.80zM270.56 984.22h13.80v1.37h-13.80zM322.00 961.13h13.80v1.56h-13.80zM339.15 956.06h13.80v1.01h-13.80zM339.15 961.84h13.80v1.55h-13.80zM424.88 961.79h13.80v1.54h-13.80zM459.17 958.94h13.80v1.42h-13.80zM476.32 987.18h13.80v1.32h-13.80zM493.46 977.18h13.80v0.92h-13.80zM493.46 987.27h13.80v1.18h-13.80zM527.75 983.22h13.80v1.48h-13.80zM544.90 973.93h13.80v1.81h-13.80zM596.34 972.22h13.80v1.68h-13.80zM613.48 966.51h13.80v0.80h-13.80zM613.48 972.19h13.80v1.01h-13.80zM613.48 982.23h13.80v0.93h-13.80zM664.92 982.17h13.80v2.08h-13.80zM664.92 986.42h13.80v2.08h-13.80zM699.21 962.03h13.80v1.39h-13.80zM716.36 983.60h13.80v1.14h-13.80zM733.51 974.53h13.80v2.07h-13.80zM733.51 983.71h13.80v1.88h-13.80zM767.80 965.34h13.80v1.87h-13.80zM802.09 957.13h13.80v1.35h-13.80zM802.09 969.03h13.80v1.17h-13.80zM853.53 957.12h13.80v1.33h-13.80zM887.82 970.83h13.80v1.16h-13.80zM887.82 983.63h13.80v1.50h-13.80z" fill="#d8d020"/>
<path d="M270.56 889.10h13.80v1.50h-13.80zM304.86 804.39h13.80v1.78h-13.80zM304.86 806.26h13.80v0.92h-13.80zM322.00 862.19h13.80v1.42h-13.80zM356.29 860.95h13.80v1.05h-13.80zM527.75 753.65h13.80v0.80h-13.80zM682.07 795.03h13.80v1.21h-13.80zM682.07 799.42h13.80v1.47h-13.80zM682.07 804.21h13.80v0.82h-13.80zM699.21 747.78h13.80v1.45h-13.80zM699.21 750.75h13.80v1.25h-13.80zM802.09 725.57h13.80v2.07h-13.80zM819.24 760.38h13.80v0.94h-13.80z" fill="#5a4a98"/>
<path d="M304.86 605.28h13.80v1.81h-13.80zM356.29 574.31h13.80v1.46h-13.80zM356.29 584.37h13.80v1.29h-13.80zM596.34 666.08h13.80v1.49h-13.80zM596.34 669.55h13.80v1.45h-13.80zM733.51 718.72h13.80v0.86h-13.80z" fill="#8a3a90"/>
<path d="M390.59 491.30h13.80v1.70h-13.80zM407.73 491.68h13.80v1.08h-13.80zM699.21 519.88h13.80v1.12h-13.80zM802.09 492.46h13.80v1.48h-13.80zM802.09 494.75h13.80v1.58h-13.80z" fill="#f040a0"/>
<path d="M424.88 781.35h13.80v1.56h-13.80zM424.88 788.09h13.80v1.86h-13.80zM424.88 790.87h13.80v2.15h-13.80zM424.88 795.11h13.80v1.07h-13.80zM424.88 801.02h13.80v0.98h-13.80z" fill="#6a0c10"/>
<path d="M682.07 783.95h13.80v1.90h-13.80zM682.07 787.82h13.80v1.55h-13.80z" fill="#60b060"/>
<defs><linearGradient id="olive" gradientUnits="userSpaceOnUse" x1="0" y1="958.5" x2="0" y2="988.5"><stop offset="0" stop-color="#787014" stop-opacity="0"/><stop offset="0.45" stop-color="#807818" stop-opacity="0.3"/><stop offset="0.8" stop-color="#6a6418" stop-opacity="0.62"/><stop offset="1" stop-color="#3a360c" stop-opacity="0.85"/></linearGradient></defs>
<path d="M116.25 976.00h13.80v12.50h-13.80zM150.54 958.50h13.80v30.00h-13.80zM167.69 958.50h13.80v30.00h-13.80zM184.83 958.50h13.80v30.00h-13.80zM201.98 958.50h13.80v30.00h-13.80zM219.13 958.50h13.80v30.00h-13.80zM236.27 958.50h13.80v30.00h-13.80zM253.42 958.50h13.80v30.00h-13.80zM270.56 958.50h13.80v30.00h-13.80zM287.71 958.50h13.80v30.00h-13.80zM304.86 958.50h13.80v30.00h-13.80zM322.00 958.50h13.80v30.00h-13.80zM339.15 958.50h13.80v30.00h-13.80zM356.29 958.50h13.80v30.00h-13.80zM390.59 958.50h13.80v30.00h-13.80zM407.73 972.00h13.80v16.50h-13.80zM424.88 958.50h13.80v30.00h-13.80zM442.02 958.50h13.80v30.00h-13.80zM459.17 958.50h13.80v30.00h-13.80zM476.32 958.50h13.80v30.00h-13.80zM493.46 958.50h13.80v30.00h-13.80zM510.61 958.50h13.80v30.00h-13.80zM527.75 958.50h13.80v30.00h-13.80zM544.90 958.50h13.80v30.00h-13.80zM562.05 958.50h13.80v30.00h-13.80zM579.19 958.50h13.80v30.00h-13.80zM596.34 958.50h13.80v30.00h-13.80zM613.48 958.50h13.80v30.00h-13.80zM630.63 958.50h13.80v30.00h-13.80zM647.78 958.50h13.80v30.00h-13.80zM664.92 958.50h13.80v30.00h-13.80zM699.21 958.50h13.80v30.00h-13.80zM716.36 958.50h13.80v30.00h-13.80zM733.51 958.50h13.80v30.00h-13.80zM750.65 958.50h13.80v30.00h-13.80zM767.80 958.50h13.80v30.00h-13.80zM784.94 958.50h13.80v30.00h-13.80zM802.09 958.50h13.80v30.00h-13.80zM819.24 958.50h13.80v30.00h-13.80zM836.38 958.50h13.80v30.00h-13.80zM853.53 958.50h13.80v30.00h-13.80zM870.67 958.50h13.80v30.00h-13.80zM887.82 958.50h13.80v30.00h-13.80z" fill="url(#olive)"/>
<defs><linearGradient id="redg" x1="0" y1="0" x2="0" y2="1"><stop offset="0" stop-color="#600810" stop-opacity="0"/><stop offset="0.6" stop-color="#600810" stop-opacity="0.25"/><stop offset="1" stop-color="#500810" stop-opacity="0.5"/></linearGradient></defs>
<rect x="116.25" y="953.50" width="13.80" height="22.50" fill="url(#redg)"/><rect x="133.40" y="864.85" width="13.80" height="39.15" fill="url(#redg)"/><rect x="150.54" y="923.81" width="13.80" height="32.98" fill="url(#redg)"/><rect x="167.69" y="836.02" width="13.80" height="69.98" fill="url(#redg)"/><rect x="184.83" y="883.89" width="13.80" height="35.91" fill="url(#redg)"/><rect x="201.98" y="901.83" width="13.80" height="27.68" fill="url(#redg)"/><rect x="219.13" y="886.02" width="13.80" height="33.98" fill="url(#redg)"/><rect x="236.27" y="819.05" width="13.80" height="13.95" fill="url(#redg)"/><rect x="253.42" y="835.35" width="13.80" height="43.65" fill="url(#redg)"/><rect x="270.56" y="915.02" width="13.80" height="19.98" fill="url(#redg)"/><rect x="287.71" y="817.20" width="13.80" height="28.80" fill="url(#redg)"/><rect x="304.86" y="850.90" width="13.80" height="35.10" fill="url(#redg)"/><rect x="322.00" y="895.90" width="13.80" height="26.10" fill="url(#redg)"/><rect x="339.15" y="865.35" width="13.80" height="34.65" fill="url(#redg)"/><rect x="356.29" y="893.90" width="13.80" height="26.10" fill="url(#redg)"/><rect x="373.44" y="918.68" width="13.80" height="43.92" fill="url(#redg)"/><rect x="390.59" y="930.75" width="13.80" height="20.25" fill="url(#redg)"/><rect x="407.73" y="940.05" width="13.80" height="31.95" fill="url(#redg)"/><rect x="424.88" y="763.17" width="13.80" height="16.83" fill="url(#redg)"/><rect x="442.02" y="871.15" width="13.80" height="41.85" fill="url(#redg)"/><rect x="459.17" y="858.90" width="13.80" height="53.10" fill="url(#redg)"/><rect x="476.32" y="854.70" width="13.80" height="51.30" fill="url(#redg)"/><rect x="493.46" y="810.20" width="13.80" height="64.80" fill="url(#redg)"/><rect x="510.61" y="745.02" width="13.80" height="38.48" fill="url(#redg)"/><rect x="527.75" y="791.75" width="13.80" height="29.25" fill="url(#redg)"/><rect x="544.90" y="774.75" width="13.80" height="47.25" fill="url(#redg)"/><rect x="562.05" y="758.95" width="13.80" height="85.05" fill="url(#redg)"/><rect x="579.19" y="774.30" width="13.80" height="65.70" fill="url(#redg)"/><rect x="596.34" y="794.85" width="13.80" height="57.15" fill="url(#redg)"/><rect x="613.48" y="782.58" width="13.80" height="61.43" fill="url(#redg)"/><rect x="630.63" y="755.45" width="13.80" height="53.55" fill="url(#redg)"/><rect x="647.78" y="805.40" width="13.80" height="48.20" fill="url(#redg)"/><rect x="664.92" y="787.95" width="13.80" height="40.05" fill="url(#redg)"/><rect x="682.07" y="850.77" width="13.80" height="36.23" fill="url(#redg)"/><rect x="699.21" y="824.05" width="13.80" height="58.95" fill="url(#redg)"/><rect x="716.36" y="752.25" width="13.80" height="87.75" fill="url(#redg)"/><rect x="733.51" y="830.05" width="13.80" height="67.95" fill="url(#redg)"/><rect x="750.65" y="833.78" width="13.80" height="68.22" fill="url(#redg)"/><rect x="767.80" y="705.12" width="13.80" height="29.88" fill="url(#redg)"/><rect x="784.94" y="687.12" width="13.80" height="43.88" fill="url(#redg)"/><rect x="802.09" y="795.15" width="13.80" height="50.85" fill="url(#redg)"/><rect x="819.24" y="811.30" width="13.80" height="38.70" fill="url(#redg)"/><rect x="836.38" y="796.22" width="13.80" height="34.78" fill="url(#redg)"/><rect x="853.53" y="759.88" width="13.80" height="35.41" fill="url(#redg)"/><rect x="870.67" y="808.78" width="13.80" height="44.82" fill="url(#redg)"/><rect x="887.82" y="798.57" width="13.80" height="47.43" fill="url(#redg)"/>
<path d="M84.1 478 H98.4 V988.3 H84.1 M84.1 580.1 H98.4 M84.1 682.2 H98.4 M84.1 784.2 H98.4 M84.1 886.3 H98.4" fill="none" stroke="#111" stroke-width="1.5"/>
<text x="38.8" y="488.2" font-size="16" textLength="33.2" lengthAdjust="spacingAndGlyphs" fill="#111" stroke="#111" stroke-width="0.35">1.0</text>
<text x="38.8" y="586.8" font-size="16" textLength="33.2" lengthAdjust="spacingAndGlyphs" fill="#111" stroke="#111" stroke-width="0.35">0.8</text>
<text x="38.8" y="688.8" font-size="16" textLength="33.2" lengthAdjust="spacingAndGlyphs" fill="#111" stroke="#111" stroke-width="0.35">0.6</text>
<text x="38.8" y="791.0999999999999" font-size="16" textLength="33.2" lengthAdjust="spacingAndGlyphs" fill="#111" stroke="#111" stroke-width="0.35">0.4</text>
<text x="38.8" y="893.0999999999999" font-size="16" textLength="33.2" lengthAdjust="spacingAndGlyphs" fill="#111" stroke="#111" stroke-width="0.35">0.2</text>
<text x="38.8" y="994.0999999999999" font-size="16" textLength="33.2" lengthAdjust="spacingAndGlyphs" fill="#111" stroke="#111" stroke-width="0.35">0.0</text>
<text transform="translate(21,765) rotate(-90)" font-size="15" textLength="163" lengthAdjust="spacingAndGlyphs" fill="#111" stroke="#111" stroke-width="0.25">Relative abundance</text>
<rect x="44.4" y="1030.10" width="10.3" height="10.4" fill="#ec1a8a"/>
<text x="65.8" y="1041.30" font-size="17.5" textLength="98" lengthAdjust="spacingAndGlyphs" fill="#111" stroke="#111" stroke-width="0.3">Verrucomicrobia</text>
<rect x="44.4" y="1054.30" width="10.3" height="10.4" fill="#2e4aa6"/>
<text x="65.8" y="1065.50" font-size="17.5" textLength="96" lengthAdjust="spacingAndGlyphs" fill="#111" stroke="#111" stroke-width="0.3">Proteobacteria</text>
<rect x="44.4" y="1078.50" width="10.3" height="10.4" fill="#f6b7cb"/>
<text x="65.8" y="1089.70" font-size="17.5" textLength="95" lengthAdjust="spacingAndGlyphs" fill="#111" stroke="#111" stroke-width="0.3">Planctomycetes</text>
<rect x="44.4" y="1102.70" width="10.3" height="10.4" fill="#c48a94"/>
<text x="65.8" y="1113.90" font-size="17.5" textLength="122" lengthAdjust="spacingAndGlyphs" fill="#111" stroke="#111" stroke-width="0.3">Gemmatimonadetes</text>
<rect x="44.4" y="1126.90" width="10.3" height="10.4" fill="#b44aa8"/>
<text x="65.8" y="1138.10" font-size="17.5" textLength="62" lengthAdjust="spacingAndGlyphs" fill="#111" stroke="#111" stroke-width="0.3">Firmicutes</text>
<rect x="44.4" y="1151.10" width="10.3" height="10.4" fill="#8fcc8a"/>
<text x="65.8" y="1162.30" font-size="17.5" textLength="86" lengthAdjust="spacingAndGlyphs" fill="#111" stroke="#111" stroke-width="0.3">Cyanobacteria</text>
<rect x="44.4" y="1175.30" width="10.3" height="10.4" fill="#5bc8e6"/>
<text x="65.8" y="1186.50" font-size="17.5" textLength="65" lengthAdjust="spacingAndGlyphs" fill="#111" stroke="#111" stroke-width="0.3">Chloroflexi</text>
<rect x="44.4" y="1199.50" width="10.3" height="10.4" fill="#6f4aa6"/>
<text x="65.8" y="1210.70" font-size="17.5" textLength="52" lengthAdjust="spacingAndGlyphs" fill="#111" stroke="#111" stroke-width="0.3">Chlorobi</text>
<rect x="44.4" y="1223.70" width="10.3" height="10.4" fill="#7f1418"/>
<text x="65.8" y="1234.90" font-size="17.5" textLength="82" lengthAdjust="spacingAndGlyphs" fill="#111" stroke="#111" stroke-width="0.3">Bacteroidetes</text>
<rect x="44.4" y="1247.90" width="10.3" height="10.4" fill="#f7941e"/>
<text x="65.8" y="1259.10" font-size="17.5" textLength="107" lengthAdjust="spacingAndGlyphs" fill="#111" stroke="#111" stroke-width="0.3">Armatimonadetes</text>
<rect x="44.4" y="1272.10" width="10.3" height="10.4" fill="#f6ec13"/>
<text x="65.8" y="1283.30" font-size="17.5" textLength="88" lengthAdjust="spacingAndGlyphs" fill="#111" stroke="#111" stroke-width="0.3">Actinobacteria</text>
<rect x="44.4" y="1296.30" width="10.3" height="10.4" fill="#d4d4d8"/>
<text x="65.8" y="1307.50" font-size="17.5" textLength="82" lengthAdjust="spacingAndGlyphs" fill="#111" stroke="#111" stroke-width="0.3">Acidobacteria</text>
<text transform="translate(29,1242) rotate(-90)" font-size="19" textLength="180" lengthAdjust="spacingAndGlyphs" fill="#111" stroke="#111" stroke-width="0.4" word-spacing="-3">Ordered from top to bottom</text>
<text x="205.8" y="1034.8" font-size="14.8" font-weight="bold" stroke="#111" stroke-width="0.25" textLength="12.0" lengthAdjust="spacingAndGlyphs" fill="#111">C</text>
<g fill="#8a1212" stroke="#220505" stroke-width="1.05"><circle cx="296.3" cy="1154.4" r="2.05"/><circle cx="297.7" cy="1196.1" r="2.05"/><circle cx="352.0" cy="1182.6" r="2.05"/><circle cx="288.7" cy="1191.2" r="2.05"/><circle cx="266.9" cy="1202.3" r="2.05"/><circle cx="550.1" cy="1178.0" r="2.05"/><circle cx="305.1" cy="1172.8" r="2.05"/><circle cx="292.8" cy="1189.6" r="2.05"/><circle cx="313.1" cy="1154.1" r="2.05"/><circle cx="251.0" cy="1160.4" r="2.05"/><circle cx="413.3" cy="1155.1" r="2.05"/><circle cx="306.4" cy="1222.7" r="2.05"/><circle cx="283.0" cy="1168.5" r="2.05"/><circle cx="336.0" cy="1167.0" r="2.05"/><circle cx="276.8" cy="1204.2" r="2.05"/><circle cx="282.0" cy="1166.2" r="2.05"/><circle cx="318.2" cy="1208.5" r="2.05"/><circle cx="376.1" cy="1154.6" r="2.05"/><circle cx="517.0" cy="1197.8" r="2.05"/><circle cx="356.8" cy="1160.2" r="2.05"/><circle cx="464.3" cy="1173.2" r="2.05"/><circle cx="396.8" cy="1186.2" r="2.05"/><circle cx="354.3" cy="1225.8" r="2.05"/><circle cx="356.6" cy="1176.7" r="2.05"/><circle cx="316.5" cy="1185.3" r="2.05"/><circle cx="285.2" cy="1181.5" r="2.05"/><circle cx="346.9" cy="1141.5" r="2.05"/><circle cx="339.2" cy="1168.0" r="2.05"/><circle cx="313.8" cy="1180.0" r="2.05"/><circle cx="303.3" cy="1161.0" r="2.05"/><circle cx="335.3" cy="1169.3" r="2.05"/><circle cx="382.7" cy="1190.5" r="2.05"/><circle cx="275.5" cy="1130.1" r="2.05"/><circle cx="288.6" cy="1220.3" r="2.05"/><circle cx="348.0" cy="1173.4" r="2.05"/><circle cx="408.1" cy="1160.1" r="2.05"/><circle cx="301.8" cy="1198.8" r="2.05"/><circle cx="442.2" cy="1139.4" r="2.05"/><circle cx="375.2" cy="1191.8" r="2.05"/><circle cx="321.3" cy="1141.2" r="2.05"/><circle cx="377.3" cy="1145.9" r="2.05"/><circle cx="303.9" cy="1198.7" r="2.05"/><circle cx="366.4" cy="1193.8" r="2.05"/><circle cx="326.7" cy="1150.9" r="2.05"/><circle cx="389.7" cy="1172.1" r="2.05"/><circle cx="353.3" cy="1150.8" r="2.05"/><circle cx="288.0" cy="1128.9" r="2.05"/><circle cx="310.2" cy="1156.5" r="2.05"/><circle cx="384.8" cy="1139.7" r="2.05"/><circle cx="265.4" cy="1162.3" r="2.05"/><circle cx="359.6" cy="1165.4" r="2.05"/><circle cx="380.0" cy="1165.0" r="2.05"/><circle cx="337.3" cy="1201.9" r="2.05"/><circle cx="329.1" cy="1170.4" r="2.05"/><circle cx="399.6" cy="1191.5" r="2.05"/><circle cx="370.3" cy="1173.7" r="2.05"/><circle cx="371.0" cy="1157.6" r="2.05"/><circle cx="395.5" cy="1197.7" r="2.05"/><circle cx="378.8" cy="1205.4" r="2.05"/><circle cx="273.7" cy="1202.7" r="2.05"/><circle cx="310.3" cy="1166.7" r="2.05"/><circle cx="345.6" cy="1176.1" r="2.05"/><circle cx="396.7" cy="1157.8" r="2.05"/><circle cx="307.8" cy="1183.8" r="2.05"/><circle cx="337.3" cy="1166.8" r="2.05"/><circle cx="278.0" cy="1191.5" r="2.05"/><circle cx="335.8" cy="1164.7" r="2.05"/><circle cx="380.7" cy="1153.9" r="2.05"/><circle cx="362.3" cy="1153.0" r="2.05"/><circle cx="372.5" cy="1122.4" r="2.05"/><circle cx="382.0" cy="1166.5" r="2.05"/><circle cx="357.9" cy="1144.9" r="2.05"/><circle cx="335.0" cy="1199.8" r="2.05"/><circle cx="283.7" cy="1171.7" r="2.05"/><circle cx="354.9" cy="1224.9" r="2.05"/><circle cx="382.7" cy="1197.2" r="2.05"/><circle cx="397.5" cy="1214.6" r="2.05"/><circle cx="577.6" cy="1184.0" r="2.05"/><circle cx="286.6" cy="1178.4" r="2.05"/><circle cx="300.6" cy="1163.1" r="2.05"/><circle cx="381.0" cy="1175.8" r="2.05"/><circle cx="317.7" cy="1162.3" r="2.05"/><circle cx="285.0" cy="1178.7" r="2.05"/><circle cx="399.7" cy="1202.8" r="2.05"/><circle cx="363.7" cy="1169.4" r="2.05"/><circle cx="269.9" cy="1222.3" r="2.05"/><circle cx="393.3" cy="1196.8" r="2.05"/><circle cx="296.2" cy="1209.0" r="2.05"/><circle cx="419.5" cy="1156.8" r="2.05"/><circle cx="380.9" cy="1141.0" r="2.05"/><circle cx="319.6" cy="1204.1" r="2.05"/><circle cx="358.6" cy="1162.4" r="2.05"/><circle cx="374.8" cy="1222.4" r="2.05"/><circle cx="421.7" cy="1152.5" r="2.05"/><circle cx="367.6" cy="1181.3" r="2.05"/><circle cx="290.0" cy="1167.9" r="2.05"/><circle cx="277.6" cy="1210.2" r="2.05"/><circle cx="387.5" cy="1183.1" r="2.05"/><circle cx="285.7" cy="1160.8" r="2.05"/><circle cx="314.9" cy="1156.4" r="2.05"/><circle cx="376.6" cy="1151.9" r="2.05"/><circle cx="299.7" cy="1203.5" r="2.05"/><circle cx="317.3" cy="1206.3" r="2.05"/><circle cx="326.3" cy="1162.0" r="2.05"/><circle cx="355.8" cy="1134.3" r="2.05"/><circle cx="301.6" cy="1179.0" r="2.05"/><circle cx="364.8" cy="1164.6" r="2.05"/><circle cx="259.6" cy="1208.2" r="2.05"/><circle cx="328.8" cy="1167.8" r="2.05"/><circle cx="312.7" cy="1185.9" r="2.05"/><circle cx="310.7" cy="1231.8" r="2.05"/><circle cx="294.7" cy="1160.8" r="2.05"/><circle cx="463.0" cy="1142.1" r="2.05"/><circle cx="327.7" cy="1183.2" r="2.05"/><circle cx="403.7" cy="1171.1" r="2.05"/><circle cx="335.2" cy="1155.1" r="2.05"/><circle cx="367.5" cy="1185.4" r="2.05"/><circle cx="325.9" cy="1122.5" r="2.05"/><circle cx="251.3" cy="1188.0" r="2.05"/><circle cx="316.5" cy="1150.2" r="2.05"/><circle cx="481.0" cy="1190.6" r="2.05"/><circle cx="537.5" cy="1192.9" r="2.05"/><circle cx="304.1" cy="1140.3" r="2.05"/><circle cx="342.3" cy="1160.5" r="2.05"/><circle cx="271.5" cy="1170.5" r="2.05"/><circle cx="381.4" cy="1149.4" r="2.05"/><circle cx="332.0" cy="1179.5" r="2.05"/><circle cx="345.0" cy="1147.9" r="2.05"/><circle cx="366.6" cy="1161.7" r="2.05"/><circle cx="270.6" cy="1256.1" r="2.05"/><circle cx="249.6" cy="1221.1" r="2.05"/><circle cx="303.7" cy="1208.5" r="2.05"/><circle cx="387.9" cy="1206.5" r="2.05"/><circle cx="366.6" cy="1144.1" r="2.05"/><circle cx="261.1" cy="1198.1" r="2.05"/><circle cx="535.3" cy="1176.8" r="2.05"/><circle cx="260.0" cy="1158.0" r="2.05"/><circle cx="405.4" cy="1198.7" r="2.05"/><circle cx="349.8" cy="1158.1" r="2.05"/><circle cx="384.7" cy="1169.9" r="2.05"/><circle cx="381.7" cy="1151.2" r="2.05"/><circle cx="260.1" cy="1171.5" r="2.05"/><circle cx="328.3" cy="1171.4" r="2.05"/><circle cx="373.8" cy="1159.5" r="2.05"/><circle cx="345.3" cy="1142.5" r="2.05"/><circle cx="328.6" cy="1175.4" r="2.05"/><circle cx="459.8" cy="1136.7" r="2.05"/><circle cx="310.7" cy="1177.3" r="2.05"/><circle cx="335.7" cy="1181.9" r="2.05"/><circle cx="381.2" cy="1146.2" r="2.05"/><circle cx="253.8" cy="1210.4" r="2.05"/><circle cx="362.8" cy="1169.1" r="2.05"/><circle cx="316.5" cy="1193.6" r="2.05"/><circle cx="332.1" cy="1167.6" r="2.05"/><circle cx="315.7" cy="1127.1" r="2.05"/><circle cx="305.0" cy="1210.0" r="2.05"/><circle cx="332.5" cy="1164.9" r="2.05"/><circle cx="321.9" cy="1149.8" r="2.05"/><circle cx="376.3" cy="1176.6" r="2.05"/><circle cx="331.0" cy="1164.3" r="2.05"/><circle cx="342.6" cy="1157.3" r="2.05"/><circle cx="295.5" cy="1113.9" r="2.05"/><circle cx="365.8" cy="1188.1" r="2.05"/><circle cx="280.1" cy="1164.1" r="2.05"/><circle cx="345.1" cy="1182.2" r="2.05"/><circle cx="333.4" cy="1197.3" r="2.05"/><circle cx="273.6" cy="1156.6" r="2.05"/><circle cx="325.2" cy="1167.9" r="2.05"/><circle cx="387.8" cy="1167.4" r="2.05"/><circle cx="390.4" cy="1185.1" r="2.05"/><circle cx="500.8" cy="1169.0" r="2.05"/><circle cx="282.8" cy="1178.9" r="2.05"/><circle cx="418.3" cy="1138.2" r="2.05"/><circle cx="277.5" cy="1147.5" r="2.05"/><circle cx="364.5" cy="1151.5" r="2.05"/><circle cx="567.7" cy="1161.8" r="2.05"/><circle cx="363.3" cy="1175.1" r="2.05"/><circle cx="396.7" cy="1173.8" r="2.05"/><circle cx="320.4" cy="1158.7" r="2.05"/><circle cx="408.9" cy="1181.9" r="2.05"/><circle cx="365.9" cy="1178.8" r="2.05"/><circle cx="272.3" cy="1120.3" r="2.05"/><circle cx="396.1" cy="1179.9" r="2.05"/><circle cx="292.4" cy="1194.9" r="2.05"/><circle cx="263.3" cy="1183.9" r="2.05"/><circle cx="313.8" cy="1166.1" r="2.05"/><circle cx="317.8" cy="1160.6" r="2.05"/><circle cx="352.7" cy="1193.7" r="2.05"/><circle cx="326.6" cy="1206.6" r="2.05"/><circle cx="351.9" cy="1190.4" r="2.05"/><circle cx="314.1" cy="1161.3" r="2.05"/><circle cx="343.2" cy="1198.4" r="2.05"/><circle cx="341.8" cy="1185.9" r="2.05"/><circle cx="320.8" cy="1165.1" r="2.05"/><circle cx="288.4" cy="1164.1" r="2.05"/><circle cx="363.1" cy="1168.2" r="2.05"/><circle cx="314.5" cy="1188.2" r="2.05"/><circle cx="272.2" cy="1175.6" r="2.05"/><circle cx="365.2" cy="1203.1" r="2.05"/><circle cx="358.2" cy="1160.9" r="2.05"/><circle cx="345.3" cy="1169.7" r="2.05"/><circle cx="385.8" cy="1171.1" r="2.05"/><circle cx="295.4" cy="1212.2" r="2.05"/><circle cx="517.0" cy="1132.2" r="2.05"/><circle cx="504.4" cy="1146.9" r="2.05"/><circle cx="419.0" cy="1172.6" r="2.05"/><circle cx="340.4" cy="1164.6" r="2.05"/><circle cx="257.5" cy="1197.3" r="2.05"/><circle cx="295.8" cy="1185.1" r="2.05"/><circle cx="363.6" cy="1122.1" r="2.05"/><circle cx="363.3" cy="1198.8" r="2.05"/><circle cx="413.5" cy="1181.2" r="2.05"/><circle cx="497.2" cy="1157.7" r="2.05"/><circle cx="356.4" cy="1172.4" r="2.05"/><circle cx="315.3" cy="1146.6" r="2.05"/><circle cx="325.9" cy="1174.4" r="2.05"/><circle cx="280.7" cy="1160.2" r="2.05"/><circle cx="450.8" cy="1167.8" r="2.05"/><circle cx="512.3" cy="1213.5" r="2.05"/><circle cx="307.7" cy="1156.3" r="2.05"/><circle cx="252.9" cy="1143.5" r="2.05"/><circle cx="391.9" cy="1177.9" r="2.05"/><circle cx="386.9" cy="1147.7" r="2.05"/><circle cx="314.3" cy="1182.0" r="2.05"/><circle cx="364.4" cy="1230.0" r="2.05"/><circle cx="303.2" cy="1132.9" r="2.05"/><circle cx="286.9" cy="1168.9" r="2.05"/><circle cx="349.7" cy="1160.1" r="2.05"/><circle cx="275.5" cy="1135.8" r="2.05"/><circle cx="288.1" cy="1162.1" r="2.05"/><circle cx="307.9" cy="1156.5" r="2.05"/><circle cx="295.0" cy="1175.0" r="2.05"/><circle cx="375.1" cy="1171.2" r="2.05"/><circle cx="321.5" cy="1196.0" r="2.05"/><circle cx="375.3" cy="1172.5" r="2.05"/><circle cx="337.8" cy="1129.3" r="2.05"/><circle cx="288.4" cy="1150.7" r="2.05"/><circle cx="578.8" cy="1168.1" r="2.05"/><circle cx="312.1" cy="1159.0" r="2.05"/><circle cx="288.6" cy="1200.4" r="2.05"/><circle cx="410.9" cy="1190.6" r="2.05"/><circle cx="374.0" cy="1167.3" r="2.05"/><circle cx="360.8" cy="1194.1" r="2.05"/><circle cx="285.2" cy="1210.7" r="2.05"/><circle cx="516.4" cy="1118.1" r="2.05"/><circle cx="349.1" cy="1158.1" r="2.05"/><circle cx="354.0" cy="1163.1" r="2.05"/><circle cx="371.8" cy="1164.5" r="2.05"/><circle cx="300.3" cy="1143.7" r="2.05"/><circle cx="357.9" cy="1191.6" r="2.05"/><circle cx="297.3" cy="1233.4" r="2.05"/><circle cx="280.3" cy="1145.5" r="2.05"/><circle cx="300.2" cy="1163.3" r="2.05"/><circle cx="337.8" cy="1207.4" r="2.05"/><circle cx="278.2" cy="1161.1" r="2.05"/><circle cx="347.2" cy="1142.0" r="2.05"/><circle cx="289.3" cy="1159.9" r="2.05"/><circle cx="253.6" cy="1154.3" r="2.05"/><circle cx="366.2" cy="1156.9" r="2.05"/><circle cx="315.7" cy="1192.8" r="2.05"/><circle cx="394.7" cy="1151.3" r="2.05"/><circle cx="297.3" cy="1123.4" r="2.05"/><circle cx="380.8" cy="1169.5" r="2.05"/><circle cx="315.0" cy="1198.7" r="2.05"/><circle cx="393.4" cy="1130.9" r="2.05"/><circle cx="398.1" cy="1200.5" r="2.05"/><circle cx="377.3" cy="1205.9" r="2.05"/><circle cx="324.8" cy="1130.7" r="2.05"/><circle cx="348.3" cy="1154.0" r="2.05"/><circle cx="374.3" cy="1185.2" r="2.05"/><circle cx="557.8" cy="1204.1" r="2.05"/><circle cx="269.5" cy="1170.6" r="2.05"/><circle cx="328.7" cy="1171.4" r="2.05"/><circle cx="380.1" cy="1170.7" r="2.05"/><circle cx="513.7" cy="1105.2" r="2.05"/><circle cx="301.0" cy="1180.3" r="2.05"/><circle cx="331.9" cy="1147.4" r="2.05"/><circle cx="418.3" cy="1151.5" r="2.05"/><circle cx="332.8" cy="1182.4" r="2.05"/><circle cx="312.5" cy="1159.5" r="2.05"/><circle cx="333.3" cy="1186.5" r="2.05"/><circle cx="414.1" cy="1147.9" r="2.05"/><circle cx="291.5" cy="1180.9" r="2.05"/><circle cx="320.4" cy="1147.8" r="2.05"/><circle cx="347.6" cy="1193.3" r="2.05"/><circle cx="317.2" cy="1223.7" r="2.05"/><circle cx="313.5" cy="1138.2" r="2.05"/><circle cx="307.2" cy="1200.1" r="2.05"/><circle cx="356.1" cy="1111.1" r="2.05"/><circle cx="310.5" cy="1144.7" r="2.05"/><circle cx="314.5" cy="1168.1" r="2.05"/><circle cx="375.7" cy="1163.9" r="2.05"/><circle cx="310.8" cy="1214.3" r="2.05"/><circle cx="339.6" cy="1185.3" r="2.05"/><circle cx="350.2" cy="1205.6" r="2.05"/><circle cx="490.0" cy="1162.4" r="2.05"/><circle cx="278.4" cy="1185.9" r="2.05"/><circle cx="410.7" cy="1149.8" r="2.05"/><circle cx="402.5" cy="1147.2" r="2.05"/><circle cx="360.5" cy="1157.0" r="2.05"/><circle cx="360.3" cy="1175.6" r="2.05"/><circle cx="386.9" cy="1163.7" r="2.05"/><circle cx="309.8" cy="1107.0" r="2.05"/><circle cx="263.8" cy="1213.0" r="2.05"/><circle cx="378.3" cy="1189.8" r="2.05"/><circle cx="562.3" cy="1199.6" r="2.05"/><circle cx="365.4" cy="1155.6" r="2.05"/><circle cx="395.8" cy="1198.8" r="2.05"/><circle cx="352.0" cy="1154.5" r="2.05"/><circle cx="338.7" cy="1222.7" r="2.05"/><circle cx="339.0" cy="1183.9" r="2.05"/><circle cx="262.6" cy="1193.8" r="2.05"/><circle cx="316.7" cy="1170.4" r="2.05"/><circle cx="313.7" cy="1195.0" r="2.05"/><circle cx="373.8" cy="1197.1" r="2.05"/><circle cx="327.6" cy="1183.9" r="2.05"/><circle cx="331.7" cy="1181.8" r="2.05"/><circle cx="331.8" cy="1156.3" r="2.05"/><circle cx="329.1" cy="1206.0" r="2.05"/><circle cx="293.4" cy="1194.5" r="2.05"/><circle cx="326.8" cy="1234.5" r="2.05"/><circle cx="327.8" cy="1163.8" r="2.05"/><circle cx="410.3" cy="1154.3" r="2.05"/><circle cx="285.0" cy="1144.5" r="2.05"/><circle cx="313.8" cy="1179.9" r="2.05"/><circle cx="405.9" cy="1179.3" r="2.05"/><circle cx="277.8" cy="1142.9" r="2.05"/><circle cx="312.0" cy="1222.1" r="2.05"/><circle cx="282.2" cy="1165.0" r="2.05"/><circle cx="309.4" cy="1213.2" r="2.05"/><circle cx="367.8" cy="1219.9" r="2.05"/><circle cx="304.8" cy="1179.7" r="2.05"/><circle cx="354.0" cy="1220.1" r="2.05"/><circle cx="385.3" cy="1166.9" r="2.05"/><circle cx="328.1" cy="1143.4" r="2.05"/><circle cx="290.4" cy="1219.2" r="2.05"/><circle cx="254.1" cy="1179.0" r="2.05"/><circle cx="310.8" cy="1127.1" r="2.05"/><circle cx="336.7" cy="1211.9" r="2.05"/><circle cx="336.9" cy="1161.4" r="2.05"/><circle cx="367.1" cy="1133.9" r="2.05"/><circle cx="307.8" cy="1167.5" r="2.05"/><circle cx="353.5" cy="1209.2" r="2.05"/><circle cx="303.0" cy="1159.5" r="2.05"/><circle cx="318.1" cy="1192.6" r="2.05"/><circle cx="324.6" cy="1177.4" r="2.05"/><circle cx="425.9" cy="1156.0" r="2.05"/><circle cx="371.5" cy="1147.7" r="2.05"/><circle cx="360.1" cy="1195.6" r="2.05"/><circle cx="314.3" cy="1162.4" r="2.05"/><circle cx="403.8" cy="1163.0" r="2.05"/><circle cx="307.8" cy="1187.5" r="2.05"/><circle cx="392.2" cy="1171.2" r="2.05"/><circle cx="401.8" cy="1159.9" r="2.05"/><circle cx="312.9" cy="1131.7" r="2.05"/><circle cx="367.2" cy="1211.8" r="2.05"/><circle cx="337.2" cy="1145.9" r="2.05"/><circle cx="256.5" cy="1233.7" r="2.05"/><circle cx="390.1" cy="1176.7" r="2.05"/><circle cx="318.6" cy="1172.6" r="2.05"/><circle cx="380.4" cy="1196.9" r="2.05"/><circle cx="323.4" cy="1114.0" r="2.05"/><circle cx="319.5" cy="1203.5" r="2.05"/><circle cx="399.7" cy="1172.0" r="2.05"/><circle cx="265.5" cy="1220.4" r="2.05"/><circle cx="284.2" cy="1171.5" r="2.05"/><circle cx="322.6" cy="1181.2" r="2.05"/><circle cx="338.8" cy="1169.1" r="2.05"/><circle cx="303.5" cy="1147.4" r="2.05"/><circle cx="341.7" cy="1145.5" r="2.05"/><circle cx="564.5" cy="1213.5" r="2.05"/><circle cx="293.0" cy="1109.5" r="2.05"/><circle cx="359.0" cy="1149.0" r="2.05"/><circle cx="415.9" cy="1149.4" r="2.05"/><circle cx="302.7" cy="1126.3" r="2.05"/><circle cx="336.9" cy="1100.6" r="2.05"/><circle cx="362.8" cy="1174.6" r="2.05"/><circle cx="455.8" cy="1151.6" r="2.05"/><circle cx="350.9" cy="1227.7" r="2.05"/><circle cx="331.5" cy="1154.8" r="2.05"/><circle cx="465.2" cy="1137.9" r="2.05"/><circle cx="257.6" cy="1168.6" r="2.05"/><circle cx="325.6" cy="1164.0" r="2.05"/><circle cx="270.8" cy="1181.4" r="2.05"/><circle cx="320.8" cy="1146.1" r="2.05"/><circle cx="338.3" cy="1237.6" r="2.05"/><circle cx="300.6" cy="1239.2" r="2.05"/><circle cx="369.7" cy="1161.9" r="2.05"/><circle cx="307.6" cy="1135.9" r="2.05"/><circle cx="315.0" cy="1186.1" r="2.05"/><circle cx="297.9" cy="1209.3" r="2.05"/><circle cx="263.1" cy="1192.0" r="2.05"/><circle cx="381.3" cy="1167.6" r="2.05"/><circle cx="340.6" cy="1175.5" r="2.05"/><circle cx="388.3" cy="1168.1" r="2.05"/><circle cx="300.7" cy="1169.2" r="2.05"/><circle cx="384.7" cy="1201.7" r="2.05"/><circle cx="309.6" cy="1197.2" r="2.05"/><circle cx="406.5" cy="1181.6" r="2.05"/><circle cx="367.7" cy="1211.5" r="2.05"/><circle cx="369.0" cy="1155.9" r="2.05"/><circle cx="352.7" cy="1187.0" r="2.05"/><circle cx="376.5" cy="1158.5" r="2.05"/><circle cx="351.1" cy="1189.2" r="2.05"/><circle cx="312.0" cy="1199.5" r="2.05"/><circle cx="330.7" cy="1216.4" r="2.05"/><circle cx="287.7" cy="1167.5" r="2.05"/><circle cx="260.3" cy="1165.6" r="2.05"/><circle cx="297.6" cy="1173.4" r="2.05"/><circle cx="329.1" cy="1166.1" r="2.05"/><circle cx="329.5" cy="1188.8" r="2.05"/><circle cx="394.1" cy="1182.7" r="2.05"/><circle cx="347.7" cy="1141.0" r="2.05"/><circle cx="289.6" cy="1154.2" r="2.05"/><circle cx="294.2" cy="1105.4" r="2.05"/><circle cx="252.8" cy="1182.8" r="2.05"/><circle cx="313.2" cy="1163.7" r="2.05"/><circle cx="343.1" cy="1172.5" r="2.05"/><circle cx="370.7" cy="1183.9" r="2.05"/><circle cx="343.0" cy="1160.7" r="2.05"/><circle cx="355.0" cy="1171.7" r="2.05"/><circle cx="541.6" cy="1203.2" r="2.05"/><circle cx="399.0" cy="1143.9" r="2.05"/><circle cx="315.1" cy="1170.6" r="2.05"/><circle cx="320.9" cy="1214.7" r="2.05"/><circle cx="344.6" cy="1201.3" r="2.05"/><circle cx="300.6" cy="1155.6" r="2.05"/><circle cx="508.7" cy="1174.4" r="2.05"/><circle cx="429.8" cy="1186.5" r="2.05"/><circle cx="305.1" cy="1172.3" r="2.05"/><circle cx="315.5" cy="1204.6" r="2.05"/><circle cx="303.0" cy="1144.4" r="2.05"/><circle cx="354.5" cy="1145.9" r="2.05"/><circle cx="260.5" cy="1211.6" r="2.05"/><circle cx="565.9" cy="1167.8" r="2.05"/><circle cx="277.0" cy="1191.1" r="2.05"/><circle cx="358.0" cy="1144.5" r="2.05"/><circle cx="287.1" cy="1220.7" r="2.05"/><circle cx="306.3" cy="1224.4" r="2.05"/><circle cx="349.5" cy="1195.8" r="2.05"/><circle cx="358.2" cy="1184.1" r="2.05"/><circle cx="360.1" cy="1174.9" r="2.05"/><circle cx="306.9" cy="1166.2" r="2.05"/><circle cx="341.2" cy="1156.4" r="2.05"/><circle cx="291.2" cy="1168.4" r="2.05"/><circle cx="576.2" cy="1192.4" r="2.05"/><circle cx="411.0" cy="1189.3" r="2.05"/><circle cx="309.9" cy="1177.6" r="2.05"/><circle cx="325.2" cy="1165.2" r="2.05"/><circle cx="328.7" cy="1140.5" r="2.05"/><circle cx="317.1" cy="1131.8" r="2.05"/><circle cx="355.4" cy="1191.9" r="2.05"/><circle cx="352.8" cy="1165.5" r="2.05"/><circle cx="295.1" cy="1192.3" r="2.05"/><circle cx="407.3" cy="1134.4" r="2.05"/><circle cx="352.9" cy="1176.4" r="2.05"/><circle cx="302.9" cy="1162.3" r="2.05"/><circle cx="359.5" cy="1130.1" r="2.05"/><circle cx="297.3" cy="1184.1" r="2.05"/><circle cx="271.0" cy="1167.3" r="2.05"/><circle cx="409.5" cy="1201.4" r="2.05"/><circle cx="417.0" cy="1198.5" r="2.05"/><circle cx="330.5" cy="1198.8" r="2.05"/><circle cx="361.0" cy="1207.3" r="2.05"/><circle cx="340.0" cy="1197.6" r="2.05"/><circle cx="319.7" cy="1166.9" r="2.05"/><circle cx="320.4" cy="1228.4" r="2.05"/><circle cx="327.0" cy="1155.9" r="2.05"/><circle cx="413.5" cy="1148.2" r="2.05"/><circle cx="336.7" cy="1199.9" r="2.05"/><circle cx="323.8" cy="1153.7" r="2.05"/><circle cx="358.0" cy="1166.4" r="2.05"/><circle cx="346.9" cy="1158.7" r="2.05"/><circle cx="265.8" cy="1227.2" r="2.05"/><circle cx="269.8" cy="1205.5" r="2.05"/><circle cx="334.3" cy="1175.9" r="2.05"/><circle cx="398.7" cy="1214.0" r="2.05"/><circle cx="304.8" cy="1230.5" r="2.05"/><circle cx="313.5" cy="1169.2" r="2.05"/><circle cx="462.5" cy="1181.6" r="2.05"/><circle cx="342.1" cy="1233.5" r="2.05"/><circle cx="306.0" cy="1143.5" r="2.05"/><circle cx="273.8" cy="1156.4" r="2.05"/><circle cx="349.8" cy="1191.6" r="2.05"/><circle cx="387.3" cy="1200.5" r="2.05"/><circle cx="286.1" cy="1147.8" r="2.05"/><circle cx="350.5" cy="1181.6" r="2.05"/><circle cx="313.7" cy="1180.7" r="2.05"/><circle cx="520.0" cy="1141.2" r="2.05"/><circle cx="397.8" cy="1190.5" r="2.05"/><circle cx="323.2" cy="1185.9" r="2.05"/><circle cx="394.0" cy="1164.4" r="2.05"/><circle cx="379.1" cy="1187.4" r="2.05"/><circle cx="354.2" cy="1147.5" r="2.05"/><circle cx="331.5" cy="1187.7" r="2.05"/><circle cx="312.9" cy="1167.2" r="2.05"/><circle cx="352.7" cy="1127.7" r="2.05"/><circle cx="269.3" cy="1168.9" r="2.05"/><circle cx="354.5" cy="1150.1" r="2.05"/><circle cx="278.8" cy="1204.3" r="2.05"/><circle cx="333.4" cy="1153.1" r="2.05"/><circle cx="301.4" cy="1137.2" r="2.05"/><circle cx="397.1" cy="1199.3" r="2.05"/><circle cx="369.6" cy="1138.3" r="2.05"/><circle cx="335.6" cy="1149.3" r="2.05"/><circle cx="306.9" cy="1125.5" r="2.05"/><circle cx="283.2" cy="1174.8" r="2.05"/><circle cx="308.3" cy="1163.1" r="2.05"/><circle cx="380.1" cy="1182.3" r="2.05"/><circle cx="328.8" cy="1166.3" r="2.05"/><circle cx="538.0" cy="1148.0" r="2.05"/><circle cx="344.8" cy="1167.2" r="2.05"/><circle cx="290.6" cy="1187.6" r="2.05"/><circle cx="271.8" cy="1204.4" r="2.05"/><circle cx="318.5" cy="1211.8" r="2.05"/><circle cx="303.1" cy="1179.0" r="2.05"/><circle cx="474.2" cy="1171.7" r="2.05"/><circle cx="306.9" cy="1237.1" r="2.05"/><circle cx="267.3" cy="1157.8" r="2.05"/><circle cx="394.4" cy="1187.3" r="2.05"/><circle cx="365.2" cy="1147.0" r="2.05"/><circle cx="399.7" cy="1198.5" r="2.05"/><circle cx="417.6" cy="1187.9" r="2.05"/><circle cx="319.5" cy="1187.6" r="2.05"/><circle cx="307.3" cy="1151.9" r="2.05"/><circle cx="330.8" cy="1176.3" r="2.05"/><circle cx="372.8" cy="1128.7" r="2.05"/><circle cx="406.1" cy="1155.9" r="2.05"/><circle cx="347.9" cy="1206.1" r="2.05"/><circle cx="288.7" cy="1149.4" r="2.05"/><circle cx="477.8" cy="1180.7" r="2.05"/><circle cx="420.4" cy="1141.5" r="2.05"/><circle cx="332.9" cy="1145.8" r="2.05"/><circle cx="358.6" cy="1200.5" r="2.05"/><circle cx="329.6" cy="1158.8" r="2.05"/><circle cx="383.7" cy="1195.8" r="2.05"/><circle cx="309.1" cy="1141.5" r="2.05"/><circle cx="279.5" cy="1140.1" r="2.05"/><circle cx="267.1" cy="1142.7" r="2.05"/><circle cx="447.2" cy="1190.6" r="2.05"/><circle cx="289.1" cy="1160.7" r="2.05"/><circle cx="306.0" cy="1159.3" r="2.05"/><circle cx="312.0" cy="1232.4" r="2.05"/><circle cx="323.1" cy="1204.4" r="2.05"/><circle cx="287.5" cy="1167.7" r="2.05"/><circle cx="331.5" cy="1210.1" r="2.05"/><circle cx="252.2" cy="1130.8" r="2.05"/><circle cx="270.8" cy="1185.8" r="2.05"/><circle cx="375.8" cy="1165.0" r="2.05"/><circle cx="289.3" cy="1151.8" r="2.05"/><circle cx="282.6" cy="1190.2" r="2.05"/><circle cx="276.8" cy="1157.0" r="2.05"/><circle cx="300.6" cy="1152.2" r="2.05"/><circle cx="647.6" cy="1185.3" r="2.05"/><circle cx="371.4" cy="1183.3" r="2.05"/><circle cx="399.0" cy="1157.6" r="2.05"/><circle cx="313.7" cy="1208.7" r="2.05"/><circle cx="371.2" cy="1178.6" r="2.05"/><circle cx="276.0" cy="1228.2" r="2.05"/><circle cx="334.7" cy="1179.8" r="2.05"/><circle cx="343.9" cy="1197.9" r="2.05"/><circle cx="318.0" cy="1206.1" r="2.05"/><circle cx="574.5" cy="1203.7" r="2.05"/><circle cx="333.4" cy="1164.3" r="2.05"/><circle cx="354.4" cy="1197.9" r="2.05"/><circle cx="377.0" cy="1154.4" r="2.05"/><circle cx="368.1" cy="1143.7" r="2.05"/><circle cx="302.1" cy="1113.0" r="2.05"/><circle cx="323.5" cy="1164.6" r="2.05"/><circle cx="365.3" cy="1160.8" r="2.05"/><circle cx="321.7" cy="1160.8" r="2.05"/><circle cx="382.4" cy="1201.6" r="2.05"/><circle cx="320.3" cy="1206.9" r="2.05"/><circle cx="272.8" cy="1206.4" r="2.05"/><circle cx="339.6" cy="1152.8" r="2.05"/><circle cx="387.3" cy="1182.6" r="2.05"/><circle cx="387.7" cy="1177.5" r="2.05"/><circle cx="454.7" cy="1176.8" r="2.05"/><circle cx="284.9" cy="1145.5" r="2.05"/></g>
<g fill="#3cc4ee" stroke="#10303a" stroke-width="1.05"><circle cx="285.1" cy="1204.4" r="2.05"/><circle cx="313.4" cy="1172.3" r="2.05"/><circle cx="321.1" cy="1216.2" r="2.05"/><circle cx="285.4" cy="1217.0" r="2.05"/><circle cx="319.6" cy="1191.8" r="2.05"/><circle cx="265.3" cy="1150.3" r="2.05"/><circle cx="289.4" cy="1166.6" r="2.05"/><circle cx="289.1" cy="1144.1" r="2.05"/><circle cx="298.8" cy="1166.2" r="2.05"/><circle cx="291.3" cy="1148.0" r="2.05"/><circle cx="320.3" cy="1182.0" r="2.05"/><circle cx="313.6" cy="1211.7" r="2.05"/><circle cx="271.4" cy="1186.8" r="2.05"/><circle cx="272.9" cy="1159.1" r="2.05"/><circle cx="256.4" cy="1213.2" r="2.05"/><circle cx="296.5" cy="1195.5" r="2.05"/><circle cx="293.0" cy="1170.9" r="2.05"/><circle cx="274.5" cy="1183.5" r="2.05"/><circle cx="313.3" cy="1173.0" r="2.05"/><circle cx="293.3" cy="1155.7" r="2.05"/><circle cx="272.9" cy="1204.3" r="2.05"/><circle cx="282.4" cy="1131.1" r="2.05"/><circle cx="307.0" cy="1115.5" r="2.05"/><circle cx="316.8" cy="1149.3" r="2.05"/><circle cx="278.9" cy="1215.6" r="2.05"/><circle cx="263.0" cy="1203.6" r="2.05"/><circle cx="305.8" cy="1165.5" r="2.05"/><circle cx="258.5" cy="1166.6" r="2.05"/><circle cx="326.8" cy="1148.9" r="2.05"/><circle cx="273.8" cy="1148.7" r="2.05"/><circle cx="280.0" cy="1141.2" r="2.05"/><circle cx="260.5" cy="1197.9" r="2.05"/><circle cx="282.7" cy="1153.7" r="2.05"/><circle cx="255.7" cy="1167.0" r="2.05"/><circle cx="282.2" cy="1185.1" r="2.05"/><circle cx="258.9" cy="1162.3" r="2.05"/><circle cx="295.1" cy="1162.0" r="2.05"/><circle cx="295.8" cy="1176.1" r="2.05"/><circle cx="268.8" cy="1173.6" r="2.05"/><circle cx="311.4" cy="1169.6" r="2.05"/><circle cx="305.0" cy="1150.7" r="2.05"/><circle cx="299.9" cy="1179.6" r="2.05"/><circle cx="266.6" cy="1140.5" r="2.05"/><circle cx="287.0" cy="1177.7" r="2.05"/><circle cx="293.7" cy="1152.1" r="2.05"/><circle cx="313.4" cy="1191.6" r="2.05"/><circle cx="289.4" cy="1143.1" r="2.05"/><circle cx="275.9" cy="1172.3" r="2.05"/><circle cx="269.9" cy="1211.0" r="2.05"/><circle cx="258.4" cy="1169.0" r="2.05"/><circle cx="299.4" cy="1240.4" r="2.05"/><circle cx="284.8" cy="1179.0" r="2.05"/><circle cx="252.0" cy="1175.0" r="2.05"/><circle cx="271.3" cy="1138.1" r="2.05"/><circle cx="266.2" cy="1146.3" r="2.05"/><circle cx="261.2" cy="1200.1" r="2.05"/><circle cx="327.9" cy="1192.8" r="2.05"/><circle cx="280.5" cy="1214.3" r="2.05"/><circle cx="295.3" cy="1137.0" r="2.05"/><circle cx="284.1" cy="1180.3" r="2.05"/><circle cx="291.4" cy="1193.0" r="2.05"/><circle cx="258.7" cy="1172.1" r="2.05"/><circle cx="283.1" cy="1218.8" r="2.05"/><circle cx="258.9" cy="1161.6" r="2.05"/><circle cx="314.2" cy="1175.0" r="2.05"/><circle cx="276.1" cy="1239.3" r="2.05"/><circle cx="330.4" cy="1150.2" r="2.05"/><circle cx="271.8" cy="1201.1" r="2.05"/><circle cx="303.8" cy="1225.4" r="2.05"/><circle cx="309.3" cy="1149.1" r="2.05"/><circle cx="260.2" cy="1201.4" r="2.05"/><circle cx="336.9" cy="1186.3" r="2.05"/><circle cx="295.4" cy="1182.4" r="2.05"/><circle cx="332.7" cy="1188.8" r="2.05"/><circle cx="268.2" cy="1133.9" r="2.05"/><circle cx="252.4" cy="1181.6" r="2.05"/><circle cx="256.5" cy="1214.6" r="2.05"/><circle cx="275.2" cy="1243.2" r="2.05"/><circle cx="260.1" cy="1172.5" r="2.05"/><circle cx="272.2" cy="1202.6" r="2.05"/><circle cx="354.6" cy="1153.1" r="2.05"/><circle cx="277.9" cy="1145.1" r="2.05"/><circle cx="307.4" cy="1169.2" r="2.05"/><circle cx="310.1" cy="1183.1" r="2.05"/><circle cx="276.4" cy="1126.9" r="2.05"/><circle cx="293.0" cy="1134.0" r="2.05"/><circle cx="267.5" cy="1170.3" r="2.05"/><circle cx="289.4" cy="1148.3" r="2.05"/><circle cx="304.2" cy="1173.8" r="2.05"/><circle cx="304.5" cy="1155.0" r="2.05"/><circle cx="298.2" cy="1237.4" r="2.05"/><circle cx="278.7" cy="1157.6" r="2.05"/><circle cx="280.9" cy="1137.3" r="2.05"/><circle cx="277.8" cy="1172.0" r="2.05"/><circle cx="270.2" cy="1176.9" r="2.05"/><circle cx="319.5" cy="1136.7" r="2.05"/><circle cx="313.3" cy="1156.0" r="2.05"/><circle cx="294.2" cy="1207.2" r="2.05"/><circle cx="307.1" cy="1190.5" r="2.05"/><circle cx="298.3" cy="1176.4" r="2.05"/><circle cx="312.8" cy="1191.0" r="2.05"/><circle cx="311.4" cy="1173.4" r="2.05"/><circle cx="332.7" cy="1176.8" r="2.05"/><circle cx="287.0" cy="1222.6" r="2.05"/><circle cx="313.5" cy="1172.8" r="2.05"/><circle cx="303.5" cy="1182.1" r="2.05"/><circle cx="324.4" cy="1176.5" r="2.05"/><circle cx="287.2" cy="1163.3" r="2.05"/><circle cx="262.2" cy="1159.3" r="2.05"/><circle cx="269.1" cy="1167.1" r="2.05"/><circle cx="319.3" cy="1183.6" r="2.05"/><circle cx="274.6" cy="1130.2" r="2.05"/><circle cx="291.9" cy="1145.6" r="2.05"/><circle cx="306.3" cy="1161.7" r="2.05"/><circle cx="327.7" cy="1174.5" r="2.05"/><circle cx="251.8" cy="1179.7" r="2.05"/><circle cx="275.8" cy="1202.5" r="2.05"/><circle cx="280.9" cy="1162.5" r="2.05"/><circle cx="304.1" cy="1171.3" r="2.05"/><circle cx="287.7" cy="1171.6" r="2.05"/><circle cx="279.9" cy="1195.4" r="2.05"/><circle cx="293.2" cy="1150.6" r="2.05"/><circle cx="272.8" cy="1172.9" r="2.05"/><circle cx="309.1" cy="1198.4" r="2.05"/><circle cx="301.0" cy="1169.0" r="2.05"/><circle cx="317.7" cy="1196.2" r="2.05"/><circle cx="280.2" cy="1132.7" r="2.05"/><circle cx="344.0" cy="1157.7" r="2.05"/><circle cx="326.9" cy="1189.2" r="2.05"/><circle cx="317.3" cy="1164.9" r="2.05"/><circle cx="309.3" cy="1204.6" r="2.05"/><circle cx="295.8" cy="1154.8" r="2.05"/><circle cx="320.4" cy="1161.1" r="2.05"/><circle cx="302.9" cy="1147.3" r="2.05"/><circle cx="335.9" cy="1209.0" r="2.05"/><circle cx="333.6" cy="1125.1" r="2.05"/><circle cx="311.0" cy="1196.8" r="2.05"/><circle cx="307.6" cy="1188.6" r="2.05"/><circle cx="314.0" cy="1176.7" r="2.05"/><circle cx="335.6" cy="1197.2" r="2.05"/><circle cx="329.9" cy="1191.1" r="2.05"/><circle cx="310.0" cy="1164.1" r="2.05"/><circle cx="258.6" cy="1222.5" r="2.05"/><circle cx="287.7" cy="1180.6" r="2.05"/><circle cx="276.9" cy="1153.6" r="2.05"/><circle cx="299.8" cy="1156.9" r="2.05"/><circle cx="265.5" cy="1176.4" r="2.05"/><circle cx="288.0" cy="1146.2" r="2.05"/><circle cx="324.6" cy="1185.5" r="2.05"/><circle cx="291.6" cy="1236.1" r="2.05"/><circle cx="344.3" cy="1163.1" r="2.05"/><circle cx="305.3" cy="1163.8" r="2.05"/><circle cx="287.9" cy="1218.6" r="2.05"/><circle cx="268.3" cy="1193.9" r="2.05"/><circle cx="286.0" cy="1201.7" r="2.05"/><circle cx="297.2" cy="1156.0" r="2.05"/><circle cx="296.4" cy="1169.0" r="2.05"/><circle cx="352.7" cy="1193.3" r="2.05"/><circle cx="275.1" cy="1151.2" r="2.05"/><circle cx="282.6" cy="1127.7" r="2.05"/><circle cx="274.7" cy="1173.0" r="2.05"/><circle cx="336.2" cy="1214.8" r="2.05"/><circle cx="318.9" cy="1165.2" r="2.05"/><circle cx="297.7" cy="1136.1" r="2.05"/><circle cx="276.9" cy="1156.2" r="2.05"/><circle cx="279.2" cy="1139.0" r="2.05"/><circle cx="260.3" cy="1174.4" r="2.05"/><circle cx="278.2" cy="1201.3" r="2.05"/><circle cx="317.7" cy="1183.2" r="2.05"/><circle cx="306.7" cy="1233.7" r="2.05"/><circle cx="265.4" cy="1198.6" r="2.05"/><circle cx="301.2" cy="1214.8" r="2.05"/><circle cx="300.4" cy="1147.6" r="2.05"/><circle cx="293.9" cy="1169.1" r="2.05"/><circle cx="281.8" cy="1195.9" r="2.05"/><circle cx="290.7" cy="1167.6" r="2.05"/><circle cx="329.9" cy="1168.1" r="2.05"/><circle cx="273.1" cy="1151.4" r="2.05"/><circle cx="265.0" cy="1226.1" r="2.05"/><circle cx="285.2" cy="1191.8" r="2.05"/><circle cx="307.7" cy="1174.9" r="2.05"/><circle cx="257.7" cy="1192.5" r="2.05"/><circle cx="278.0" cy="1119.0" r="2.05"/><circle cx="258.8" cy="1200.7" r="2.05"/><circle cx="323.1" cy="1135.0" r="2.05"/><circle cx="282.4" cy="1137.5" r="2.05"/><circle cx="289.0" cy="1197.4" r="2.05"/><circle cx="288.6" cy="1149.8" r="2.05"/><circle cx="329.2" cy="1179.1" r="2.05"/><circle cx="257.5" cy="1167.6" r="2.05"/><circle cx="279.4" cy="1191.1" r="2.05"/><circle cx="302.2" cy="1167.8" r="2.05"/><circle cx="259.8" cy="1191.7" r="2.05"/><circle cx="327.3" cy="1178.9" r="2.05"/><circle cx="337.8" cy="1236.8" r="2.05"/><circle cx="263.2" cy="1173.1" r="2.05"/><circle cx="265.8" cy="1169.1" r="2.05"/><circle cx="293.1" cy="1208.8" r="2.05"/><circle cx="338.2" cy="1127.1" r="2.05"/><circle cx="257.2" cy="1184.3" r="2.05"/><circle cx="279.3" cy="1179.9" r="2.05"/><circle cx="320.0" cy="1141.9" r="2.05"/><circle cx="282.8" cy="1162.3" r="2.05"/><circle cx="308.4" cy="1214.6" r="2.05"/><circle cx="293.2" cy="1200.2" r="2.05"/><circle cx="321.1" cy="1140.4" r="2.05"/><circle cx="299.3" cy="1134.8" r="2.05"/><circle cx="283.9" cy="1194.0" r="2.05"/><circle cx="326.2" cy="1173.3" r="2.05"/><circle cx="299.7" cy="1208.4" r="2.05"/><circle cx="309.8" cy="1175.7" r="2.05"/><circle cx="287.5" cy="1202.3" r="2.05"/><circle cx="271.3" cy="1184.8" r="2.05"/><circle cx="295.0" cy="1140.2" r="2.05"/><circle cx="266.2" cy="1193.0" r="2.05"/><circle cx="269.2" cy="1204.4" r="2.05"/><circle cx="273.5" cy="1162.2" r="2.05"/><circle cx="280.1" cy="1198.0" r="2.05"/><circle cx="306.6" cy="1170.0" r="2.05"/><circle cx="265.4" cy="1142.1" r="2.05"/><circle cx="273.8" cy="1199.7" r="2.05"/><circle cx="300.4" cy="1195.6" r="2.05"/><circle cx="264.7" cy="1137.7" r="2.05"/><circle cx="278.9" cy="1199.3" r="2.05"/><circle cx="295.6" cy="1177.7" r="2.05"/><circle cx="303.4" cy="1185.9" r="2.05"/><circle cx="302.4" cy="1204.8" r="2.05"/><circle cx="312.5" cy="1183.2" r="2.05"/><circle cx="271.5" cy="1206.8" r="2.05"/><circle cx="314.9" cy="1175.2" r="2.05"/><circle cx="280.4" cy="1164.9" r="2.05"/><circle cx="286.8" cy="1183.1" r="2.05"/><circle cx="299.6" cy="1186.0" r="2.05"/><circle cx="314.4" cy="1112.5" r="2.05"/><circle cx="279.7" cy="1157.3" r="2.05"/><circle cx="311.3" cy="1119.3" r="2.05"/><circle cx="320.5" cy="1201.0" r="2.05"/><circle cx="286.7" cy="1130.5" r="2.05"/><circle cx="320.2" cy="1194.0" r="2.05"/><circle cx="297.7" cy="1137.6" r="2.05"/><circle cx="324.9" cy="1183.5" r="2.05"/><circle cx="301.4" cy="1159.2" r="2.05"/><circle cx="285.2" cy="1179.9" r="2.05"/><circle cx="316.5" cy="1173.5" r="2.05"/><circle cx="289.4" cy="1142.5" r="2.05"/><circle cx="321.2" cy="1158.4" r="2.05"/><circle cx="280.5" cy="1194.7" r="2.05"/><circle cx="262.7" cy="1189.9" r="2.05"/><circle cx="299.3" cy="1207.9" r="2.05"/><circle cx="268.9" cy="1200.2" r="2.05"/><circle cx="296.1" cy="1184.6" r="2.05"/><circle cx="330.8" cy="1138.4" r="2.05"/><circle cx="292.6" cy="1176.7" r="2.05"/><circle cx="319.4" cy="1196.5" r="2.05"/><circle cx="316.3" cy="1206.6" r="2.05"/><circle cx="281.6" cy="1164.5" r="2.05"/><circle cx="294.7" cy="1215.8" r="2.05"/><circle cx="270.2" cy="1169.8" r="2.05"/><circle cx="250.2" cy="1126.3" r="2.05"/><circle cx="273.2" cy="1169.5" r="2.05"/><circle cx="363.8" cy="1180.1" r="2.05"/><circle cx="298.7" cy="1157.8" r="2.05"/><circle cx="287.6" cy="1200.1" r="2.05"/><circle cx="251.3" cy="1167.1" r="2.05"/><circle cx="285.7" cy="1138.1" r="2.05"/><circle cx="296.2" cy="1155.6" r="2.05"/><circle cx="264.1" cy="1181.8" r="2.05"/><circle cx="302.5" cy="1182.9" r="2.05"/><circle cx="308.7" cy="1184.3" r="2.05"/><circle cx="284.0" cy="1163.1" r="2.05"/><circle cx="260.9" cy="1104.7" r="2.05"/><circle cx="258.4" cy="1134.8" r="2.05"/><circle cx="331.2" cy="1179.9" r="2.05"/><circle cx="302.1" cy="1147.6" r="2.05"/><circle cx="300.8" cy="1156.1" r="2.05"/><circle cx="282.8" cy="1159.8" r="2.05"/><circle cx="277.2" cy="1203.3" r="2.05"/><circle cx="285.7" cy="1153.9" r="2.05"/><circle cx="299.0" cy="1163.4" r="2.05"/><circle cx="281.2" cy="1169.8" r="2.05"/><circle cx="270.8" cy="1176.7" r="2.05"/><circle cx="293.8" cy="1194.7" r="2.05"/><circle cx="330.3" cy="1224.7" r="2.05"/><circle cx="308.0" cy="1182.0" r="2.05"/><circle cx="317.8" cy="1186.9" r="2.05"/><circle cx="313.0" cy="1193.7" r="2.05"/><circle cx="271.1" cy="1179.1" r="2.05"/><circle cx="292.1" cy="1199.5" r="2.05"/><circle cx="321.8" cy="1201.8" r="2.05"/><circle cx="284.9" cy="1170.8" r="2.05"/><circle cx="287.7" cy="1146.0" r="2.05"/><circle cx="266.9" cy="1147.9" r="2.05"/><circle cx="320.5" cy="1172.8" r="2.05"/><circle cx="341.9" cy="1215.3" r="2.05"/><circle cx="275.8" cy="1211.7" r="2.05"/><circle cx="298.2" cy="1202.6" r="2.05"/><circle cx="257.1" cy="1185.4" r="2.05"/><circle cx="277.1" cy="1136.7" r="2.05"/><circle cx="298.4" cy="1176.2" r="2.05"/><circle cx="312.5" cy="1163.0" r="2.05"/><circle cx="306.6" cy="1204.2" r="2.05"/><circle cx="290.4" cy="1161.4" r="2.05"/><circle cx="290.9" cy="1159.7" r="2.05"/><circle cx="318.0" cy="1138.9" r="2.05"/><circle cx="296.5" cy="1158.6" r="2.05"/><circle cx="280.7" cy="1183.5" r="2.05"/><circle cx="310.0" cy="1207.5" r="2.05"/><circle cx="321.5" cy="1203.8" r="2.05"/><circle cx="288.4" cy="1194.8" r="2.05"/><circle cx="268.0" cy="1161.5" r="2.05"/><circle cx="283.4" cy="1181.9" r="2.05"/><circle cx="299.4" cy="1139.6" r="2.05"/><circle cx="295.6" cy="1192.7" r="2.05"/><circle cx="290.9" cy="1147.6" r="2.05"/><circle cx="264.2" cy="1166.6" r="2.05"/><circle cx="323.1" cy="1190.5" r="2.05"/><circle cx="286.6" cy="1149.5" r="2.05"/><circle cx="275.3" cy="1174.5" r="2.05"/><circle cx="283.3" cy="1167.6" r="2.05"/><circle cx="261.4" cy="1218.7" r="2.05"/><circle cx="319.5" cy="1195.3" r="2.05"/><circle cx="265.5" cy="1151.0" r="2.05"/><circle cx="275.4" cy="1179.5" r="2.05"/><circle cx="260.9" cy="1181.7" r="2.05"/><circle cx="300.2" cy="1146.3" r="2.05"/><circle cx="310.4" cy="1206.7" r="2.05"/><circle cx="281.6" cy="1156.3" r="2.05"/><circle cx="268.0" cy="1198.6" r="2.05"/><circle cx="282.0" cy="1144.8" r="2.05"/><circle cx="259.9" cy="1152.9" r="2.05"/><circle cx="376.4" cy="1198.1" r="2.05"/><circle cx="342.5" cy="1197.5" r="2.05"/><circle cx="355.7" cy="1108.2" r="2.05"/><circle cx="383.6" cy="1140.9" r="2.05"/><circle cx="351.9" cy="1142.0" r="2.05"/><circle cx="331.9" cy="1170.8" r="2.05"/><circle cx="390.0" cy="1108.7" r="2.05"/><circle cx="371.4" cy="1173.5" r="2.05"/><circle cx="352.2" cy="1207.1" r="2.05"/><circle cx="372.9" cy="1127.6" r="2.05"/><circle cx="375.8" cy="1180.0" r="2.05"/><circle cx="345.8" cy="1207.3" r="2.05"/><circle cx="397.0" cy="1178.2" r="2.05"/><circle cx="391.2" cy="1205.4" r="2.05"/><circle cx="377.5" cy="1153.2" r="2.05"/><circle cx="349.2" cy="1194.6" r="2.05"/><circle cx="395.1" cy="1198.1" r="2.05"/><circle cx="399.7" cy="1159.1" r="2.05"/><circle cx="409.5" cy="1181.4" r="2.05"/><circle cx="346.9" cy="1209.9" r="2.05"/><circle cx="341.8" cy="1177.6" r="2.05"/><circle cx="402.2" cy="1117.7" r="2.05"/><circle cx="335.6" cy="1247.1" r="2.05"/><circle cx="363.3" cy="1166.0" r="2.05"/><circle cx="340.6" cy="1207.2" r="2.05"/><circle cx="473.3" cy="1123.2" r="2.05"/><circle cx="482.8" cy="1142.1" r="2.05"/><circle cx="466.1" cy="1147.4" r="2.05"/><circle cx="461.2" cy="1157.3" r="2.05"/><circle cx="470.9" cy="1154.6" r="2.05"/><circle cx="472.4" cy="1166.7" r="2.05"/><circle cx="481.0" cy="1170.8" r="2.05"/><circle cx="472.4" cy="1192.9" r="2.05"/><circle cx="552.4" cy="1169.9" r="2.05"/><circle cx="559.1" cy="1165.4" r="2.05"/><circle cx="566.3" cy="1176.8" r="2.05"/><circle cx="558.7" cy="1178.6" r="2.05"/><circle cx="561.9" cy="1181.6" r="2.05"/><circle cx="554.2" cy="1187.6" r="2.05"/><circle cx="555.1" cy="1194.2" r="2.05"/><circle cx="586.0" cy="1189.4" r="2.05"/><circle cx="592.9" cy="1148.0" r="2.05"/><circle cx="595.0" cy="1178.6" r="2.05"/></g>
<g fill="#8a1212" stroke="#220505" stroke-width="1.05"><circle cx="315.4" cy="1188.7" r="2.05"/><circle cx="394.2" cy="1175.6" r="2.05"/><circle cx="324.3" cy="1111.7" r="2.05"/><circle cx="371.5" cy="1210.8" r="2.05"/><circle cx="555.1" cy="1184.3" r="2.05"/><circle cx="399.7" cy="1159.6" r="2.05"/><circle cx="280.9" cy="1199.8" r="2.05"/><circle cx="330.7" cy="1149.0" r="2.05"/><circle cx="335.7" cy="1203.8" r="2.05"/><circle cx="284.6" cy="1176.9" r="2.05"/><circle cx="573.1" cy="1161.3" r="2.05"/><circle cx="258.0" cy="1125.4" r="2.05"/><circle cx="406.5" cy="1154.8" r="2.05"/><circle cx="335.0" cy="1175.5" r="2.05"/><circle cx="332.3" cy="1221.7" r="2.05"/><circle cx="473.3" cy="1142.9" r="2.05"/><circle cx="348.2" cy="1156.0" r="2.05"/><circle cx="385.5" cy="1166.1" r="2.05"/><circle cx="316.0" cy="1144.4" r="2.05"/><circle cx="316.6" cy="1190.8" r="2.05"/><circle cx="259.8" cy="1166.9" r="2.05"/><circle cx="326.0" cy="1185.2" r="2.05"/><circle cx="366.7" cy="1199.4" r="2.05"/><circle cx="560.5" cy="1175.3" r="2.05"/><circle cx="320.0" cy="1190.9" r="2.05"/><circle cx="253.2" cy="1184.2" r="2.05"/><circle cx="341.1" cy="1156.0" r="2.05"/><circle cx="307.8" cy="1142.1" r="2.05"/><circle cx="268.8" cy="1184.5" r="2.05"/><circle cx="305.4" cy="1143.8" r="2.05"/><circle cx="357.5" cy="1176.3" r="2.05"/><circle cx="332.5" cy="1197.6" r="2.05"/><circle cx="294.7" cy="1156.8" r="2.05"/><circle cx="347.4" cy="1202.0" r="2.05"/><circle cx="493.6" cy="1172.1" r="2.05"/><circle cx="284.6" cy="1191.0" r="2.05"/><circle cx="330.8" cy="1192.9" r="2.05"/><circle cx="302.2" cy="1162.3" r="2.05"/><circle cx="356.2" cy="1183.6" r="2.05"/><circle cx="370.8" cy="1191.4" r="2.05"/><circle cx="315.8" cy="1207.7" r="2.05"/><circle cx="428.9" cy="1139.0" r="2.05"/><circle cx="282.2" cy="1237.0" r="2.05"/><circle cx="361.4" cy="1158.5" r="2.05"/><circle cx="385.2" cy="1177.7" r="2.05"/><circle cx="509.8" cy="1198.7" r="2.05"/><circle cx="343.4" cy="1205.7" r="2.05"/><circle cx="261.7" cy="1224.4" r="2.05"/><circle cx="328.2" cy="1131.7" r="2.05"/><circle cx="321.4" cy="1206.0" r="2.05"/><circle cx="404.3" cy="1157.1" r="2.05"/><circle cx="271.8" cy="1157.5" r="2.05"/><circle cx="320.8" cy="1197.1" r="2.05"/><circle cx="357.2" cy="1210.6" r="2.05"/><circle cx="414.0" cy="1169.3" r="2.05"/><circle cx="392.5" cy="1177.0" r="2.05"/><circle cx="341.1" cy="1153.4" r="2.05"/><circle cx="397.8" cy="1156.4" r="2.05"/><circle cx="281.2" cy="1176.6" r="2.05"/><circle cx="483.2" cy="1182.9" r="2.05"/><circle cx="380.9" cy="1166.6" r="2.05"/><circle cx="303.9" cy="1163.4" r="2.05"/><circle cx="345.7" cy="1158.6" r="2.05"/><circle cx="342.0" cy="1110.5" r="2.05"/><circle cx="348.7" cy="1216.2" r="2.05"/><circle cx="279.6" cy="1195.0" r="2.05"/><circle cx="390.2" cy="1168.3" r="2.05"/><circle cx="345.4" cy="1155.4" r="2.05"/><circle cx="373.0" cy="1171.0" r="2.05"/><circle cx="286.6" cy="1140.3" r="2.05"/><circle cx="279.1" cy="1156.3" r="2.05"/><circle cx="326.8" cy="1194.6" r="2.05"/><circle cx="296.9" cy="1184.4" r="2.05"/><circle cx="298.5" cy="1163.6" r="2.05"/><circle cx="297.9" cy="1151.0" r="2.05"/><circle cx="321.5" cy="1132.2" r="2.05"/><circle cx="340.2" cy="1170.2" r="2.05"/><circle cx="407.8" cy="1153.0" r="2.05"/><circle cx="334.8" cy="1154.0" r="2.05"/><circle cx="336.7" cy="1184.0" r="2.05"/><circle cx="556.9" cy="1179.8" r="2.05"/><circle cx="263.3" cy="1181.7" r="2.05"/><circle cx="320.4" cy="1164.6" r="2.05"/><circle cx="361.8" cy="1232.1" r="2.05"/><circle cx="331.9" cy="1186.1" r="2.05"/><circle cx="360.4" cy="1191.7" r="2.05"/><circle cx="526.9" cy="1118.1" r="2.05"/><circle cx="337.9" cy="1165.3" r="2.05"/><circle cx="296.1" cy="1211.8" r="2.05"/><circle cx="365.1" cy="1143.8" r="2.05"/><circle cx="272.7" cy="1138.6" r="2.05"/><circle cx="317.5" cy="1191.8" r="2.05"/><circle cx="411.5" cy="1149.7" r="2.05"/><circle cx="369.9" cy="1163.8" r="2.05"/><circle cx="283.2" cy="1166.2" r="2.05"/><circle cx="302.0" cy="1181.6" r="2.05"/><circle cx="318.7" cy="1174.4" r="2.05"/><circle cx="373.4" cy="1163.6" r="2.05"/><circle cx="317.4" cy="1172.6" r="2.05"/><circle cx="358.4" cy="1144.2" r="2.05"/><circle cx="331.0" cy="1221.1" r="2.05"/><circle cx="297.1" cy="1195.7" r="2.05"/><circle cx="338.4" cy="1199.0" r="2.05"/><circle cx="389.7" cy="1119.6" r="2.05"/><circle cx="336.2" cy="1142.9" r="2.05"/><circle cx="345.0" cy="1160.1" r="2.05"/><circle cx="564.5" cy="1192.9" r="2.05"/><circle cx="271.9" cy="1219.1" r="2.05"/><circle cx="317.8" cy="1163.2" r="2.05"/><circle cx="291.4" cy="1161.7" r="2.05"/><circle cx="299.4" cy="1161.1" r="2.05"/><circle cx="286.4" cy="1200.7" r="2.05"/><circle cx="293.7" cy="1183.6" r="2.05"/><circle cx="268.3" cy="1174.5" r="2.05"/><circle cx="393.3" cy="1187.2" r="2.05"/><circle cx="303.1" cy="1181.3" r="2.05"/><circle cx="309.4" cy="1177.4" r="2.05"/><circle cx="297.2" cy="1160.2" r="2.05"/><circle cx="453.5" cy="1168.5" r="2.05"/><circle cx="307.8" cy="1148.5" r="2.05"/><circle cx="288.3" cy="1229.8" r="2.05"/><circle cx="304.4" cy="1109.7" r="2.05"/><circle cx="291.5" cy="1212.0" r="2.05"/><circle cx="259.8" cy="1199.8" r="2.05"/><circle cx="282.7" cy="1184.0" r="2.05"/><circle cx="294.6" cy="1182.9" r="2.05"/><circle cx="311.4" cy="1221.1" r="2.05"/><circle cx="437.1" cy="1178.4" r="2.05"/><circle cx="395.6" cy="1174.9" r="2.05"/><circle cx="276.5" cy="1203.8" r="2.05"/><circle cx="287.2" cy="1124.3" r="2.05"/><circle cx="334.1" cy="1156.7" r="2.05"/><circle cx="273.1" cy="1193.5" r="2.05"/><circle cx="305.5" cy="1163.1" r="2.05"/><circle cx="376.7" cy="1126.6" r="2.05"/><circle cx="319.3" cy="1194.5" r="2.05"/><circle cx="314.9" cy="1183.7" r="2.05"/><circle cx="367.7" cy="1139.2" r="2.05"/><circle cx="374.2" cy="1178.4" r="2.05"/><circle cx="385.7" cy="1144.7" r="2.05"/><circle cx="404.9" cy="1157.6" r="2.05"/><circle cx="344.1" cy="1181.1" r="2.05"/><circle cx="324.3" cy="1212.7" r="2.05"/><circle cx="371.9" cy="1224.3" r="2.05"/><circle cx="391.6" cy="1163.1" r="2.05"/><circle cx="445.4" cy="1195.1" r="2.05"/><circle cx="291.4" cy="1188.1" r="2.05"/><circle cx="319.8" cy="1166.1" r="2.05"/><circle cx="405.0" cy="1162.1" r="2.05"/><circle cx="298.0" cy="1201.3" r="2.05"/><circle cx="343.2" cy="1184.7" r="2.05"/><circle cx="313.4" cy="1137.9" r="2.05"/><circle cx="291.5" cy="1153.1" r="2.05"/><circle cx="343.7" cy="1162.3" r="2.05"/><circle cx="320.0" cy="1137.1" r="2.05"/><circle cx="363.1" cy="1177.2" r="2.05"/><circle cx="361.3" cy="1189.1" r="2.05"/><circle cx="303.9" cy="1185.4" r="2.05"/><circle cx="390.1" cy="1192.7" r="2.05"/><circle cx="426.6" cy="1213.4" r="2.05"/><circle cx="407.5" cy="1178.0" r="2.05"/><circle cx="427.6" cy="1212.9" r="2.05"/><circle cx="356.0" cy="1201.8" r="2.05"/><circle cx="345.7" cy="1192.1" r="2.05"/><circle cx="314.4" cy="1187.7" r="2.05"/><circle cx="330.8" cy="1175.4" r="2.05"/><circle cx="362.0" cy="1156.5" r="2.05"/><circle cx="415.6" cy="1155.6" r="2.05"/><circle cx="421.9" cy="1196.7" r="2.05"/><circle cx="326.2" cy="1212.7" r="2.05"/><circle cx="407.7" cy="1199.9" r="2.05"/><circle cx="397.6" cy="1138.9" r="2.05"/><circle cx="343.3" cy="1138.8" r="2.05"/><circle cx="309.8" cy="1123.0" r="2.05"/><circle cx="317.3" cy="1188.8" r="2.05"/><circle cx="325.2" cy="1172.7" r="2.05"/><circle cx="322.8" cy="1191.6" r="2.05"/><circle cx="343.1" cy="1170.3" r="2.05"/><circle cx="314.2" cy="1206.2" r="2.05"/><circle cx="280.1" cy="1152.8" r="2.05"/><circle cx="310.3" cy="1194.3" r="2.05"/><circle cx="337.3" cy="1182.4" r="2.05"/><circle cx="318.1" cy="1150.9" r="2.05"/><circle cx="346.4" cy="1158.1" r="2.05"/><circle cx="332.2" cy="1224.7" r="2.05"/><circle cx="271.3" cy="1154.9" r="2.05"/><circle cx="343.1" cy="1145.3" r="2.05"/><circle cx="308.1" cy="1208.2" r="2.05"/><circle cx="506.5" cy="1181.6" r="2.05"/><circle cx="300.0" cy="1181.6" r="2.05"/><circle cx="321.4" cy="1172.3" r="2.05"/><circle cx="319.1" cy="1161.1" r="2.05"/><circle cx="342.1" cy="1204.9" r="2.05"/></g>
<path d="M248.6 1063.5 V1292.7 H674" fill="none" stroke="#111" stroke-width="1.3"/>
<text x="236" y="1067.9" text-anchor="end" font-size="15" font-weight="bold" fill="#111">1</text>
<text x="236" y="1106.1000000000001" text-anchor="end" font-size="15" font-weight="bold" textLength="17.5" lengthAdjust="spacingAndGlyphs" fill="#111">0.9</text>
<text x="236" y="1145.4" text-anchor="end" font-size="15" font-weight="bold" textLength="17.5" lengthAdjust="spacingAndGlyphs" fill="#111">0.8</text>
<text x="236" y="1183.4" text-anchor="end" font-size="15" font-weight="bold" textLength="17.5" lengthAdjust="spacingAndGlyphs" fill="#111">0.7</text>
<text x="236" y="1221.7" text-anchor="end" font-size="15" font-weight="bold" textLength="17.5" lengthAdjust="spacingAndGlyphs" fill="#111">0.6</text>
<text x="236" y="1260.9" text-anchor="end" font-size="15" font-weight="bold" textLength="17.5" lengthAdjust="spacingAndGlyphs" fill="#111">0.5</text>
<text x="236" y="1299.1000000000001" text-anchor="end" font-size="15" font-weight="bold" textLength="17.5" lengthAdjust="spacingAndGlyphs" fill="#111">0.4</text>
<text x="245.1" y="1321.3" font-size="15.5" font-weight="bold" textLength="7" lengthAdjust="spacingAndGlyphs" fill="#111">0</text>
<text x="294.4" y="1321.3" font-size="15.5" font-weight="bold" textLength="14" lengthAdjust="spacingAndGlyphs" fill="#111">20</text>
<text x="347.3" y="1321.3" font-size="15.5" font-weight="bold" textLength="14" lengthAdjust="spacingAndGlyphs" fill="#111">40</text>
<text x="400.1" y="1321.3" font-size="15.5" font-weight="bold" textLength="14" lengthAdjust="spacingAndGlyphs" fill="#111">60</text>
<text x="453.0" y="1321.3" font-size="15.5" font-weight="bold" textLength="14" lengthAdjust="spacingAndGlyphs" fill="#111">80</text>
<text x="503.1" y="1321.3" font-size="15.5" font-weight="bold" textLength="19.5" lengthAdjust="spacingAndGlyphs" fill="#111">100</text>
<text x="555.9" y="1321.3" font-size="15.5" font-weight="bold" textLength="19.5" lengthAdjust="spacingAndGlyphs" fill="#111">120</text>
<text x="608.8" y="1321.3" font-size="15.5" font-weight="bold" textLength="19.5" lengthAdjust="spacingAndGlyphs" fill="#111">140</text>
<text x="661.6" y="1321.3" font-size="15.5" font-weight="bold" textLength="19.5" lengthAdjust="spacingAndGlyphs" fill="#111">160</text>
<text x="414" y="1347" font-size="18" textLength="81" lengthAdjust="spacingAndGlyphs" fill="#222" stroke="#222" stroke-width="0.2">Distance (km)</text>
<text transform="translate(216.3,1226) rotate(-90)" font-size="18" textLength="140" lengthAdjust="spacingAndGlyphs" fill="#222" stroke="#222" stroke-width="0.2">Bray Curtis Dissimilarity</text>
<circle cx="590.5" cy="1073.5" r="2.25" fill="#8a1212" stroke="#220505" stroke-width="1.2"/>
<text x="597" y="1078" font-size="13" font-weight="bold" textLength="82" lengthAdjust="spacingAndGlyphs" fill="#111">Different basins</text>
<circle cx="590.2" cy="1116" r="2.25" fill="#3cc4ee" stroke="#10303a" stroke-width="1.1"/>
<text x="599" y="1121.5" font-size="13" font-weight="bold" textLength="60" lengthAdjust="spacingAndGlyphs" fill="#111">Same basin</text>
<text x="692.6" y="1035.7" font-size="18" font-weight="bold" stroke="#111" stroke-width="0.25" textLength="11.4" lengthAdjust="spacingAndGlyphs" fill="#111">D</text>
<rect x="685" y="1047" width="306" height="249" fill="#fafafb"/>
<path d="M853.2 1189.6 L853.20 1090.20 A93.5 99.4 0 0 1 946.17 1200.20 Z" fill="#c1232b" stroke="#2a2a2a" stroke-width="0.7"/>
<path d="M853.2 1189.6 L946.17 1200.20 A93.5 99.4 0 0 1 858.48 1288.84 Z" fill="#f06b24" stroke="#2a2a2a" stroke-width="0.7"/>
<path d="M853.2 1189.6 L858.48 1288.84 A93.5 99.4 0 0 1 833.95 1092.33 Z" fill="#8069b1" stroke="#2a2a2a" stroke-width="0.7"/>
<path d="M853.2 1189.6 L833.95 1092.33 A93.5 99.4 0 0 1 850.85 1090.23 Z" fill="#3fb54a" stroke="#2a2a2a" stroke-width="0.7"/>
<path d="M853.2 1189.6 L850.85 1090.23 A93.5 99.4 0 0 1 853.20 1090.20 Z" fill="#2a3b97" stroke="#2a2a2a" stroke-width="0.7"/>
<rect x="697.6" y="1057.8" width="6.4" height="7" fill="#c1232b" stroke="#444" stroke-width="0.4"/>
<text x="706" y="1065.9" font-size="13" font-weight="bold" textLength="28.5" lengthAdjust="spacingAndGlyphs" fill="#111">Core</text>
<rect x="697.6" y="1078.0" width="6.4" height="7" fill="#f06b24" stroke="#444" stroke-width="0.4"/>
<text x="706" y="1086.1" font-size="13" font-weight="bold" textLength="82" lengthAdjust="spacingAndGlyphs" fill="#111">Cosmopolitan</text>
<rect x="697.6" y="1098.2" width="6.4" height="7" fill="#8069b1" stroke="#444" stroke-width="0.4"/>
<text x="706" y="1106.3" font-size="13" font-weight="bold" textLength="53" lengthAdjust="spacingAndGlyphs" fill="#111">Common</text>
<rect x="697.6" y="1118.4" width="6.4" height="7" fill="#3fb54a" stroke="#444" stroke-width="0.4"/>
<text x="706" y="1126.5" font-size="13" font-weight="bold" textLength="28" lengthAdjust="spacingAndGlyphs" fill="#111">Rare</text>
<rect x="697.6" y="1138.6" width="6.4" height="7" fill="#2a3b97" stroke="#444" stroke-width="0.4"/>
<text x="706" y="1146.7" font-size="13" font-weight="bold" textLength="42.5" lengthAdjust="spacingAndGlyphs" fill="#111">Unique</text>
<text x="800" y="1086" font-size="16" font-weight="bold" fill="#111">2.9%</text>
<text x="858" y="1076.5" font-size="14" font-weight="bold" fill="#111">0.4%</text>
<text x="948" y="1139" font-size="14" font-weight="bold" fill="#111">26.7%</text>
<text x="701" y="1208" font-size="14" font-weight="bold" fill="#111">47.6%</text>
<text x="922" y="1280" font-size="14" font-weight="bold" fill="#111">22.4%</text>
<path d="M840 1085 L846 1090 M855 1082 L853 1090 M947 1137 L930 1123 M742 1204 L757 1202 M921 1274 L919 1262" fill="none" stroke="#aaa" stroke-width="0.8"/>
</svg></body></html>
